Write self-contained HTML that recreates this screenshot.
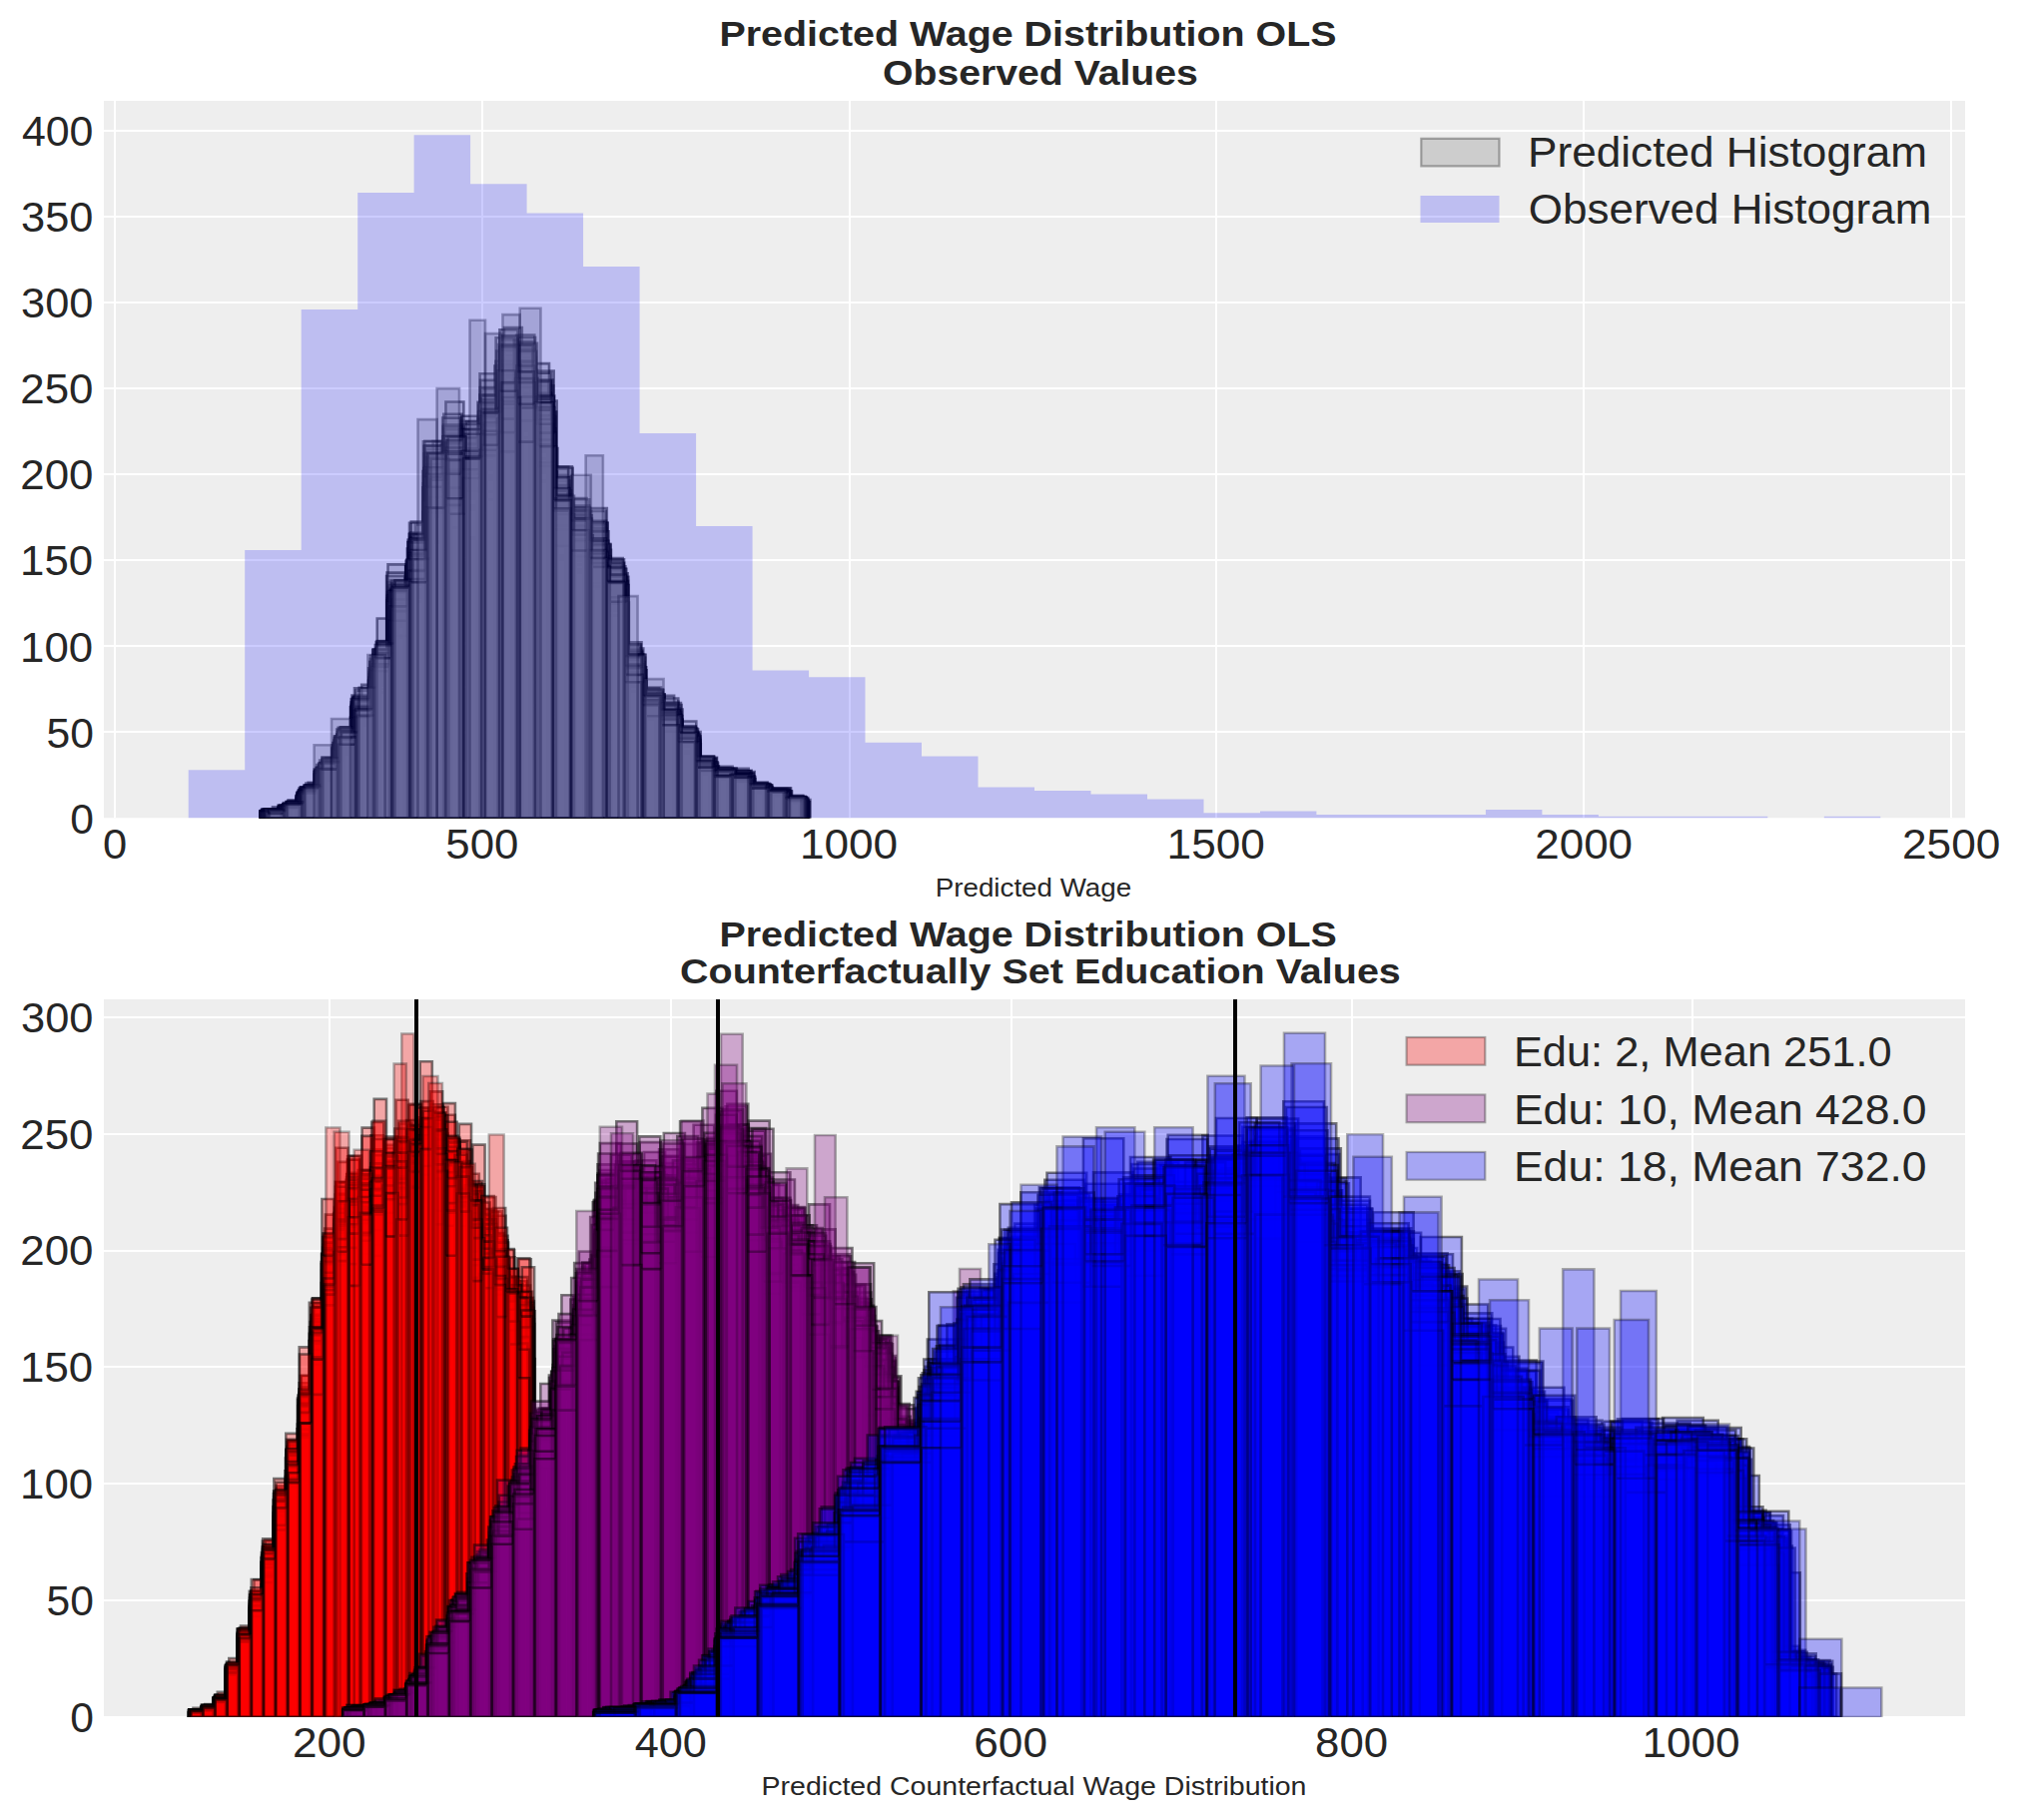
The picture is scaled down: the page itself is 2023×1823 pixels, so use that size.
<!DOCTYPE html>
<html><head><meta charset="utf-8"><title>Predicted Wage Distribution OLS</title>
<style>html,body{margin:0;padding:0;background:#fff}svg{display:block}</style></head>
<body>
<svg width="2023" height="1823" viewBox="0 0 2023 1823" font-family="'Liberation Sans', sans-serif" fill="#262626">
<rect width="2023" height="1823" fill="#fff"/>
<defs><clipPath id="ct"><rect x="104.0" y="101.0" width="1864.0" height="718.5"/></clipPath><clipPath id="cb"><rect x="104.0" y="1001.0" width="1864.0" height="719.0"/></clipPath></defs>
<rect x="104.0" y="101.0" width="1864.0" height="718.5" fill="#eee"/>
<rect x="104.0" y="1001.0" width="1864.0" height="719.0" fill="#eee"/>
<path clip-path="url(#ct)" d="M115,101.0V819.5M483,101.0V819.5M851,101.0V819.5M1218,101.0V819.5M1586,101.0V819.5M1954,101.0V819.5M104.0,820H1968.0M104.0,733H1968.0M104.0,647H1968.0M104.0,561H1968.0M104.0,475H1968.0M104.0,389H1968.0M104.0,303H1968.0M104.0,217H1968.0M104.0,131H1968.0" stroke="#fff" stroke-width="2" fill="none"/>
<path clip-path="url(#cb)" d="M330,1001.0V1720.0M672,1001.0V1720.0M1013,1001.0V1720.0M1354,1001.0V1720.0M1695,1001.0V1720.0M104.0,1720H1968.0M104.0,1603H1968.0M104.0,1486H1968.0M104.0,1369H1968.0M104.0,1253H1968.0M104.0,1136H1968.0M104.0,1019H1968.0" stroke="#fff" stroke-width="2" fill="none"/>
<g clip-path="url(#ct)" fill="#808080" fill-opacity=".3" stroke="#000" stroke-opacity=".5" stroke-width="2.6">
<path d="M265.9,819.5v-8.3h18.1v8.3v-12.6h18.1v12.6v-28h18.1v28v-57.9h18.1v57.9v-75.3h18.1v75.3v-127.9h18.2v127.9v-154.9h18.1v154.9v-231.8h18.1v231.8v-261.5h18.1v261.5v-350.9h18.1v350.9v-349.5h18.1v349.5v-351.2h18.1v351.2v-380.5h18.1v380.5v-455.8h18.1v455.8v-422.6h18.1v422.6v-379.8h18.1v379.8v-350.7h18.1v350.7v-300.7h18.1v300.7v-272.2h18.1v272.2v-209.4h18.1v209.4v-160.7h18.1v160.7v-128.4h18.1v128.4v-97.7h18.1v97.7v-74.9h18.1v74.9v-43.6h18.1v43.6v-45.5h18.1v45.5v-35.7h18.1v35.7v-29.3h18.1v29.3v-27.8h18.1v27.8v-14.7h18.1v14.7z"/>
<path d="M262.3,819.5v-7h18.3v7v-11.3h18.3v11.3v-25.1h18.3v25.1v-53.4h18.3v53.4v-68.9h18.3v68.9v-116.9h18.3v116.9v-129.8h18.3v129.8v-226.5h18.3v226.5v-237.6h18.3v237.6v-333.6h18.3v333.6v-385.3h18.3v385.3v-335.6h18.3v335.6v-387.8h18.3v387.8v-423.4h18.3v423.4v-461.8h18.3v461.8v-371h18.3v371v-282.1h18.3v282.1v-299.7h18.4v299.7v-243.2h18.3v243.2v-224.5h18.3v224.5v-147.7h18.3v147.7v-122.1h18.3v122.1v-99.1h18.3v99.1v-86.5h18.3v86.5v-52.2h18.3v52.2v-47.6h18.3v47.6v-39.3h18.3v39.3v-29.4h18.3v29.4v-27h18.3v27v-18.5h18.3v18.5z"/>
<path d="M261.1,819.5v-6.7h18.2v6.7v-12.2h18.3v12.2v-22.8h18.2v22.8v-42.8h18.3v42.8v-72.4h18.2v72.4v-115h18.3v115v-134.5h18.2v134.5v-203.1h18.3v203.1v-245.2h18.3v245.2v-353.6h18.2v353.6v-339.1h18.3v339.1v-360.4h18.2v360.4v-364.7h18.3v364.7v-445.3h18.2v445.3v-419.5h18.3v419.5v-377.8h18.2v377.8v-326.6h18.3v326.6v-274.2h18.2v274.2v-275.7h18.3v275.7v-222h18.2v222v-150.3h18.3v150.3v-120.3h18.2v120.3v-96.6h18.3v96.6v-79.4h18.2v79.4v-52h18.3v52v-45.9h18.2v45.9v-40h18.3v40v-33.3h18.3v33.3v-25.7h18.2v25.7v-16.3h18.3v16.3z"/>
<path d="M265.5,819.5v-6.3h18.1v6.3v-14.3h18v14.3v-26.4h18.1v26.4v-47h18v47v-84h18.1v84v-109.6h18v109.6v-149.9h18.1v149.9v-210h18v210v-284.3h18.1v284.3v-327.4h18v327.4v-376.9h18.1v376.9v-366.6h18v366.6v-408h18.1v408v-442h18v442v-433.2h18.1v433.2v-433.1h18v433.1v-290.2h18.1v290.2v-275.2h18v275.2v-296.3h18.1v296.3v-220.8h18v220.8v-145.8h18.1v145.8v-120.9h18v120.9v-104.3h18.1v104.3v-75.8h18v75.8v-53.7h18.1v53.7v-41h18v41v-42h18.1v42v-28.2h18v28.2v-28.2h18.1v28.2v-19h18v19z"/>
<path d="M265.5,819.5v-8.8h18.1v8.8v-9.9h18v9.9v-28h18.1v28v-52.5h18.1v52.5v-83.4h18.1v83.4v-94.9h18v94.9v-162.2h18.1v162.2v-203.9h18.1v203.9v-285.2h18.1v285.2v-323.5h18.1v323.5v-312.1h18v312.1v-347.5h18.1v347.5v-429.8h18.1v429.8v-419h18.1v419v-380.7h18v380.7v-448h18.1v448v-301.5h18.1v301.5v-298h18.1v298v-246.7h18.1v246.7v-217.7h18v217.7v-145.9h18.1v145.9v-126.6h18.1v126.6v-96h18.1v96v-74.4h18v74.4v-54.2h18.1v54.2v-47.5h18.1v47.5v-39.8h18.1v39.8v-31.5h18.1v31.5v-28.7h18v28.7v-17.2h18.1v17.2z"/>
<path d="M266,819.5v-8.4h18.1v8.4v-13h18.2v13v-27.4h18.1v27.4v-55.2h18.1v55.2v-77.6h18.2v77.6v-108.3h18.1v108.3v-161.8h18.1v161.8v-209h18.2v209v-286.3h18.1v286.3v-360.3h18.2v360.3v-340.4h18.1v340.4v-379.6h18.1v379.6v-366.2h18.2v366.2v-464h18.1v464v-410.5h18.1v410.5v-385.5h18.2v385.5v-315.8h18.1v315.8v-307.4h18.1v307.4v-248.8h18.2v248.8v-245.3h18.1v245.3v-140.9h18.2v140.9v-111.2h18.1v111.2v-98.1h18.1v98.1v-76.3h18.2v76.3v-47.4h18.1v47.4v-50.3h18.1v50.3v-46.5h18.2v46.5v-31.5h18.1v31.5v-25.8h18.1v25.8v-16.8h18.2v16.8z"/>
<path d="M261.8,819.5v-4.8h18.2v4.8v-9.9h18.1v9.9v-24.3h18.2v24.3v-47h18.2v47v-73.5h18.1v73.5v-100h18.2v100v-156.1h18.1v156.1v-228.1h18.2v228.1v-248.2h18.1v248.2v-315.1h18.2v315.1v-373.6h18.2v373.6v-377h18.1v377v-393.6h18.2v393.6v-403.6h18.1v403.6v-421.1h18.2v421.1v-381.9h18.1v381.9v-306.2h18.2v306.2v-275.1h18.2v275.1v-290.5h18.1v290.5v-209.9h18.2v209.9v-166.7h18.1v166.7v-110.1h18.2v110.1v-116.6h18.1v116.6v-77.3h18.2v77.3v-49.1h18.2v49.1v-49.1h18.1v49.1v-42.9h18.2v42.9v-33.1h18.1v33.1v-25.6h18.2v25.6v-15.9h18.1v15.9z"/>
<path d="M267.7,819.5v-8.4h18.1v8.4v-14.1h18.1v14.1v-30.9h18v30.9v-50.8h18.1v50.8v-78.9h18.1v78.9v-115.4h18.1v115.4v-165.1h18.1v165.1v-195.3h18.1v195.3v-257.7h18v257.7v-363.3h18.1v363.3v-352.3h18.1v352.3v-361.3h18.1v361.3v-410h18.1v410v-400.3h18.1v400.3v-432.7h18v432.7v-407.3h18.1v407.3v-258.9h18.1v258.9v-273h18.1v273v-273.2h18.1v273.2v-241.7h18.1v241.7v-137.2h18v137.2v-123.6h18.1v123.6v-92.6h18.1v92.6v-78.5h18.1v78.5v-49.8h18.1v49.8v-49.1h18.1v49.1v-42.1h18v42.1v-25.6h18.1v25.6v-30h18.1v30v-16.4h18.1v16.4z"/>
<path d="M261.4,819.5v-6.3h18.2v6.3v-10h18.3v10v-24.5h18.2v24.5v-47.8h18.3v47.8v-65.6h18.3v65.6v-116.7h18.2v116.7v-141h18.3v141v-216.7h18.3v216.7v-246.3h18.2v246.3v-339.4h18.3v339.4v-368.5h18.3v368.5v-335.3h18.2v335.3v-445.3h18.3v445.3v-387.6h18.3v387.6v-484h18.2v484v-439h18.3v439v-281.7h18.2v281.7v-313.2h18.3v313.2v-240.3h18.3v240.3v-233.8h18.2v233.8v-148.7h18.3v148.7v-125.4h18.3v125.4v-104.3h18.2v104.3v-72.6h18.3v72.6v-60.8h18.3v60.8v-41.7h18.2v41.7v-42.3h18.3v42.3v-30.9h18.2v30.9v-26.2h18.3v26.2v-16.1h18.3v16.1z"/>
<path d="M268.9,819.5v-7.2h17.9v7.2v-16.8h17.9v16.8v-29.7h17.9v29.7v-61.3h17.9v61.3v-81.8h17.9v81.8v-116.7h17.9v116.7v-169.7h17.9v169.7v-218.8h17.9v218.8v-249.3h17.9v249.3v-356.1h17.9v356.1v-335.1h17.9v335.1v-368.3h17.8v368.3v-374.8h17.9v374.8v-422.4h17.9v422.4v-395.8h17.9v395.8v-373.6h17.9v373.6v-311.5h17.9v311.5v-301.8h17.9v301.8v-249.3h17.9v249.3v-209.3h17.9v209.3v-145.4h17.9v145.4v-102.2h17.9v102.2v-88.5h17.9v88.5v-76.6h17.9v76.6v-47.8h17.9v47.8v-42.5h17.9v42.5v-40h17.9v40v-31.1h17.9v31.1v-27h17.9v27v-17.7h17.9v17.7z"/>
<path d="M262.9,819.5v-6.7h18.1v6.7v-10.2h18.2v10.2v-26.4h18.1v26.4v-49h18.1v49v-78.5h18.1v78.5v-120.8h18.1v120.8v-143.1h18.1v143.1v-203.9h18.1v203.9v-224.4h18.1v224.4v-327.3h18.1v327.3v-326.7h18.1v326.7v-327.9h18.1v327.9v-376.5h18.1v376.5v-454.5h18.1v454.5v-470.2h18.1v470.2v-418.2h18.1v418.2v-319.6h18.1v319.6v-246.6h18.1v246.6v-277.6h18.1v277.6v-232.6h18.1v232.6v-160.3h18.1v160.3v-115.3h18.1v115.3v-107h18.1v107v-82.3h18.2v82.3v-56.5h18.1v56.5v-47h18.1v47v-41.7h18.1v41.7v-30.9h18.1v30.9v-25.9h18.1v25.9v-17.6h18.1v17.6z"/>
<path d="M261.2,819.5v-6.9h18.1v6.9v-10.4h18.2v10.4v-25.9h18.2v25.9v-44.2h18.2v44.2v-75.5h18.2v75.5v-93h18.1v93v-148.8h18.2v148.8v-231.5h18.2v231.5v-224.9h18.2v224.9v-365.3h18.2v365.3v-291.2h18.1v291.2v-397.8h18.2v397.8v-318.9h18.2v318.9v-427.2h18.2v427.2v-450.4h18.1v450.4v-426.1h18.2v426.1v-317.4h18.2v317.4v-287.2h18.2v287.2v-307.5h18.2v307.5v-237.8h18.1v237.8v-162.7h18.2v162.7v-116.7h18.2v116.7v-100.2h18.2v100.2v-73.7h18.2v73.7v-56.2h18.1v56.2v-44.8h18.2v44.8v-39.7h18.2v39.7v-30.4h18.2v30.4v-26.2h18.2v26.2v-16.6h18.1v16.6z"/>
<path d="M262.7,819.5v-8.6h18.1v8.6v-9.5h18.1v9.5v-24.6h18.1v24.6v-43.3h18v43.3v-79.9h18.1v79.9v-108.4h18.1v108.4v-139.2h18.1v139.2v-200.6h18.1v200.6v-224.1h18.1v224.1v-324.1h18.1v324.1v-377.7h18.1v377.7v-389.7h18v389.7v-365.7h18.1v365.7v-383.2h18.1v383.2v-419.8h18.1v419.8v-422.1h18.1v422.1v-298.8h18.1v298.8v-273.6h18.1v273.6v-285.2h18v285.2v-218.8h18.1v218.8v-176.1h18.1v176.1v-112.8h18.1v112.8v-103.3h18.1v103.3v-80.3h18.1v80.3v-54.1h18.1v54.1v-46.5h18.1v46.5v-40.4h18v40.4v-33.1h18.1v33.1v-25.2h18.1v25.2v-19.1h18.1v19.1z"/>
<path d="M261.4,819.5v-6.7h18v6.7v-11.9h18v11.9v-23.2h18v23.2v-39.4h18v39.4v-75.4h18v75.4v-110.5h17.9v110.5v-137.7h18v137.7v-218.5h18v218.5v-234.4h18v234.4v-331.1h18v331.1v-373.5h18v373.5v-376.9h18v376.9v-370.8h18v370.8v-452.9h17.9v452.9v-402.3h18v402.3v-438.7h18v438.7v-314.3h18v314.3v-304.2h18v304.2v-249h18v249v-257.3h18v257.3v-166.9h18v166.9v-103.9h18v103.9v-122.6h17.9v122.6v-74.2h18v74.2v-54.1h18v54.1v-50.1h18v50.1v-39.5h18v39.5v-31.9h18v31.9v-26.9h18v26.9v-18.9h18v18.9z"/>
<path d="M266,819.5v-9h18v9v-10.7h18v10.7v-29.7h18.1v29.7v-47.8h18v47.8v-82.2h18.1v82.2v-120.2h18v120.2v-168.9h18.1v168.9v-225.9h18v225.9v-274.2h18.1v274.2v-323.7h18v323.7v-417h18v417v-337.5h18.1v337.5v-380.8h18v380.8v-451.9h18.1v451.9v-417.9h18v417.9v-382.9h18.1v382.9v-321.7h18v321.7v-301h18.1v301v-265.8h18v265.8v-243h18v243v-147.1h18.1v147.1v-111.2h18v111.2v-96.8h18.1v96.8v-80.6h18v80.6v-47.8h18.1v47.8v-47h18v47v-40.7h18.1v40.7v-31.4h18v31.4v-26h18v26v-17.8h18.1v17.8z"/>
<path d="M265.4,819.5v-7.1h18.2v7.1v-13.6h18.2v13.6v-30.7h18.2v30.7v-53.6h18.2v53.6v-78.5h18.1v78.5v-117.9h18.2v117.9v-163h18.2v163v-202.6h18.2v202.6v-243.8h18.2v243.8v-348.5h18.2v348.5v-384.5h18.1v384.5v-359.7h18.2v359.7v-373.5h18.2v373.5v-418.6h18.2v418.6v-448.7h18.2v448.7v-401.6h18.1v401.6v-308.3h18.2v308.3v-280.9h18.2v280.9v-274.5h18.2v274.5v-237.8h18.2v237.8v-151.3h18.2v151.3v-121.1h18.1v121.1v-108.9h18.2v108.9v-74.3h18.2v74.3v-47.3h18.2v47.3v-45.3h18.2v45.3v-41h18.2v41v-28.1h18.1v28.1v-27.1h18.2v27.1v-16.1h18.2v16.1z"/>
<path d="M262.2,819.5v-6.5h18.2v6.5v-12.8h18.2v12.8v-24.7h18.2v24.7v-48.5h18.3v48.5v-75.9h18.2v75.9v-110.6h18.2v110.6v-154.9h18.2v154.9v-205.4h18.3v205.4v-243.8h18.2v243.8v-328.3h18.2v328.3v-342.2h18.2v342.2v-340.1h18.2v340.1v-373.6h18.3v373.6v-417.1h18.2v417.1v-404.6h18.2v404.6v-405h18.2v405v-293h18.3v293v-319.3h18.2v319.3v-275.7h18.2v275.7v-231.8h18.2v231.8v-156.1h18.2v156.1v-123.7h18.3v123.7v-104.2h18.2v104.2v-85.8h18.2v85.8v-50.5h18.2v50.5v-46.6h18.3v46.6v-41.7h18.2v41.7v-29.3h18.2v29.3v-25.4h18.2v25.4v-17.6h18.2v17.6z"/>
<path d="M261.2,819.5v-5.1h18.2v5.1v-11.3h18.2v11.3v-22.8h18.2v22.8v-45.4h18.1v45.4v-73.4h18.2v73.4v-118.8h18.2v118.8v-126h18.2v126v-236.3h18.1v236.3v-254h18.2v254v-321.2h18.2v321.2v-371.1h18.1v371.1v-348h18.2v348v-381.3h18.2v381.3v-388.9h18.2v388.9v-470.6h18.1v470.6v-420.1h18.2v420.1v-314.1h18.2v314.1v-259.2h18.2v259.2v-290h18.1v290v-234.4h18.2v234.4v-160.1h18.2v160.1v-111.9h18.2v111.9v-99.9h18.1v99.9v-82.1h18.2v82.1v-55.3h18.2v55.3v-45.7h18.2v45.7v-39h18.1v39v-31.9h18.2v31.9v-28.7h18.2v28.7v-19.3h18.1v19.3z"/>
<path d="M260.9,819.5v-7.1h18.2v7.1v-10.2h18.1v10.2v-25.1h18.2v25.1v-38.5h18.1v38.5v-68.7h18.2v68.7v-119.4h18.1v119.4v-132.9h18.2v132.9v-223.6h18.1v223.6v-252.1h18.2v252.1v-342h18.1v342v-320.1h18.2v320.1v-325.4h18.1v325.4v-401.5h18.2v401.5v-377.5h18.1v377.5v-445.7h18.2v445.7v-398.8h18.1v398.8v-330.3h18.2v330.3v-303.2h18.1v303.2v-246.3h18.2v246.3v-241.5h18.1v241.5v-151.3h18.2v151.3v-114.7h18.1v114.7v-104.4h18.2v104.4v-91.8h18.1v91.8v-55.2h18.2v55.2v-47.4h18.1v47.4v-46.1h18.2v46.1v-30.4h18.1v30.4v-24.4h18.2v24.4v-19.8h18.1v19.8z"/>
<path d="M266.8,819.5v-8.2h17.8v8.2v-14.7h17.9v14.7v-27.9h17.8v27.9v-49.9h17.9v49.9v-78.9h17.8v78.9v-112h17.9v112v-164.1h17.8v164.1v-203.8h17.8v203.8v-266.4h17.9v266.4v-355.4h17.8v355.4v-338.9h17.9v338.9v-374.8h17.8v374.8v-412.6h17.9v412.6v-429.2h17.8v429.2v-437.6h17.9v437.6v-397.6h17.8v397.6v-295.1h17.9v295.1v-269.4h17.8v269.4v-276.1h17.9v276.1v-233.6h17.8v233.6v-158.2h17.9v158.2v-114.2h17.8v114.2v-97.6h17.9v97.6v-87.3h17.8v87.3v-51.9h17.8v51.9v-45.1h17.9v45.1v-43.8h17.8v43.8v-32.9h17.9v32.9v-25.5h17.8v25.5v-18.7h17.9v18.7z"/>
<path d="M262.1,819.5v-8.8h18.1v8.8v-10.1h18v10.1v-25.7h18.1v25.7v-46.3h18v46.3v-78h18.1v78v-113.8h18.1v113.8v-136.1h18v136.1v-254.1h18.1v254.1v-239h18v239v-350.5h18.1v350.5v-341.9h18.1v341.9v-320.5h18v320.5v-399.7h18.1v399.7v-382.3h18v382.3v-422.4h18.1v422.4v-354h18v354v-330.9h18.1v330.9v-310.7h18.1v310.7v-253.9h18v253.9v-242.4h18.1v242.4v-157.1h18v157.1v-120.2h18.1v120.2v-108.8h18.1v108.8v-79.7h18v79.7v-49.7h18.1v49.7v-43.6h18v43.6v-49.6h18.1v49.6v-33.4h18.1v33.4v-26.7h18v26.7v-18.5h18.1v18.5z"/>
<path d="M273,819.5v-11.2h17.9v11.2v-16.7h17.8v16.7v-35.7h17.9v35.7v-60.2h17.8v60.2v-85.4h17.8v85.4v-133.6h17.9v133.6v-176.8h17.8v176.8v-200.8h17.9v200.8v-294.1h17.8v294.1v-377.4h17.9v377.4v-348.1h17.8v348.1v-341h17.8v341v-349.5h17.9v349.5v-491.4h17.8v491.4v-413.9h17.9v413.9v-370.5h17.8v370.5v-309.9h17.8v309.9v-291.1h17.9v291.1v-268.7h17.8v268.7v-216h17.9v216v-148.1h17.8v148.1v-109.6h17.9v109.6v-102.5h17.8v102.5v-77.1h17.8v77.1v-55h17.9v55v-44.1h17.8v44.1v-39.6h17.9v39.6v-29.1h17.8v29.1v-28.9h17.8v28.9v-19.2h17.9v19.2z"/>
<path d="M265.7,819.5v-6.7h18v6.7v-14.1h18.1v14.1v-27.9h18v27.9v-52.6h18v52.6v-79.2h18.1v79.2v-112.9h18v112.9v-151.2h18v151.2v-222.3h18.1v222.3v-295.7h18v295.7v-339.8h18v339.8v-368.7h18v368.7v-322.6h18.1v322.6v-369.1h18v369.1v-420.1h18v420.1v-407.9h18.1v407.9v-410.8h18v410.8v-298.5h18v298.5v-292.7h18.1v292.7v-268.5h18v268.5v-237.1h18v237.1v-155.5h18.1v155.5v-117.8h18v117.8v-110.3h18v110.3v-87.8h18.1v87.8v-53.3h18v53.3v-42.2h18v42.2v-43.3h18v43.3v-34.6h18.1v34.6v-23.6h18v23.6v-19.2h18v19.2z"/>
<path d="M263.3,819.5v-6.4h18v6.4v-10.6h18.1v10.6v-25h18.1v25v-46.3h18.1v46.3v-74.1h18v74.1v-121.7h18.1v121.7v-136.5h18.1v136.5v-201.3h18v201.3v-270h18.1v270v-315.3h18.1v315.3v-391.9h18.1v391.9v-311.4h18v311.4v-363.5h18.1v363.5v-383.9h18.1v383.9v-456.7h18.1v456.7v-406.7h18v406.7v-311.2h18.1v311.2v-282.7h18.1v282.7v-277.7h18v277.7v-231.3h18.1v231.3v-158.8h18.1v158.8v-128h18.1v128v-99.8h18v99.8v-83h18.1v83v-53.9h18.1v53.9v-45.4h18.1v45.4v-41.5h18v41.5v-32.8h18.1v32.8v-22.4h18.1v22.4v-20.5h18v20.5z"/>
<path d="M263.6,819.5v-5.1h18.1v5.1v-12h18v12v-30.3h18.1v30.3v-47.7h18.1v47.7v-74.2h18v74.2v-114.4h18.1v114.4v-154.9h18.1v154.9v-211.6h18v211.6v-250.9h18.1v250.9v-353.7h18.1v353.7v-356.4h18v356.4v-402.7h18.1v402.7v-423.9h18.1v423.9v-390.9h18v390.9v-455.3h18.1v455.3v-387.1h18.1v387.1v-337.9h18v337.9v-274.8h18.1v274.8v-276.1h18.1v276.1v-218.2h18v218.2v-157.2h18.1v157.2v-121.4h18.1v121.4v-91.8h18v91.8v-82.3h18.1v82.3v-50.8h18.1v50.8v-42h18v42v-40.4h18.1v40.4v-29h18.1v29v-27.3h18v27.3v-17.1h18.1v17.1z"/>
<path d="M260.4,819.5v-7.1h18.1v7.1v-10.8h18.1v10.8v-21.4h18.1v21.4v-46.1h18.1v46.1v-69.6h18.1v69.6v-111.2h18.1v111.2v-137.6h18.1v137.6v-242.5h18.1v242.5v-235.2h18.1v235.2v-306.8h18.1v306.8v-368.2h18.1v368.2v-380.4h18.1v380.4v-372.8h18.1v372.8v-403.1h18.1v403.1v-425.6h18.1v425.6v-346.5h18.1v346.5v-343.6h18.1v343.6v-295.5h18.1v295.5v-245.6h18.2v245.6v-233.8h18.1v233.8v-160.3h18.1v160.3v-124.3h18.1v124.3v-113.9h18.1v113.9v-80.9h18.1v80.9v-54.8h18.1v54.8v-48.5h18.1v48.5v-43.2h18.1v43.2v-31.3h18.1v31.3v-25.7h18.1v25.7v-18.8h18.1v18.8z"/>
<path d="M264.4,819.5v-6h18v6v-11.8h18v11.8v-27.6h18v27.6v-47.7h18.1v47.7v-81.7h18v81.7v-103.5h18v103.5v-155.6h18v155.6v-225h18.1v225v-247.6h18v247.6v-322.6h18v322.6v-314.2h18v314.2v-366.8h18v366.8v-369.3h18.1v369.3v-366.5h18v366.5v-420.8h18v420.8v-360.2h18v360.2v-330.5h18v330.5v-288.1h18.1v288.1v-263.1h18v263.1v-226.8h18v226.8v-152.1h18v152.1v-107.1h18.1v107.1v-103.1h18v103.1v-81.6h18v81.6v-47.7h18v47.7v-48.2h18v48.2v-41.4h18.1v41.4v-31.7h18v31.7v-24.5h18v24.5v-19.6h18v19.6z"/>
<path d="M262.9,819.5v-8.7h18.1v8.7v-9.5h18.2v9.5v-25.2h18.1v25.2v-50.1h18.1v50.1v-73.3h18.2v73.3v-120.4h18.1v120.4v-148.7h18.1v148.7v-200.1h18.2v200.1v-244h18.1v244v-329.9h18.1v329.9v-394.2h18.1v394.2v-346.7h18.2v346.7v-410.9h18.1v410.9v-424.9h18.1v424.9v-477.4h18.2v477.4v-405.8h18.1v405.8v-308.8h18.1v308.8v-294h18.2v294v-282.9h18.1v282.9v-232.1h18.1v232.1v-158.1h18.2v158.1v-121.8h18.1v121.8v-102.1h18.1v102.1v-90.3h18.2v90.3v-55.1h18.1v55.1v-45.7h18.1v45.7v-41.3h18.2v41.3v-29.7h18.1v29.7v-26.3h18.1v26.3v-16.4h18.2v16.4z"/>
<path d="M266.1,819.5v-8.1h17.9v8.1v-13.9h17.9v13.9v-27h17.9v27v-50h17.9v50v-80.8h18v80.8v-112.6h17.9v112.6v-149.6h17.9v149.6v-233.8h17.9v233.8v-224.4h17.9v224.4v-315.2h17.9v315.2v-389.2h17.9v389.2v-328.6h18v328.6v-438.6h17.9v438.6v-414.2h17.9v414.2v-387.7h17.9v387.7v-407.5h17.9v407.5v-324.1h17.9v324.1v-286.3h17.9v286.3v-259.3h18v259.3v-242.7h17.9v242.7v-167.5h17.9v167.5v-111.2h17.9v111.2v-92.3h17.9v92.3v-78.9h17.9v78.9v-57.1h17.9v57.1v-47.4h18v47.4v-46.8h17.9v46.8v-31.1h17.9v31.1v-25h17.9v25v-19.9h17.9v19.9z"/>
<path d="M266.1,819.5v-8.9h18v8.9v-11.9h18v11.9v-28.6h18v28.6v-50.4h18v50.4v-84.2h18.1v84.2v-114.6h18v114.6v-159.1h18v159.1v-209.8h18v209.8v-256.9h18v256.9v-330.9h18.1v330.9v-365.1h18v365.1v-366.3h18v366.3v-397.2h18v397.2v-442.8h18v442.8v-420.1h18.1v420.1v-412.7h18v412.7v-262.6h18v262.6v-283.3h18v283.3v-244.3h18v244.3v-231.6h18v231.6v-149h18.1v149v-119.1h18v119.1v-90.4h18v90.4v-75.8h18v75.8v-53.7h18v53.7v-45.8h18.1v45.8v-43.7h18v43.7v-29.6h18v29.6v-25.4h18v25.4v-20.6h18v20.6z"/>
<path d="M265.5,819.5v-6.9h17.9v6.9v-13.4h18v13.4v-29.3h18v29.3v-49.9h18v49.9v-75.7h18v75.7v-114.3h18v114.3v-157.2h18v157.2v-210h17.9v210v-265.8h18v265.8v-352h18v352v-319.9h18v319.9v-350.7h18v350.7v-360.9h18v360.9v-408.9h18v408.9v-453.1h18v453.1v-386.6h17.9v386.6v-321.2h18v321.2v-280.1h18v280.1v-250.3h18v250.3v-232.8h18v232.8v-167.9h18v167.9v-117.1h18v117.1v-95.5h17.9v95.5v-87.7h18v87.7v-52.3h18v52.3v-43h18v43v-38.2h18v38.2v-32.6h18v32.6v-25.2h18v25.2v-18.3h17.9v18.3z"/>
<path d="M270.7,819.5v-8.7h17.8v8.7v-13.2h17.9v13.2v-31.8h17.8v31.8v-56.3h17.8v56.3v-86h17.9v86v-114h17.8v114v-200h17.9v200v-232.1h17.8v232.1v-265.4h17.9v265.4v-343.8h17.8v343.8v-346.1h17.8v346.1v-365.3h17.9v365.3v-389.2h17.8v389.2v-409.6h17.9v409.6v-441.8h17.8v441.8v-403.7h17.8v403.7v-313.8h17.9v313.8v-262.5h17.8v262.5v-237.1h17.9v237.1v-216.1h17.8v216.1v-147.6h17.9v147.6v-113.8h17.8v113.8v-97.8h17.8v97.8v-81.1h17.9v81.1v-47.5h17.8v47.5v-43.2h17.9v43.2v-39.4h17.8v39.4v-30.1h17.9v30.1v-26.8h17.8v26.8v-17h17.8v17z"/>
<path d="M261.3,819.5v-4.9h18.3v4.9v-11.9h18.2v11.9v-20.9h18.3v20.9v-47.9h18.2v47.9v-73.9h18.3v73.9v-109h18.3v109v-139.4h18.2v139.4v-220.6h18.3v220.6v-226h18.2v226v-309.1h18.3v309.1v-392.6h18.2v392.6v-340.2h18.3v340.2v-405.2h18.3v405.2v-371.5h18.2v371.5v-433.1h18.3v433.1v-396.6h18.2v396.6v-342.5h18.3v342.5v-269.7h18.2v269.7v-268.8h18.3v268.8v-249.7h18.3v249.7v-153.3h18.2v153.3v-108.5h18.3v108.5v-103.7h18.2v103.7v-82.1h18.3v82.1v-60h18.2v60v-44.3h18.3v44.3v-40.8h18.2v40.8v-33h18.3v33v-28h18.3v28v-16.7h18.2v16.7z"/>
<path d="M261.8,819.5v-6.6h18v6.6v-11.9h18v11.9v-22.4h18v22.4v-45.9h18v45.9v-72.6h18v72.6v-98.3h18v98.3v-146h18.1v146v-222.4h18v222.4v-235.1h18v235.1v-335.1h18v335.1v-354.1h18v354.1v-389.6h18v389.6v-371.3h18v371.3v-395.6h18.1v395.6v-389.8h18v389.8v-455.4h18v455.4v-300.3h18v300.3v-310.6h18v310.6v-260.6h18v260.6v-219.6h18v219.6v-156.3h18v156.3v-114.1h18.1v114.1v-104.3h18v104.3v-88.4h18v88.4v-59.2h18v59.2v-47.2h18v47.2v-43.1h18v43.1v-32h18v32v-28.6h18.1v28.6v-17.7h18v17.7z"/>
<path d="M266.7,819.5v-6.5h17.9v6.5v-14.3h17.9v14.3v-29.7h18v29.7v-45.8h17.9v45.8v-88.5h17.9v88.5v-118.8h17.9v118.8v-166.7h18v166.7v-206h17.9v206v-255.7h17.9v255.7v-346.5h17.9v346.5v-342.3h18v342.3v-340h17.9v340v-395.4h17.9v395.4v-416.4h18v416.4v-437.4h17.9v437.4v-385.5h17.9v385.5v-276.4h17.9v276.4v-298.4h18v298.4v-262.2h17.9v262.2v-225.2h17.9v225.2v-148.3h17.9v148.3v-120.7h18v120.7v-87.3h17.9v87.3v-79.4h17.9v79.4v-54h18v54v-44.1h17.9v44.1v-43.6h17.9v43.6v-34.7h17.9v34.7v-23.1h18v23.1v-17.6h17.9v17.6z"/>
<path d="M260.3,819.5v-5.2h18.1v5.2v-12.6h18.2v12.6v-19.9h18.1v19.9v-48.9h18.1v48.9v-70.4h18.2v70.4v-101.3h18.1v101.3v-150.3h18.2v150.3v-198h18.1v198v-221.4h18.1v221.4v-347.4h18.2v347.4v-355.7h18.1v355.7v-333.4h18.1v333.4v-390.5h18.2v390.5v-406.3h18.1v406.3v-393.3h18.1v393.3v-411h18.2v411v-303.8h18.1v303.8v-304h18.2v304v-230.1h18.1v230.1v-243.1h18.1v243.1v-164.8h18.2v164.8v-118.6h18.1v118.6v-100.7h18.1v100.7v-84.4h18.2v84.4v-55.2h18.1v55.2v-40.7h18.1v40.7v-45h18.2v45v-31.7h18.1v31.7v-24.2h18.2v24.2v-21.7h18.1v21.7z"/>
<path d="M264.3,819.5v-6.9h18.1v6.9v-11h18.1v11v-27.9h18.1v27.9v-46.6h18v46.6v-78h18.1v78v-112.2h18.1v112.2v-150.2h18.1v150.2v-194.5h18v194.5v-277.8h18.1v277.8v-303.6h18.1v303.6v-373.3h18.1v373.3v-309h18v309v-424.2h18.1v424.2v-418.5h18.1v418.5v-472.5h18.1v472.5v-397.5h18v397.5v-315.6h18.1v315.6v-285.1h18.1v285.1v-310.4h18.1v310.4v-237.5h18v237.5v-156.6h18.1v156.6v-130.9h18.1v130.9v-99.2h18.1v99.2v-86.8h18v86.8v-59.5h18.1v59.5v-45h18.1v45v-40.9h18.1v40.9v-25.9h18v25.9v-24.1h18.1v24.1v-21.7h18.1v21.7z"/>
<path d="M265.1,819.5v-6.6h18v6.6v-12.7h17.9v12.7v-31.2h17.9v31.2v-51.2h18v51.2v-78.7h17.9v78.7v-107.9h18v107.9v-157.6h17.9v157.6v-238h18v238v-238.2h17.9v238.2v-353h18v353v-326.3h17.9v326.3v-380.6h17.9v380.6v-398.7h18v398.7v-393.2h17.9v393.2v-425.4h18v425.4v-424.6h17.9v424.6v-283h18v283v-301.2h17.9v301.2v-252.3h18v252.3v-258.1h17.9v258.1v-149.3h17.9v149.3v-112.7h18v112.7v-100.3h17.9v100.3v-72.6h18v72.6v-52.7h17.9v52.7v-45.3h18v45.3v-43.6h17.9v43.6v-29.4h18v29.4v-25.5h17.9v25.5v-19.9h17.9v19.9z"/>
<path d="M261.3,819.5v-6.4h18.1v6.4v-11.8h18.1v11.8v-22.7h18v22.7v-48.4h18.1v48.4v-71.9h18.1v71.9v-116.1h18.1v116.1v-140.7h18.1v140.7v-220.2h18.1v220.2v-235.7h18.1v235.7v-327h18v327v-347h18.1v347v-360.6h18.1v360.6v-376.9h18.1v376.9v-390h18.1v390v-455.2h18.1v455.2v-404.7h18.1v404.7v-294.5h18v294.5v-308.3h18.1v308.3v-259h18.1v259v-234.5h18.1v234.5v-154.1h18.1v154.1v-124.2h18.1v124.2v-113.7h18.1v113.7v-82.1h18v82.1v-54h18.1v54v-47h18.1v47v-39.6h18.1v39.6v-33.5h18.1v33.5v-27.8h18.1v27.8v-18h18.1v18z"/>
<path d="M263.9,819.5v-9h18v9v-10.1h18.1v10.1v-29h18v29v-45.7h18.1v45.7v-81.9h18v81.9v-112.7h18.1v112.7v-143.8h18v143.8v-222.2h18.1v222.2v-276.1h18.1v276.1v-276.5h18v276.5v-377.7h18.1v377.7v-327h18v327v-369h18.1v369v-452.9h18v452.9v-441h18.1v441v-400.6h18v400.6v-277.5h18.1v277.5v-289.5h18v289.5v-293.4h18.1v293.4v-214.6h18.1v214.6v-144.5h18v144.5v-122.3h18.1v122.3v-109.5h18v109.5v-75.9h18.1v75.9v-53.4h18v53.4v-42.2h18.1v42.2v-42.2h18v42.2v-30.3h18.1v30.3v-26.1h18v26.1v-18.2h18.1v18.2z"/>
<path d="M265.2,819.5v-8.2h18.1v8.2v-11.8h18v11.8v-23.4h18.1v23.4v-47.2h18v47.2v-76.9h18.1v76.9v-118.2h18.1v118.2v-152.8h18v152.8v-217.5h18.1v217.5v-240.7h18.1v240.7v-365h18v365v-372.8h18.1v372.8v-325.4h18v325.4v-394.3h18.1v394.3v-430.7h18.1v430.7v-481.5h18v481.5v-367.5h18.1v367.5v-298.8h18v298.8v-306.5h18.1v306.5v-248.2h18.1v248.2v-235.4h18v235.4v-156.5h18.1v156.5v-115.7h18.1v115.7v-105.4h18v105.4v-76.8h18.1v76.8v-48.9h18v48.9v-46.2h18.1v46.2v-41.7h18.1v41.7v-30.4h18v30.4v-25.2h18.1v25.2v-18.6h18v18.6z"/>
<path d="M266.9,819.5v-9.3h18v9.3v-14.1h18.1v14.1v-28.5h18v28.5v-55.5h18.1v55.5v-79.6h18v79.6v-109.6h18v109.6v-161.6h18.1v161.6v-218.1h18v218.1v-278.7h18v278.7v-348.8h18.1v348.8v-366.1h18v366.1v-347.5h18.1v347.5v-406.4h18v406.4v-403.6h18v403.6v-423.9h18.1v423.9v-405.8h18v405.8v-285.4h18v285.4v-281.6h18.1v281.6v-271.2h18v271.2v-217.5h18.1v217.5v-156.5h18v156.5v-118h18v118v-102.1h18.1v102.1v-76.4h18v76.4v-54.5h18v54.5v-42.4h18.1v42.4v-39.8h18v39.8v-29.3h18.1v29.3v-28h18v28v-18.2h18v18.2z"/>
<path d="M262.5,819.5v-5.5h18.2v5.5v-12.4h18.2v12.4v-25.8h18.2v25.8v-43.8h18.1v43.8v-80.5h18.2v80.5v-111.2h18.2v111.2v-149.6h18.2v149.6v-233.1h18.2v233.1v-238.6h18.1v238.6v-360.6h18.2v360.6v-404.7h18.2v404.7v-343.1h18.2v343.1v-431.4h18.2v431.4v-417.6h18.1v417.6v-468.2h18.2v468.2v-402.4h18.2v402.4v-324h18.2v324v-296.9h18.2v296.9v-260.4h18.2v260.4v-221.3h18.1v221.3v-164.3h18.2v164.3v-114h18.2v114v-97.2h18.2v97.2v-84.9h18.2v84.9v-52.8h18.1v52.8v-44.8h18.2v44.8v-40.1h18.2v40.1v-33.2h18.2v33.2v-25.1h18.2v25.1v-20.4h18.1v20.4z"/>
<path d="M264.4,819.5v-7.3h18.1v7.3v-11.2h18.2v11.2v-29h18.2v29v-46.9h18.1v46.9v-76.7h18.2v76.7v-107.7h18.1v107.7v-154.6h18.2v154.6v-218.6h18.2v218.6v-271.4h18.1v271.4v-360.8h18.2v360.8v-337.5h18.1v337.5v-374.1h18.2v374.1v-361.8h18.2v361.8v-479.1h18.1v479.1v-454.4h18.2v454.4v-398.6h18.1v398.6v-313.1h18.2v313.1v-279h18.2v279v-250.7h18.1v250.7v-237.1h18.2v237.1v-151.6h18.2v151.6v-120.9h18.1v120.9v-95.5h18.2v95.5v-83.2h18.1v83.2v-50.2h18.2v50.2v-43.7h18.2v43.7v-45.5h18.1v45.5v-28.6h18.2v28.6v-26h18.1v26v-17.3h18.2v17.3z"/>
<path d="M261.8,819.5v-7h18.2v7v-9.5h18.3v9.5v-25.1h18.2v25.1v-43.9h18.2v43.9v-74.1h18.2v74.1v-103.6h18.2v103.6v-162.6h18.2v162.6v-225.5h18.2v225.5v-252.3h18.3v252.3v-359.6h18.2v359.6v-344.5h18.2v344.5v-371.4h18.2v371.4v-415.5h18.2v415.5v-369.7h18.2v369.7v-413.4h18.2v413.4v-421h18.3v421v-328.3h18.2v328.3v-301.8h18.2v301.8v-248.5h18.2v248.5v-223.3h18.2v223.3v-169.9h18.2v169.9v-125.1h18.2v125.1v-101.2h18.3v101.2v-84.9h18.2v84.9v-56.3h18.2v56.3v-45.7h18.2v45.7v-40.9h18.2v40.9v-33.9h18.2v33.9v-24.1h18.2v24.1v-16.9h18.3v16.9z"/>
<path d="M262.9,819.5v-8.8h18v8.8v-10.3h18.1v10.3v-26.2h18v26.2v-47.3h18.1v47.3v-71.8h18v71.8v-110.4h18.1v110.4v-145.3h18.1v145.3v-204.6h18v204.6v-247.7h18.1v247.7v-377.8h18v377.8v-339.9h18.1v339.9v-326.2h18v326.2v-356.8h18.1v356.8v-432.9h18v432.9v-448h18.1v448v-386.4h18.1v386.4v-312.4h18v312.4v-283.7h18.1v283.7v-246.5h18v246.5v-247.1h18.1v247.1v-159.2h18v159.2v-117.1h18.1v117.1v-107.4h18.1v107.4v-77h18v77v-52.2h18.1v52.2v-46.2h18v46.2v-43.4h18.1v43.4v-27.3h18v27.3v-28.7h18.1v28.7v-17.7h18.1v17.7z"/>
<path d="M265.5,819.5v-8.9h17.9v8.9v-11.1h17.9v11.1v-28.7h17.9v28.7v-46.1h17.9v46.1v-82.3h17.9v82.3v-110.9h17.9v110.9v-145.2h17.9v145.2v-220.8h17.9v220.8v-245h17.9v245v-369.6h17.9v369.6v-346.2h17.8v346.2v-361.8h17.9v361.8v-352.6h17.9v352.6v-380h17.9v380v-432.1h17.9v432.1v-417.3h17.9v417.3v-324.2h17.9v324.2v-320.4h17.9v320.4v-254.2h17.9v254.2v-229.4h17.9v229.4v-149.4h17.9v149.4v-114.1h17.9v114.1v-111.3h17.9v111.3v-76h17.9v76v-57.3h17.9v57.3v-43.4h17.8v43.4v-41.7h17.9v41.7v-28.6h17.9v28.6v-27.8h17.9v27.8v-20.1h17.9v20.1z"/>
<path d="M270.1,819.5v-8.9h17.7v8.9v-16.1h17.8v16.1v-31.2h17.8v31.2v-59.3h17.7v59.3v-82.4h17.8v82.4v-115.1h17.7v115.1v-176.4h17.8v176.4v-217.7h17.7v217.7v-243h17.8v243v-353.9h17.7v353.9v-357.4h17.8v357.4v-333.1h17.8v333.1v-398.9h17.7v398.9v-399h17.8v399v-449.5h17.7v449.5v-350.6h17.8v350.6v-320.6h17.7v320.6v-258.6h17.8v258.6v-290.1h17.8v290.1v-255.8h17.7v255.8v-140.1h17.8v140.1v-122.1h17.7v122.1v-102.9h17.8v102.9v-77.5h17.7v77.5v-52.8h17.8v52.8v-46.6h17.7v46.6v-44.9h17.8v44.9v-28.7h17.8v28.7v-27.5h17.7v27.5v-21h17.8v21z"/>
<path d="M260.4,819.5v-7.1h18.3v7.1v-9.6h18.2v9.6v-22h18.2v22v-43.7h18.3v43.7v-63.9h18.2v63.9v-112.7h18.2v112.7v-143.9h18.2v143.9v-226.5h18.3v226.5v-245.4h18.2v245.4v-327.6h18.2v327.6v-329h18.3v329v-357h18.2v357v-379.7h18.2v379.7v-416.2h18.2v416.2v-441.8h18.3v441.8v-409.1h18.2v409.1v-329h18.2v329v-271.7h18.3v271.7v-260.5h18.2v260.5v-230.6h18.2v230.6v-164.1h18.2v164.1v-110.9h18.3v110.9v-104.3h18.2v104.3v-85.7h18.2v85.7v-50.9h18.3v50.9v-44.1h18.2v44.1v-44.1h18.2v44.1v-32.6h18.2v32.6v-28.6h18.3v28.6v-18.6h18.2v18.6z"/>
<path d="M266.9,819.5v-6.8h17.9v6.8v-13.7h18v13.7v-28.2h18v28.2v-54.4h17.9v54.4v-81.2h18v81.2v-118.5h18v118.5v-159.7h17.9v159.7v-237.8h18v237.8v-247.8h18v247.8v-323.6h17.9v323.6v-317.8h18v317.8v-357h18v357v-396.1h17.9v396.1v-398.5h18v398.5v-466.1h18v466.1v-382.7h17.9v382.7v-328h18v328v-302.7h18v302.7v-277.7h18v277.7v-239.1h17.9v239.1v-131.9h18v131.9v-112h18v112v-95h17.9v95v-86.5h18v86.5v-52h18v52v-41.3h17.9v41.3v-47.2h18v47.2v-25.8h18v25.8v-28.5h17.9v28.5v-17.2h18v17.2z"/>
<path d="M264.5,819.5v-6.8h18.1v6.8v-11.5h18v11.5v-27.3h18.1v27.3v-48.1h18v48.1v-71.7h18.1v71.7v-112.4h18v112.4v-155h18.1v155v-216h18v216v-217.3h18.1v217.3v-324.3h18v324.3v-345.2h18.1v345.2v-360.4h18v360.4v-354.9h18.1v354.9v-428.5h18v428.5v-424h18.1v424v-370.7h18v370.7v-317h18.1v317v-272.2h18.1v272.2v-240.5h18v240.5v-241h18.1v241v-140.5h18v140.5v-113.7h18.1v113.7v-98.1h18v98.1v-88.8h18.1v88.8v-54h18v54v-45.7h18.1v45.7v-45.3h18v45.3v-29.3h18.1v29.3v-27.3h18v27.3v-16.1h18.1v16.1z"/>
<path d="M266.8,819.5v-8.8h17.9v8.8v-12.7h18v12.7v-29.7h17.9v29.7v-51.7h18v51.7v-80.6h17.9v80.6v-114.1h17.9v114.1v-165.6h18v165.6v-194.9h17.9v194.9v-267.7h18v267.7v-349.2h17.9v349.2v-346.5h18v346.5v-374.9h17.9v374.9v-419.3h17.9v419.3v-431.7h18v431.7v-414.9h17.9v414.9v-392.2h18v392.2v-284.1h17.9v284.1v-305.4h18v305.4v-268.9h17.9v268.9v-210.6h17.9v210.6v-151.3h18v151.3v-122.5h17.9v122.5v-99.5h18v99.5v-75.5h17.9v75.5v-49h18v49v-47.9h17.9v47.9v-44.9h17.9v44.9v-27.7h18v27.7v-26.2h17.9v26.2v-16.9h18v16.9z"/>
<path d="M263.9,819.5v-6.7h18.1v6.7v-12.3h18.1v12.3v-25.2h18.1v25.2v-47.5h18.1v47.5v-78.2h18.1v78.2v-101.1h18.1v101.1v-158.1h18.1v158.1v-230.3h18.1v230.3v-243.1h18.1v243.1v-346.8h18.1v346.8v-376.7h18.1v376.7v-364.2h18.1v364.2v-409.8h18.1v409.8v-399.6h18.1v399.6v-469.8h18.1v469.8v-337.4h18.1v337.4v-326.7h18.1v326.7v-302.6h18.1v302.6v-251.7h18.2v251.7v-232.5h18.1v232.5v-139.1h18.1v139.1v-98.8h18.1v98.8v-107.6h18.1v107.6v-82.8h18.1v82.8v-55.2h18.1v55.2v-42.3h18.1v42.3v-47.7h18.1v47.7v-26.5h18.1v26.5v-27.1h18.1v27.1v-16.3h18.1v16.3z"/>
<path d="M261.6,819.5v-6.3h18.1v6.3v-13.3h18.2v13.3v-22.5h18.2v22.5v-48.3h18.1v48.3v-73.7h18.2v73.7v-107h18.1v107v-147.5h18.2v147.5v-213.6h18.1v213.6v-241.2h18.2v241.2v-357.1h18.2v357.1v-400.9h18.1v400.9v-343h18.2v343v-413.3h18.1v413.3v-379.3h18.2v379.3v-452.4h18.2v452.4v-405.8h18.1v405.8v-314.3h18.2v314.3v-294.3h18.1v294.3v-287.9h18.2v287.9v-237.5h18.1v237.5v-148.5h18.2v148.5v-118.3h18.2v118.3v-113.4h18.1v113.4v-82.4h18.2v82.4v-55.2h18.1v55.2v-43.8h18.2v43.8v-44.1h18.2v44.1v-33h18.1v33v-29.4h18.2v29.4v-20.2h18.1v20.2z"/>
<path d="M269.5,819.5v-6.1h18v6.1v-15.1h17.9v15.1v-31.6h18v31.6v-59.8h18v59.8v-91.1h17.9v91.1v-112.5h18v112.5v-162.8h18v162.8v-220.8h17.9v220.8v-277h18v277v-361.1h17.9v361.1v-337.1h18v337.1v-351.4h18v351.4v-404h17.9v404v-393.2h18v393.2v-414.5h17.9v414.5v-406.5h18v406.5v-293.4h18v293.4v-303.2h17.9v303.2v-255.6h18v255.6v-217.2h17.9v217.2v-142.7h18v142.7v-115.7h18v115.7v-113.5h17.9v113.5v-80.6h18v80.6v-48.3h18v48.3v-45.7h17.9v45.7v-39.4h18v39.4v-31.3h17.9v31.3v-25.3h18v25.3v-18.9h18v18.9z"/>
<path d="M261.6,819.5v-6.2h18.2v6.2v-11.6h18.2v11.6v-21.3h18.2v21.3v-46.3h18.3v46.3v-72.7h18.2v72.7v-109.6h18.2v109.6v-153.7h18.2v153.7v-181.5h18.2v181.5v-241.8h18.2v241.8v-342h18.2v342v-353.1h18.2v353.1v-347.7h18.2v347.7v-363.7h18.2v363.7v-402.3h18.3v402.3v-406.9h18.2v406.9v-416.3h18.2v416.3v-321.6h18.2v321.6v-297.9h18.2v297.9v-268.7h18.2v268.7v-247.8h18.2v247.8v-155.3h18.2v155.3v-125.6h18.2v125.6v-107.6h18.2v107.6v-83.6h18.2v83.6v-58.9h18.3v58.9v-42.2h18.2v42.2v-44.1h18.2v44.1v-31.5h18.2v31.5v-26.2h18.2v26.2v-19.3h18.2v19.3z"/>
<path d="M264.8,819.5v-8.2h18.1v8.2v-11.2h18.1v11.2v-31.1h18.1v31.1v-46.4h18.1v46.4v-79.5h18.1v79.5v-117.4h18.1v117.4v-141.7h18.1v141.7v-221.9h18.1v221.9v-224.2h18.1v224.2v-355.1h18.1v355.1v-347h18.1v347v-364.7h18.1v364.7v-401.7h18.1v401.7v-385.1h18.1v385.1v-449.2h18.1v449.2v-420.9h18.1v420.9v-312.4h18.1v312.4v-280.1h18v280.1v-295.2h18.1v295.2v-214h18.1v214v-138.8h18.1v138.8v-120.2h18.1v120.2v-109.7h18.1v109.7v-73.3h18.1v73.3v-55.2h18.1v55.2v-44.3h18.1v44.3v-43.5h18.1v43.5v-31.1h18.1v31.1v-25.3h18.1v25.3v-17.4h18.1v17.4z"/>
<path d="M268.7,819.5v-8h17.9v8v-16.1h18v16.1v-30.5h18v30.5v-46h17.9v46v-80.9h18v80.9v-108.4h18v108.4v-168.1h17.9v168.1v-210.1h18v210.1v-270h18v270v-351.3h17.9v351.3v-323.5h18v323.5v-341.6h18v341.6v-396.8h17.9v396.8v-373.5h18v373.5v-415.2h18v415.2v-402.1h17.9v402.1v-278.7h18v278.7v-299.4h18v299.4v-267.2h17.9v267.2v-241.3h18v241.3v-137.8h18v137.8v-121.1h17.9v121.1v-115.4h18v115.4v-76.4h18v76.4v-51.8h17.9v51.8v-42.2h18v42.2v-40.3h18v40.3v-32.6h17.9v32.6v-22.6h18v22.6v-21.2h18v21.2z"/>
<path d="M262.8,819.5v-5.1h18v5.1v-11.6h18.1v11.6v-28.2h18v28.2v-41.2h18v41.2v-81.7h18v81.7v-99.3h18.1v99.3v-142.4h18v142.4v-219.6h18v219.6v-236.9h18v236.9v-343.8h18.1v343.8v-340h18v340v-346.9h18v346.9v-406.7h18v406.7v-404.3h18.1v404.3v-411h18v411v-373.9h18v373.9v-350h18v350v-301.1h18.1v301.1v-261.7h18v261.7v-213h18v213v-148.1h18v148.1v-117.8h18.1v117.8v-104.1h18v104.1v-77h18v77v-54.7h18v54.7v-50.5h18.1v50.5v-43.1h18v43.1v-34h18v34v-27.1h18v27.1v-18.3h18.1v18.3z"/>
<path d="M261.7,819.5v-7h18.2v7v-10.4h18.1v10.4v-24.1h18.2v24.1v-47.3h18.1v47.3v-69.5h18.2v69.5v-122.9h18.1v122.9v-139.6h18.1v139.6v-198.7h18.2v198.7v-236.3h18.1v236.3v-350.9h18.2v350.9v-325h18.1v325v-362.5h18.2v362.5v-391.6h18.1v391.6v-382.2h18.2v382.2v-439.7h18.1v439.7v-389.8h18.2v389.8v-333.5h18.1v333.5v-275.3h18.2v275.3v-296.3h18.1v296.3v-248.2h18.2v248.2v-166.5h18.1v166.5v-118.7h18.2v118.7v-90.9h18.1v90.9v-97h18.2v97v-46.2h18.1v46.2v-40.2h18.2v40.2v-43.5h18.1v43.5v-30.7h18.2v30.7v-23.8h18.1v23.8v-19h18.2v19z"/>
<path d="M261.3,819.5v-6.7h18.2v6.7v-9.5h18.2v9.5v-22.5h18.1v22.5v-44.5h18.2v44.5v-66h18.2v66v-108.8h18.1v108.8v-156.6h18.2v156.6v-197.7h18.2v197.7v-257.5h18.1v257.5v-347.7h18.2v347.7v-345.2h18.2v345.2v-367.8h18.1v367.8v-403.9h18.2v403.9v-393.8h18.2v393.8v-444.4h18.1v444.4v-417.4h18.2v417.4v-292.4h18.2v292.4v-292.6h18.1v292.6v-274.6h18.2v274.6v-255h18.2v255v-147.9h18.1v147.9v-110.1h18.2v110.1v-115.2h18.1v115.2v-75.9h18.2v75.9v-61.8h18.2v61.8v-51.7h18.1v51.7v-40.1h18.2v40.1v-32.8h18.2v32.8v-28.5h18.1v28.5v-18.6h18.2v18.6z"/>
<path d="M260.4,819.5v-5.8h18.1v5.8v-10.5h18.2v10.5v-21.9h18.2v21.9v-47.3h18.1v47.3v-73.2h18.2v73.2v-99.6h18.2v99.6v-138.1h18.1v138.1v-245.9h18.2v245.9v-217.2h18.2v217.2v-377.3h18.1v377.3v-372.1h18.2v372.1v-355.1h18.2v355.1v-342.6h18.1v342.6v-412.6h18.2v412.6v-468.4h18.2v468.4v-408.1h18.1v408.1v-351.8h18.2v351.8v-270.3h18.2v270.3v-267.7h18.1v267.7v-260.4h18.2v260.4v-143h18.2v143v-130.1h18.1v130.1v-101.2h18.2v101.2v-80.5h18.1v80.5v-59.2h18.2v59.2v-45.3h18.2v45.3v-44.7h18.1v44.7v-33.8h18.2v33.8v-26.9h18.2v26.9v-18.6h18.1v18.6z"/>
<path d="M261.3,819.5v-7.1h18.1v7.1v-12.1h18.2v12.1v-22.7h18.1v22.7v-47.3h18.2v47.3v-66.5h18.1v66.5v-112.1h18.2v112.1v-148.3h18.1v148.3v-207.4h18.2v207.4v-251.9h18.1v251.9v-350.4h18.2v350.4v-347.4h18.1v347.4v-348h18.2v348v-415.7h18.1v415.7v-467.9h18.2v467.9v-446.6h18.1v446.6v-423.5h18.2v423.5v-297.2h18.1v297.2v-286.6h18.2v286.6v-279.6h18.1v279.6v-215h18.2v215v-161.5h18.1v161.5v-114.1h18.2v114.1v-106.3h18.1v106.3v-73.9h18.2v73.9v-50.9h18.1v50.9v-45.8h18.2v45.8v-45.3h18.1v45.3v-30.8h18.2v30.8v-28h18.1v28v-21.2h18.2v21.2z"/>
<path d="M261.1,819.5v-7.6h18.2v7.6v-12.2h18.1v12.2v-21.7h18.2v21.7v-46.5h18.1v46.5v-67.3h18.2v67.3v-114.8h18.1v114.8v-139.4h18.2v139.4v-199.4h18.1v199.4v-252.1h18.2v252.1v-372.7h18.1v372.7v-317.6h18.2v317.6v-366.7h18.1v366.7v-389.7h18.1v389.7v-415.6h18.2v415.6v-381h18.1v381v-391.4h18.2v391.4v-313.2h18.1v313.2v-301.8h18.2v301.8v-267.9h18.1v267.9v-235.3h18.2v235.3v-149.7h18.1v149.7v-118.4h18.2v118.4v-107.1h18.1v107.1v-90.6h18.2v90.6v-53.4h18.1v53.4v-47.4h18.2v47.4v-47.3h18.1v47.3v-29.9h18.2v29.9v-23.5h18.1v23.5v-21.2h18.2v21.2z"/>
<path d="M262.7,819.5v-8.3h18v8.3v-10.1h18v10.1v-27.4h17.9v27.4v-50.6h18v50.6v-73.2h18v73.2v-107.5h18v107.5v-138h18v138v-223.3h18v223.3v-229.2h17.9v229.2v-341.9h18v341.9v-363.7h18v363.7v-336.5h18v336.5v-416.6h18v416.6v-457.8h18v457.8v-458.3h17.9v458.3v-398.9h18v398.9v-327.8h18v327.8v-271.6h18v271.6v-272.6h18v272.6v-254.3h18v254.3v-149.4h17.9v149.4v-127.9h18v127.9v-114.3h18v114.3v-82.8h18v82.8v-53.6h18v53.6v-45.8h18v45.8v-42.2h17.9v42.2v-31.1h18v31.1v-28.7h18v28.7v-17.9h18v17.9z"/>
<path d="M265.1,819.5v-6.6h18v6.6v-11.9h18.1v11.9v-26.9h18.1v26.9v-53.6h18v53.6v-83.8h18.1v83.8v-118.2h18.1v118.2v-169.2h18v169.2v-204.4h18.1v204.4v-260.6h18.1v260.6v-326.9h18v326.9v-373.5h18.1v373.5v-368.3h18v368.3v-365.1h18.1v365.1v-382.2h18.1v382.2v-473.8h18v473.8v-419.9h18.1v419.9v-272.8h18.1v272.8v-276.1h18v276.1v-275h18.1v275v-252.3h18.1v252.3v-147.8h18v147.8v-114.7h18.1v114.7v-107.2h18.1v107.2v-75.8h18v75.8v-52.5h18.1v52.5v-39.4h18v39.4v-43.1h18.1v43.1v-29.7h18.1v29.7v-26.5h18v26.5v-16.3h18.1v16.3z"/>
<path d="M264.7,819.5v-8.4h18.1v8.4v-9.6h18v9.6v-29.7h18.1v29.7v-46.4h18.1v46.4v-79.5h18.1v79.5v-113h18.1v113v-168.2h18.1v168.2v-200h18.1v200v-266.3h18.1v266.3v-354.2h18.1v354.2v-355.5h18.1v355.5v-345h18.1v345v-356.5h18.1v356.5v-405.2h18.1v405.2v-398.4h18.1v398.4v-421.9h18.1v421.9v-297.9h18v297.9v-308.1h18.1v308.1v-261.9h18.1v261.9v-225.5h18.1v225.5v-147.1h18.1v147.1v-112.9h18.1v112.9v-108.3h18.1v108.3v-65h18.1v65v-48h18.1v48v-40.1h18.1v40.1v-41.1h18.1v41.1v-31.2h18.1v31.2v-28.2h18.1v28.2v-18.3h18.1v18.3z"/>
<path d="M263.5,819.5v-7.5h18v7.5v-9.5h18.1v9.5v-27h18.1v27v-50.8h18v50.8v-71.1h18.1v71.1v-119.6h18.1v119.6v-148.1h18v148.1v-221.2h18.1v221.2v-254.3h18.1v254.3v-342.3h18v342.3v-339.8h18.1v339.8v-334.1h18.1v334.1v-375.7h18v375.7v-411.4h18.1v411.4v-456.3h18.1v456.3v-411.3h18v411.3v-318.8h18.1v318.8v-294.3h18.1v294.3v-264h18v264v-231.9h18.1v231.9v-155.6h18.1v155.6v-100.4h18v100.4v-113.5h18.1v113.5v-80.1h18.1v80.1v-58.7h18v58.7v-43.5h18.1v43.5v-40.3h18.1v40.3v-34.5h18v34.5v-27.8h18.1v27.8v-19.2h18.1v19.2z"/>
<path d="M263.3,819.5v-6.8h18v6.8v-10.4h18v10.4v-27.6h18v27.6v-50.4h18v50.4v-74.3h18v74.3v-108.9h18.1v108.9v-152.1h18v152.1v-215.7h18v215.7v-242.8h18v242.8v-373.1h18v373.1v-340h18v340v-337.2h18v337.2v-407.5h18v407.5v-368.6h18v368.6v-450.9h18v450.9v-436.8h18v436.8v-288.8h18v288.8v-303.7h18v303.7v-252.2h18v252.2v-229.8h18v229.8v-173h18v173v-113.8h18v113.8v-101.7h18v101.7v-84.6h18v84.6v-53h18v53v-45.8h18v45.8v-41.9h18v41.9v-31.5h18.1v31.5v-27.9h18v27.9v-16.2h18v16.2z"/>
<path d="M270.8,819.5v-9.3h17.9v9.3v-18.2h17.8v18.2v-33.2h17.8v33.2v-50.4h17.9v50.4v-90.7h17.8v90.7v-112.1h17.8v112.1v-176.9h17.8v176.9v-228.8h17.9v228.8v-272.1h17.8v272.1v-343.9h17.8v343.9v-352.5h17.9v352.5v-397.2h17.8v397.2v-401h17.8v401v-406.1h17.8v406.1v-400.4h17.9v400.4v-356.2h17.8v356.2v-306.5h17.8v306.5v-270h17.9v270v-287.1h17.8v287.1v-249.6h17.8v249.6v-126.9h17.8v126.9v-125h17.9v125v-103h17.8v103v-72.6h17.8v72.6v-49.4h17.9v49.4v-45.3h17.8v45.3v-40.7h17.8v40.7v-30.6h17.8v30.6v-28.7h17.9v28.7v-16.1h17.8v16.1z"/>
<path d="M264.7,819.5v-8.6h18.1v8.6v-10.4h18.1v10.4v-26.8h18.1v26.8v-48.6h18.1v48.6v-81.7h18.1v81.7v-113.7h18.1v113.7v-142.7h18.1v142.7v-197.3h18.1v197.3v-256.1h18.1v256.1v-334.6h18.1v334.6v-365.8h18.1v365.8v-352.5h18.1v352.5v-423h18.1v423v-413.2h18.1v413.2v-457.4h18.1v457.4v-377.1h18.1v377.1v-305.4h18.1v305.4v-270.8h18.1v270.8v-267.5h18.1v267.5v-238h18.1v238v-148.3h18.1v148.3v-125.4h18.1v125.4v-106.4h18.1v106.4v-84.6h18.1v84.6v-53.8h18.1v53.8v-47.4h18.1v47.4v-41.8h18.1v41.8v-33.8h18.2v33.8v-24.5h18.1v24.5v-20.4h18.1v20.4z"/>
<path d="M262.8,819.5v-7.8h18.1v7.8v-11h18v11v-23.5h18.1v23.5v-49.8h18v49.8v-82.3h18.1v82.3v-106.3h18v106.3v-147.7h18.1v147.7v-191.8h18v191.8v-246.9h18.1v246.9v-351.5h18v351.5v-382.3h18.1v382.3v-280.6h18v280.6v-398.9h18.1v398.9v-435.9h18v435.9v-433.1h18.1v433.1v-373h18v373v-312.7h18.1v312.7v-300.1h18v300.1v-252h18v252v-241.7h18.1v241.7v-151.3h18v151.3v-116.3h18.1v116.3v-112.5h18v112.5v-78.3h18.1v78.3v-55h18v55v-43.9h18.1v43.9v-42.4h18v42.4v-32.5h18.1v32.5v-28.5h18v28.5v-19.4h18.1v19.4z"/>
<path d="M268.4,819.5v-8.7h17.9v8.7v-13h17.9v13v-31.7h17.9v31.7v-51.9h17.9v51.9v-74.8h18v74.8v-121.2h17.9v121.2v-165.8h17.9v165.8v-229.4h17.9v229.4v-296.9h17.9v296.9v-325.4h17.9v325.4v-366.7h17.9v366.7v-312.5h18v312.5v-391.4h17.9v391.4v-413.9h17.9v413.9v-467.7h17.9v467.7v-367.2h17.9v367.2v-352.3h17.9v352.3v-249.2h17.9v249.2v-235.5h17.9v235.5v-211h18v211v-153h17.9v153v-113h17.9v113v-95.2h17.9v95.2v-79.5h17.9v79.5v-53.3h17.9v53.3v-41h17.9v41v-44h18v44v-33h17.9v33v-28h17.9v28v-19h17.9v19z"/>
<path d="M270.4,819.5v-8.6h18v8.6v-17.1h17.9v17.1v-31.7h18v31.7v-57.3h17.9v57.3v-87.6h18v87.6v-112.9h18v112.9v-168.8h17.9v168.8v-199.1h18v199.1v-271.1h17.9v271.1v-338.1h18v338.1v-331.7h18v331.7v-367.1h17.9v367.1v-326.9h18v326.9v-454.4h17.9v454.4v-395.7h18v395.7v-417.9h17.9v417.9v-304.1h18v304.1v-283.3h18v283.3v-262.4h17.9v262.4v-220h18v220v-136.9h17.9v136.9v-123.9h18v123.9v-96.3h18v96.3v-80.7h17.9v80.7v-51.5h18v51.5v-42.3h17.9v42.3v-37h18v37v-33.1h18v33.1v-26.7h17.9v26.7v-18.5h18v18.5z"/>
<path d="M270.5,819.5v-6.9h18v6.9v-15.6h17.9v15.6v-35h18v35v-55.3h17.9v55.3v-87.3h18v87.3v-117.3h18v117.3v-146.4h17.9v146.4v-228.5h18v228.5v-284.8h17.9v284.8v-340.7h18v340.7v-305.2h18v305.2v-330.1h17.9v330.1v-367.1h18v367.1v-448.9h17.9v448.9v-405.7h18v405.7v-346.9h17.9v346.9v-284.6h18v284.6v-283.2h18v283.2v-274.5h17.9v274.5v-233.4h18v233.4v-136.7h17.9v136.7v-123.9h18v123.9v-98.6h18v98.6v-82.3h17.9v82.3v-46.3h18v46.3v-46.1h17.9v46.1v-39.3h18v39.3v-29.3h18v29.3v-30.3h17.9v30.3v-20.5h18v20.5z"/>
<path d="M262.1,819.5v-7.4h18.1v7.4v-11.6h18.1v11.6v-23.2h18.1v23.2v-48.1h18.1v48.1v-71.9h18.1v71.9v-113h18.2v113v-137.8h18.1v137.8v-214h18.1v214v-258.2h18.1v258.2v-301.9h18.1v301.9v-356.5h18.1v356.5v-381.2h18.1v381.2v-394.3h18.1v394.3v-374.8h18.1v374.8v-473.8h18.1v473.8v-437.9h18.1v437.9v-311h18.1v311v-293.1h18.1v293.1v-238.2h18.1v238.2v-226.8h18.1v226.8v-160.7h18.1v160.7v-116.5h18.1v116.5v-94.6h18.1v94.6v-84.3h18.1v84.3v-49.2h18.1v49.2v-44.5h18.1v44.5v-39.8h18.1v39.8v-33.8h18.1v33.8v-27.2h18.1v27.2v-18.5h18.1v18.5z"/>
<path d="M263.4,819.5v-7.1h18.1v7.1v-9.8h18.1v9.8v-26.7h18v26.7v-49.1h18.1v49.1v-80h18.1v80v-110.4h18.1v110.4v-144.9h18.1v144.9v-225.5h18.1v225.5v-256.1h18.1v256.1v-335.7h18.1v335.7v-376.1h18.1v376.1v-358.5h18.1v358.5v-400.5h18.1v400.5v-443.7h18.1v443.7v-420.5h18.1v420.5v-389.3h18.1v389.3v-311.7h18.1v311.7v-269.1h18.1v269.1v-270.2h18.1v270.2v-220.9h18.1v220.9v-162.6h18.1v162.6v-116.7h18v116.7v-97.2h18.1v97.2v-84.8h18.1v84.8v-54.6h18.1v54.6v-47.5h18.1v47.5v-41.5h18.1v41.5v-32.6h18.1v32.6v-23.5h18.1v23.5v-17.8h18.1v17.8z"/>
<path d="M264.2,819.5v-7.1h18.2v7.1v-11.3h18.2v11.3v-28.4h18.1v28.4v-47.4h18.2v47.4v-75.4h18.2v75.4v-105.7h18.1v105.7v-158.4h18.2v158.4v-228.8h18.2v228.8v-270.2h18.1v270.2v-361.5h18.2v361.5v-374.7h18.2v374.7v-370.2h18.2v370.2v-384.1h18.1v384.1v-489.2h18.2v489.2v-425.9h18.2v425.9v-389.4h18.1v389.4v-307.9h18.2v307.9v-284.1h18.2v284.1v-262.1h18.1v262.1v-217.7h18.2v217.7v-143.1h18.2v143.1v-128.9h18.1v128.9v-106.3h18.2v106.3v-77.8h18.2v77.8v-46.2h18.1v46.2v-47.7h18.2v47.7v-41.6h18.2v41.6v-31.3h18.1v31.3v-27.1h18.2v27.1v-16h18.2v16z"/>
<path d="M266.2,819.5v-7.2h18v7.2v-13.7h18.1v13.7v-27.1h18v27.1v-49.8h18v49.8v-86.8h18v86.8v-112.2h18.1v112.2v-151.2h18v151.2v-214.3h18v214.3v-280.5h18.1v280.5v-311.5h18v311.5v-375.8h18v375.8v-365.5h18v365.5v-402.6h18.1v402.6v-469.2h18v469.2v-422h18v422v-421.9h18v421.9v-274.8h18.1v274.8v-275.4h18v275.4v-267.4h18v267.4v-228.4h18.1v228.4v-142.4h18v142.4v-124.4h18v124.4v-101.7h18v101.7v-83.3h18.1v83.3v-50.2h18v50.2v-47.8h18v47.8v-40.8h18v40.8v-30.7h18.1v30.7v-25.4h18v25.4v-18.2h18v18.2z"/>
<path d="M264.4,819.5v-6.7h18v6.7v-12.4h18.1v12.4v-27.8h18v27.8v-49.7h18v49.7v-80.7h18.1v80.7v-107.1h18v107.1v-154.3h18.1v154.3v-228.7h18v228.7v-279h18v279v-348.2h18.1v348.2v-382.8h18v382.8v-363.2h18.1v363.2v-388.3h18v388.3v-474.4h18v474.4v-446.5h18.1v446.5v-366.8h18v366.8v-299h18v299v-253.7h18.1v253.7v-297.8h18v297.8v-216.2h18.1v216.2v-154.1h18v154.1v-122.3h18v122.3v-104.8h18.1v104.8v-75.7h18v75.7v-51.3h18.1v51.3v-47.9h18v47.9v-39.5h18v39.5v-30.6h18.1v30.6v-26.8h18v26.8v-17.1h18.1v17.1z"/>
<path d="M260.3,819.5v-6.2h18.2v6.2v-9.6h18.1v9.6v-22.8h18.2v22.8v-43.9h18.2v43.9v-68.7h18.2v68.7v-100.2h18.1v100.2v-140.8h18.2v140.8v-216.4h18.2v216.4v-229.2h18.2v229.2v-317.2h18.1v317.2v-358h18.2v358v-358.6h18.2v358.6v-357.2h18.2v357.2v-481.3h18.2v481.3v-409.9h18.1v409.9v-412.9h18.2v412.9v-317.2h18.2v317.2v-284.3h18.2v284.3v-240.8h18.1v240.8v-255.7h18.2v255.7v-174.3h18.2v174.3v-118.9h18.2v118.9v-106.5h18.1v106.5v-88.6h18.2v88.6v-62h18.2v62v-47.3h18.2v47.3v-42.4h18.2v42.4v-31.9h18.1v31.9v-25.8h18.2v25.8v-21.2h18.2v21.2z"/>
<path d="M264.8,819.5v-7.1h17.9v7.1v-11.1h18v11.1v-28.1h17.9v28.1v-50.5h18v50.5v-74.8h17.9v74.8v-121.4h18v121.4v-154.2h17.9v154.2v-227.2h18v227.2v-244h17.9v244v-365.6h18v365.6v-334.9h17.9v334.9v-337.1h18v337.1v-402.4h17.9v402.4v-398.4h18v398.4v-421.9h17.9v421.9v-445.7h18v445.7v-341.2h17.9v341.2v-277.6h18v277.6v-254.5h17.9v254.5v-244.2h18v244.2v-158.9h17.9v158.9v-121.5h18v121.5v-108.9h17.9v108.9v-90.2h18v90.2v-50.1h17.9v50.1v-43.8h18v43.8v-41.8h17.9v41.8v-30.1h18v30.1v-26.6h17.9v26.6v-21.4h18v21.4z"/>
<path d="M267.5,819.5v-7.1h18.1v7.1v-12.2h18v12.2v-30.3h18.1v30.3v-53.9h18v53.9v-90.1h18.1v90.1v-98.3h18v98.3v-162.6h18.1v162.6v-215.5h18v215.5v-284h18.1v284v-341.8h18v341.8v-378.2h18.1v378.2v-350.7h18v350.7v-382.5h18.1v382.5v-393.6h18v393.6v-440.2h18.1v440.2v-390.3h18v390.3v-318.2h18.1v318.2v-273h18v273v-256.3h18.1v256.3v-236.7h18v236.7v-151h18.1v151v-118.3h18.1v118.3v-94.3h18v94.3v-83.9h18.1v83.9v-56.3h18v56.3v-44.7h18.1v44.7v-44.5h18v44.5v-28.9h18.1v28.9v-26.6h18v26.6v-17.2h18.1v17.2z"/>
<path d="M268.8,819.5v-9h17.8v9v-13.6h17.9v13.6v-30.4h17.8v30.4v-54.3h17.9v54.3v-81.9h17.8v81.9v-119.6h17.9v119.6v-154.4h17.8v154.4v-212.2h17.9v212.2v-264.3h17.8v264.3v-326.6h17.9v326.6v-359.2h17.8v359.2v-320.6h17.9v320.6v-381.5h17.8v381.5v-391.6h17.8v391.6v-447.3h17.9v447.3v-368.1h17.8v368.1v-296.1h17.9v296.1v-270.1h17.8v270.1v-274.5h17.9v274.5v-220.8h17.8v220.8v-151.1h17.9v151.1v-101.2h17.8v101.2v-120h17.9v120v-83.1h17.8v83.1v-49.5h17.8v49.5v-45.9h17.9v45.9v-45.2h17.8v45.2v-31.4h17.9v31.4v-21.7h17.8v21.7v-22.6h17.9v22.6z"/>
<path d="M265.9,819.5v-6.6h18.1v6.6v-15.4h18v15.4v-27.2h18.1v27.2v-50.4h18.1v50.4v-82.4h18.1v82.4v-104h18.1v104v-155h18.1v155v-234.9h18.1v234.9v-244.8h18.1v244.8v-329.1h18v329.1v-378.5h18.1v378.5v-394.6h18.1v394.6v-380.4h18.1v380.4v-473.6h18.1v473.6v-390.6h18.1v390.6v-422.9h18.1v422.9v-277.2h18.1v277.2v-299.1h18v299.1v-277.8h18.1v277.8v-208.2h18.1v208.2v-163.6h18.1v163.6v-117.5h18.1v117.5v-91.9h18.1v91.9v-80.7h18.1v80.7v-54.6h18.1v54.6v-46.5h18v46.5v-37.8h18.1v37.8v-28.1h18.1v28.1v-28.2h18.1v28.2v-17h18.1v17z"/>
<path d="M268.8,819.5v-6.7h17.8v6.7v-15.8h17.9v15.8v-29.5h17.8v29.5v-58.8h17.8v58.8v-77.4h17.8v77.4v-117.4h17.8v117.4v-155h17.8v155v-225.6h17.8v225.6v-253.1h17.9v253.1v-316.7h17.8v316.7v-371h17.8v371v-364.2h17.8v364.2v-383.5h17.8v383.5v-434.6h17.8v434.6v-401.4h17.8v401.4v-354.6h17.8v354.6v-301.5h17.9v301.5v-286.4h17.8v286.4v-273.4h17.8v273.4v-216.7h17.8v216.7v-160.7h17.8v160.7v-118.5h17.8v118.5v-95.7h17.8v95.7v-66.5h17.9v66.5v-57.7h17.8v57.7v-45.5h17.8v45.5v-43.7h17.8v43.7v-35.2h17.8v35.2v-27.4h17.8v27.4v-16h17.8v16z"/>
<path d="M264.1,819.5v-6.9h18.2v6.9v-12.8h18.2v12.8v-25.1h18.2v25.1v-46.9h18.1v46.9v-69.1h18.2v69.1v-130.3h18.2v130.3v-142.4h18.1v142.4v-208.1h18.2v208.1v-276.1h18.2v276.1v-329.4h18.2v329.4v-349.1h18.1v349.1v-389.3h18.2v389.3v-393.4h18.2v393.4v-472h18.1v472v-423.9h18.2v423.9v-403.3h18.2v403.3v-323.9h18.2v323.9v-292h18.1v292v-260.2h18.2v260.2v-221.1h18.2v221.1v-150.4h18.1v150.4v-117.7h18.2v117.7v-103.5h18.2v103.5v-78.9h18.2v78.9v-50.1h18.1v50.1v-38.9h18.2v38.9v-41.4h18.2v41.4v-32.4h18.1v32.4v-27.4h18.2v27.4v-18.9h18.2v18.9z"/>
<path d="M261.8,819.5v-5.9h18.2v5.9v-11.4h18.1v11.4v-24.8h18.2v24.8v-47.2h18.2v47.2v-74.5h18.2v74.5v-100h18.1v100v-159.6h18.2v159.6v-227.4h18.2v227.4v-228.7h18.1v228.7v-341.2h18.2v341.2v-367.2h18.2v367.2v-330.9h18.2v330.9v-356h18.1v356v-448.2h18.2v448.2v-431.5h18.2v431.5v-419.9h18.1v419.9v-299.4h18.2v299.4v-307.7h18.2v307.7v-280.1h18.2v280.1v-218.9h18.1v218.9v-154.2h18.2v154.2v-116h18.2v116v-106h18.1v106v-82.5h18.2v82.5v-55.2h18.2v55.2v-49.6h18.2v49.6v-36.7h18.1v36.7v-25.8h18.2v25.8v-28.4h18.2v28.4v-16.2h18.1v16.2z"/>
<path d="M266.6,819.5v-6.4h18v6.4v-13.7h18v13.7v-26.6h18v26.6v-55.4h18v55.4v-90.7h18v90.7v-112h18v112v-160.3h18.1v160.3v-219h18v219v-280.6h18v280.6v-364.5h18v364.5v-367.4h18v367.4v-359.5h18v359.5v-405.4h18v405.4v-382.4h18v382.4v-421.6h18v421.6v-399.5h18.1v399.5v-293.1h18v293.1v-311.5h18v311.5v-254.7h18v254.7v-202.8h18v202.8v-153.9h18v153.9v-111.1h18v111.1v-100.5h18v100.5v-75h18v75v-49.6h18.1v49.6v-42.8h18v42.8v-41h18v41v-29h18v29v-27.6h18v27.6v-14.8h18v14.8z"/>
<path d="M269,819.5v-8h17.9v8v-14.3h17.9v14.3v-33h17.9v33v-55.4h17.9v55.4v-91.2h17.9v91.2v-111.3h17.9v111.3v-168.6h17.9v168.6v-231h17.9v231v-248.2h17.9v248.2v-321.5h17.9v321.5v-347h17.9v347v-384.7h17.9v384.7v-339.6h17.9v339.6v-436.1h17.9v436.1v-438h17.9v438v-411.5h17.9v411.5v-309h17.9v309v-260.5h17.9v260.5v-258.1h17.9v258.1v-242.4h17.9v242.4v-134.9h17.9v134.9v-114.7h17.9v114.7v-108.3h17.9v108.3v-82.4h17.9v82.4v-52.2h17.9v52.2v-42.4h17.9v42.4v-43.9h17.9v43.9v-31.8h17.9v31.8v-27.1h17.9v27.1v-19.8h17.9v19.8z"/>
<path d="M266.1,819.5v-7.4h17.9v7.4v-13.1h18v13.1v-28.3h17.9v28.3v-50.8h18v50.8v-79.8h17.9v79.8v-110.9h17.9v110.9v-160.8h18v160.8v-182.6h17.9v182.6v-265.2h18v265.2v-351.3h17.9v351.3v-311.3h18v311.3v-344.8h17.9v344.8v-366.7h18v366.7v-410.7h17.9v410.7v-453h18v453v-379h17.9v379v-288.9h18v288.9v-300.4h17.9v300.4v-235.2h18v235.2v-259.3h17.9v259.3v-164h18v164v-112.1h17.9v112.1v-105.7h18v105.7v-80.5h17.9v80.5v-56.5h18v56.5v-47.6h17.9v47.6v-41.3h18v41.3v-36h17.9v36v-24.1h18v24.1v-21.8h17.9v21.8z"/>
<path d="M271,819.5v-7.5h17.8v7.5v-15.3h17.8v15.3v-32.8h17.8v32.8v-56.5h17.8v56.5v-87.1h17.8v87.1v-103h17.8v103v-177.5h17.8v177.5v-206.5h17.8v206.5v-249h17.8v249v-341.9h17.8v341.9v-330.9h17.8v330.9v-327.5h17.8v327.5v-396.2h17.8v396.2v-436.4h17.8v436.4v-475.6h17.8v475.6v-356.3h17.8v356.3v-318.2h17.8v318.2v-277.2h17.8v277.2v-232.1h17.8v232.1v-243.7h17.8v243.7v-146.7h17.9v146.7v-114.6h17.8v114.6v-93h17.8v93v-75.3h17.8v75.3v-53.5h17.8v53.5v-43.9h17.8v43.9v-43.8h17.8v43.8v-30h17.8v30v-26.5h17.8v26.5v-18.7h17.8v18.7z"/>
<path d="M265.6,819.5v-6.2h18.1v6.2v-14.4h18v14.4v-27.5h18.1v27.5v-54.4h18v54.4v-86.2h18.1v86.2v-110.4h18.1v110.4v-162.7h18v162.7v-207.5h18.1v207.5v-262.9h18v262.9v-306h18.1v306v-358.6h18.1v358.6v-360.8h18v360.8v-409.7h18.1v409.7v-417.7h18.1v417.7v-422h18v422v-352.6h18.1v352.6v-272.6h18v272.6v-262.4h18.1v262.4v-266h18.1v266v-214.7h18v214.7v-152h18.1v152v-122.1h18.1v122.1v-86.9h18v86.9v-89.2h18.1v89.2v-52h18v52v-46.2h18.1v46.2v-39.7h18.1v39.7v-29.3h18v29.3v-26.3h18.1v26.3v-18.8h18v18.8z"/>
<path d="M269.2,819.5v-6.9h18v6.9v-16.3h18v16.3v-32.8h17.9v32.8v-57h18v57v-78.9h17.9v78.9v-108.5h18v108.5v-165.1h18v165.1v-229.8h17.9v229.8v-278.7h18v278.7v-338.9h17.9v338.9v-382h18v382v-360.5h17.9v360.5v-387.7h18v387.7v-414.9h18v414.9v-398.1h17.9v398.1v-385.9h18v385.9v-304.2h17.9v304.2v-278.9h18v278.9v-252.6h18v252.6v-221.2h17.9v221.2v-136.1h18v136.1v-115.5h17.9v115.5v-100.9h18v100.9v-81.7h18v81.7v-51h17.9v51v-47.7h18v47.7v-36.9h17.9v36.9v-31.7h18v31.7v-26.4h18v26.4v-16.7h17.9v16.7z"/>
<path d="M262.9,819.5v-6.7h18.1v6.7v-10.4h18.1v10.4v-26.6h18v26.6v-50.3h18.1v50.3v-80.6h18.1v80.6v-119.4h18.1v119.4v-147.3h18.1v147.3v-197.8h18.1v197.8v-259.2h18.1v259.2v-331.7h18v331.7v-358.6h18.1v358.6v-349.3h18.1v349.3v-363.1h18.1v363.1v-399.9h18.1v399.9v-440.4h18.1v440.4v-374h18.1v374v-330.5h18v330.5v-288.3h18.1v288.3v-264.2h18.1v264.2v-251h18.1v251v-162.2h18.1v162.2v-122.6h18.1v122.6v-99.8h18.1v99.8v-91.9h18v91.9v-54.2h18.1v54.2v-46.9h18.1v46.9v-39.4h18.1v39.4v-32.1h18.1v32.1v-28.1h18.1v28.1v-18.9h18.1v18.9z"/>
<path d="M265,819.5v-9.3h18v9.3v-10.8h18.1v10.8v-25h18v25v-54.9h18.1v54.9v-88.9h18v88.9v-101.3h18.1v101.3v-154.1h18v154.1v-227.6h18v227.6v-247.6h18.1v247.6v-344.8h18v344.8v-313.6h18.1v313.6v-340.5h18v340.5v-384.2h18v384.2v-367.1h18.1v367.1v-436.2h18v436.2v-394.7h18.1v394.7v-320.2h18v320.2v-283.9h18.1v283.9v-255.5h18v255.5v-235.4h18v235.4v-150.4h18.1v150.4v-114.6h18v114.6v-102.5h18.1v102.5v-85.4h18v85.4v-51.2h18.1v51.2v-42.6h18v42.6v-39.5h18v39.5v-33.7h18.1v33.7v-27h18v27v-17.6h18.1v17.6z"/>
<path d="M264.6,819.5v-6.8h18v6.8v-12.9h18v12.9v-27.6h18v27.6v-49.1h18v49.1v-80.2h18v80.2v-107.8h18v107.8v-151.5h18v151.5v-212.1h18v212.1v-239.4h18v239.4v-310.9h18v310.9v-344.7h18v344.7v-367.7h18v367.7v-368.7h18v368.7v-386.4h18v386.4v-447.1h18v447.1v-408.9h17.9v408.9v-307.8h18v307.8v-298.1h18v298.1v-277.5h18v277.5v-236.2h18v236.2v-152.8h18v152.8v-118.1h18v118.1v-98.5h18v98.5v-79.7h18v79.7v-61.5h18v61.5v-40.7h18v40.7v-43.5h18v43.5v-33.1h18v33.1v-28.6h18v28.6v-18.6h18v18.6z"/>
<path d="M270,819.5v-7.5h18v7.5v-16.1h17.9v16.1v-31.2h17.9v31.2v-56.1h18v56.1v-86h17.9v86v-130.7h17.9v130.7v-175h18v175v-238.2h17.9v238.2v-259.6h18v259.6v-359.7h17.9v359.7v-304.8h17.9v304.8v-362.3h18v362.3v-406.6h17.9v406.6v-421.5h18v421.5v-411h17.9v411v-372.2h17.9v372.2v-322.7h18v322.7v-299.9h17.9v299.9v-251.5h17.9v251.5v-216.8h18v216.8v-163.6h17.9v163.6v-102.2h18v102.2v-103.5h17.9v103.5v-76.3h17.9v76.3v-47.6h18v47.6v-48.7h17.9v48.7v-40.7h17.9v40.7v-30.7h18v30.7v-25.7h17.9v25.7v-19.9h18v19.9z"/>
<path d="M269.1,819.5v-8.4h17.8v8.4v-14.2h17.8v14.2v-32.9h17.8v32.9v-60.2h17.7v60.2v-81.1h17.8v81.1v-102.6h17.8v102.6v-173.4h17.8v173.4v-232.6h17.8v232.6v-268.5h17.7v268.5v-310.6h17.8v310.6v-364.9h17.8v364.9v-360.4h17.8v360.4v-373.7h17.8v373.7v-483.2h17.7v483.2v-376.9h17.8v376.9v-416.5h17.8v416.5v-310.3h17.8v310.3v-268h17.8v268v-268.4h17.8v268.4v-237.5h17.7v237.5v-136.2h17.8v136.2v-113.2h17.8v113.2v-108.7h17.8v108.7v-76.5h17.8v76.5v-57.2h17.7v57.2v-41.9h17.8v41.9v-43.6h17.8v43.6v-34.2h17.8v34.2v-27h17.8v27v-20.4h17.7v20.4z"/>
<path d="M266.6,819.5v-4.6h18v4.6v-14.1h17.9v14.1v-30.2h18v30.2v-48.9h17.9v48.9v-73.8h18v73.8v-109.2h18v109.2v-160.3h17.9v160.3v-231h18v231v-236.3h18v236.3v-365.8h17.9v365.8v-320.3h18v320.3v-360h18v360v-405.9h17.9v405.9v-427.7h18v427.7v-414.6h18v414.6v-416.2h17.9v416.2v-318.4h18v318.4v-288.5h17.9v288.5v-260.6h18v260.6v-236.3h18v236.3v-143.6h17.9v143.6v-122.5h18v122.5v-93.2h18v93.2v-85.8h17.9v85.8v-50.7h18v50.7v-42.4h18v42.4v-40.9h17.9v40.9v-29.9h18v29.9v-27.7h18v27.7v-20.8h17.9v20.8z"/>
</g>
<g clip-path="url(#ct)" fill="#808080" fill-opacity=".3" stroke="#000" stroke-opacity=".3" stroke-width="2.6">
<path d="M470.5,819.5v-498.7h15.5v498.7z"/>
<path d="M486,819.5v-485.4h17.4v485.4z"/>
<path d="M503.4,819.5v-504.4h17.3v504.4z"/>
<path d="M520.7,819.5v-510.7h20.8v510.7z"/>
<path d="M437.6,819.5v-430.4h22.4v430.4z"/>
<path d="M418.5,819.5v-399.4h19.1v399.4z"/>
<path d="M586.6,819.5v-363.2h17.3v363.2z"/>
<path d="M572.7,819.5v-343.8h19.1v343.8z"/>
<path d="M619.5,819.5v-222.4h19.1v222.4z"/>
<path d="M645.5,819.5v-139.4h19.1v139.4z"/>
<path d="M314.6,819.5v-73.3h17.4v73.3z"/>
<path d="M332,819.5v-99.5h19v99.5z"/>
<path d="M368.3,819.5v-163.5h17.3v163.5z"/>
<path d="M791,819.5v-21.5h15.6v21.5z"/>
</g>
<path clip-path="url(#ct)" d="M188.7,819.5v-48.2h56.5v48.2v-268.5h56.5v268.5v-509.5h56.5v509.5v-626.6h56.4v626.6v-684.3h56.5v684.3v-635.2h56.5v635.2v-605.9h56.5v605.9v-552.6h56.5v552.6v-385.6h56.5v385.6v-292.6h56.5v292.6v-148h56.5v148v-141.2h56.4v141.2v-75.7h56.5v75.7v-62h56.5v62v-31h56.5v31v-27.5h56.5v27.5v-24.1h56.5v24.1v-18.9h56.5v18.9v-5.2h56.5v5.2v-6.9h56.4v6.9v-3.4h56.5v3.4v-3.4h56.5v3.4v-3.4h56.5v3.4v-8.6h56.5v8.6v-3.4h56.5v3.4v-1.7h56.5v1.7v-1.7h56.4v1.7v-1.7h56.5v1.7h56.5v-1.7h56.5v1.7z" fill="#00f" fill-opacity=".2"/>
<g clip-path="url(#cb)" fill="#f00" fill-opacity=".3" stroke="#000" stroke-opacity=".5" stroke-width="2.6">
<path d="M190.8,1720v-4.3h12.2v4.3v-11.4h12.1v11.4v-19.7h12.2v19.7v-48.8h12.1v48.8v-85.5h12.1v85.5v-116.9h12.2v116.9v-151.1h12.1v151.1v-213.3h12.2v213.3v-257.6h12.1v257.6v-317.1h12.2v317.1v-400.5h12.1v400.5v-479.8h12.1v479.8v-490.8h12.2v490.8v-469.5h12.1v469.5v-514.8h12.2v514.8v-487.6h12.1v487.6v-508.2h12.1v508.2v-485.1h12.2v485.1v-590.8h12.1v590.8v-576.1h12.2v576.1v-570.6h12.1v570.6v-512.2h12.1v512.2v-520.3h12.2v520.3v-444.7h12.1v444.7v-456.7h12.2v456.7v-502.2h12.1v502.2v-395h12.2v395v-406.1h12.1v406.1v-188.7h12.1v188.7v-44.2h12.2v44.2z"/>
<path d="M190.1,1720v-4.8h12.3v4.8v-9.3h12.2v9.3v-17h12.3v17v-49.1h12.2v49.1v-79.5h12.3v79.5v-120.7h12.2v120.7v-160.4h12.2v160.4v-218.5h12.3v218.5v-249.1h12.2v249.1v-302.8h12.3v302.8v-382.6h12.2v382.6v-385.2h12.3v385.2v-506.5h12.2v506.5v-460h12.2v460v-499.4h12.3v499.4v-568.7h12.2v568.7v-570.1h12.3v570.1v-545.7h12.2v545.7v-530.2h12.2v530.2v-540h12.3v540v-551.9h12.2v551.9v-534.2h12.3v534.2v-476.4h12.2v476.4v-443.9h12.3v443.9v-501.9h12.2v501.9v-434.4h12.2v434.4v-402.2h12.3v402.2v-419.8h12.2v419.8v-204h12.3v204v-49.1h12.2v49.1z"/>
<path d="M189.4,1720v-4.1h12.3v4.1v-6.5h12.2v6.5v-16.9h12.3v16.9v-43.8h12.2v43.8v-77.3h12.3v77.3v-117.8h12.2v117.8v-142.3h12.3v142.3v-202.7h12.2v202.7v-266.7h12.2v266.7v-295.3h12.3v295.3v-390.1h12.2v390.1v-457.3h12.3v457.3v-507.2h12.2v507.2v-498.6h12.3v498.6v-542.8h12.2v542.8v-513.3h12.3v513.3v-512.3h12.2v512.3v-535.7h12.3v535.7v-592.5h12.2v592.5v-522.3h12.3v522.3v-605.6h12.2v605.6v-506.5h12.3v506.5v-504.3h12.2v504.3v-507.3h12.3v507.3v-453.4h12.2v453.4v-453.9h12.2v453.9v-408.4h12.3v408.4v-361.8h12.2v361.8v-167h12.3v167v-40.4h12.2v40.4z"/>
<path d="M190.4,1720v-4.8h12.2v4.8v-10.8h12.2v10.8v-18.3h12.2v18.3v-49.4h12.2v49.4v-79.5h12.2v79.5v-104.3h12.2v104.3v-153.8h12.2v153.8v-208.8h12.2v208.8v-263.1h12.2v263.1v-317.2h12.2v317.2v-365.9h12.2v365.9v-449.9h12.2v449.9v-494.4h12.1v494.4v-467h12.2v467v-482.2h12.2v482.2v-524.7h12.2v524.7v-413.1h12.2v413.1v-572.3h12.2v572.3v-514.6h12.2v514.6v-532.5h12.2v532.5v-586.5h12.2v586.5v-491.5h12.2v491.5v-577.8h12.2v577.8v-454.4h12.2v454.4v-479.9h12.2v479.9v-432.7h12.2v432.7v-391.4h12.2v391.4v-400.6h12.2v400.6v-212.4h12.2v212.4v-55.2h12.2v55.2z"/>
<path d="M189.2,1720v-7.2h12.3v7.2v-6.5h12.2v6.5v-18.1h12.2v18.1v-46.8h12.3v46.8v-81.8h12.2v81.8v-104.3h12.3v104.3v-136.1h12.2v136.1v-211.6h12.3v211.6v-247.6h12.2v247.6v-315.7h12.3v315.7v-393.4h12.2v393.4v-427.4h12.2v427.4v-496.7h12.3v496.7v-450.2h12.2v450.2v-529.5h12.3v529.5v-528.3h12.2v528.3v-528.3h12.3v528.3v-538.2h12.2v538.2v-560.6h12.2v560.6v-472h12.3v472v-566.1h12.2v566.1v-521.4h12.3v521.4v-507.6h12.2v507.6v-499.8h12.3v499.8v-418.7h12.2v418.7v-451.2h12.2v451.2v-437.9h12.3v437.9v-366h12.2v366v-185.5h12.3v185.5v-39.1h12.2v39.1z"/>
<path d="M191,1720v-4.5h12.2v4.5v-7.7h12.1v7.7v-22.1h12.2v22.1v-51.3h12.2v51.3v-82.2h12.1v82.2v-117.9h12.2v117.9v-145.8h12.1v145.8v-227.2h12.2v227.2v-250h12.2v250v-321.7h12.1v321.7v-403.8h12.2v403.8v-465.4h12.2v465.4v-473.8h12.1v473.8v-518.3h12.2v518.3v-484.9h12.2v484.9v-496.5h12.1v496.5v-509.8h12.2v509.8v-550.2h12.2v550.2v-545.7h12.1v545.7v-553.7h12.2v553.7v-571.9h12.2v571.9v-469.4h12.1v469.4v-543.7h12.2v543.7v-444.1h12.2v444.1v-477.2h12.1v477.2v-412.5h12.2v412.5v-403.8h12.2v403.8v-398.9h12.1v398.9v-193h12.2v193v-46.4h12.2v46.4z"/>
<path d="M189.3,1720v-6.4h12.1v6.4v-7.2h12.2v7.2v-18.8h12.1v18.8v-44h12.2v44v-75.2h12.1v75.2v-113.1h12.2v113.1v-155.9h12.1v155.9v-201.1h12.2v201.1v-267.7h12.1v267.7v-286h12.2v286v-346.1h12.1v346.1v-413.4h12.2v413.4v-503.4h12.1v503.4v-544h12.2v544v-487.9h12.1v487.9v-582.8h12.2v582.8v-479.2h12.2v479.2v-536.2h12.1v536.2v-546.5h12.2v546.5v-567.3h12.1v567.3v-535.4h12.2v535.4v-581.6h12.1v581.6v-500.2h12.2v500.2v-456.2h12.1v456.2v-496.8h12.2v496.8v-455.5h12.1v455.5v-400.9h12.2v400.9v-403.7h12.1v403.7v-213.9h12.2v213.9v-50.9h12.1v50.9z"/>
<path d="M189.8,1720v-7.1h12.2v7.1v-9.9h12.2v9.9v-16.7h12.2v16.7v-47.3h12.1v47.3v-79.7h12.2v79.7v-111.9h12.2v111.9v-162h12.2v162v-195.5h12.2v195.5v-271h12.2v271v-328.6h12.2v328.6v-341.9h12.1v341.9v-483.4h12.2v483.4v-509h12.2v509v-558.3h12.2v558.3v-468.9h12.2v468.9v-521.4h12.2v521.4v-495.9h12.2v495.9v-581.7h12.1v581.7v-530.1h12.2v530.1v-553.4h12.2v553.4v-520.9h12.2v520.9v-490.8h12.2v490.8v-487.9h12.2v487.9v-480h12.2v480v-477.4h12.1v477.4v-440.6h12.2v440.6v-411.2h12.2v411.2v-338.9h12.2v338.9v-201.2h12.2v201.2v-43.8h12.2v43.8z"/>
<path d="M189.3,1720v-4.8h12.3v4.8v-12.3h12.3v12.3v-13.2h12.3v13.2v-49.3h12.2v49.3v-80.4h12.3v80.4v-111.8h12.3v111.8v-150.8h12.3v150.8v-201.5h12.3v201.5v-242.1h12.3v242.1v-272.5h12.3v272.5v-362.8h12.3v362.8v-455.4h12.3v455.4v-437.9h12.2v437.9v-490.2h12.3v490.2v-508.2h12.3v508.2v-536.3h12.3v536.3v-529.6h12.3v529.6v-545.3h12.3v545.3v-614.3h12.3v614.3v-550.6h12.3v550.6v-558.4h12.2v558.4v-578.9h12.3v578.9v-529.3h12.3v529.3v-493.4h12.3v493.4v-520.9h12.3v520.9v-441.4h12.3v441.4v-432.1h12.3v432.1v-356.8h12.3v356.8v-211.7h12.3v211.7v-45.5h12.2v45.5z"/>
<path d="M190.7,1720v-6.4h12.3v6.4v-7.2h12.2v7.2v-22.2h12.3v22.2v-48.6h12.3v48.6v-82.2h12.2v82.2v-115.2h12.3v115.2v-148.4h12.3v148.4v-211.3h12.2v211.3v-276.9h12.3v276.9v-313.8h12.3v313.8v-399h12.2v399v-416.1h12.3v416.1v-478.1h12.3v478.1v-512h12.2v512v-459.8h12.3v459.8v-528.7h12.3v528.7v-473.6h12.2v473.6v-508.6h12.3v508.6v-531.6h12.3v531.6v-519.6h12.2v519.6v-573.3h12.3v573.3v-557.3h12.3v557.3v-525.2h12.3v525.2v-490.8h12.2v490.8v-466.5h12.3v466.5v-403.1h12.3v403.1v-403.9h12.2v403.9v-391h12.3v391v-193.7h12.3v193.7v-44.7h12.2v44.7z"/>
<path d="M189.1,1720v-4.7h12.1v4.7v-10.1h12.1v10.1v-14.8h12v14.8v-44.8h12.1v44.8v-88.2h12.1v88.2v-98.1h12v98.1v-159.9h12.1v159.9v-217.5h12.1v217.5v-238h12.1v238v-269.2h12v269.2v-384.2h12.1v384.2v-454h12.1v454v-504.1h12v504.1v-504.4h12.1v504.4v-525.2h12.1v525.2v-523.3h12v523.3v-511.6h12.1v511.6v-513.7h12.1v513.7v-517.6h12v517.6v-562.7h12.1v562.7v-589.9h12.1v589.9v-481.9h12v481.9v-528.2h12.1v528.2v-501.2h12.1v501.2v-477.5h12v477.5v-506.6h12.1v506.6v-419.9h12.1v419.9v-427.6h12v427.6v-202.2h12.1v202.2v-55.4h12.1v55.4z"/>
<path d="M191.9,1720v-4.7h12v4.7v-8.6h12v8.6v-20.9h12v20.9v-48.3h12v48.3v-82.8h12v82.8v-118.8h12v118.8v-145.6h12v145.6v-223.8h12v223.8v-259.9h12v259.9v-263h12v263v-384.9h12v384.9v-436.7h12v436.7v-488h12v488v-545.2h12v545.2v-489.5h12v489.5v-488.5h11.9v488.5v-487.7h12v487.7v-511.1h12v511.1v-564.4h12v564.4v-554.3h12v554.3v-504.9h12v504.9v-603.3h12v603.3v-455.5h12v455.5v-528.1h12v528.1v-425.3h12v425.3v-398.3h12v398.3v-411.1h12v411.1v-413.4h12v413.4v-238.1h12v238.1v-60.1h12v60.1z"/>
<path d="M189.8,1720v-4.7h12.1v4.7v-8.6h12.2v8.6v-17.6h12.1v17.6v-44.4h12.2v44.4v-76.4h12.1v76.4v-114.6h12.2v114.6v-141.9h12.1v141.9v-206.2h12.2v206.2v-268.5h12.1v268.5v-290.6h12.2v290.6v-384.9h12.1v384.9v-415.9h12.2v415.9v-474.8h12.1v474.8v-468.8h12.2v468.8v-522.3h12.1v522.3v-498h12.2v498v-521.9h12.1v521.9v-520.6h12.2v520.6v-497.9h12.1v497.9v-594.1h12.2v594.1v-532.5h12.1v532.5v-513.1h12.2v513.1v-525.6h12.2v525.6v-492.8h12.1v492.8v-485.3h12.2v485.3v-418.6h12.1v418.6v-424.3h12.2v424.3v-383.1h12.1v383.1v-211.5h12.2v211.5v-54.2h12.1v54.2z"/>
<path d="M191.3,1720v-5.1h12.2v5.1v-9.4h12.2v9.4v-21.9h12.3v21.9v-50h12.2v50v-81.7h12.3v81.7v-111.2h12.2v111.2v-153.1h12.3v153.1v-207.1h12.2v207.1v-260.1h12.2v260.1v-313h12.3v313v-340.8h12.2v340.8v-503.4h12.3v503.4v-480.6h12.2v480.6v-464.5h12.3v464.5v-495.6h12.2v495.6v-486.6h12.3v486.6v-484h12.2v484v-578.2h12.2v578.2v-559.9h12.3v559.9v-598.1h12.2v598.1v-579.8h12.3v579.8v-513.2h12.2v513.2v-508.5h12.3v508.5v-470.5h12.2v470.5v-465h12.2v465v-441.2h12.3v441.2v-409.4h12.2v409.4v-409.8h12.3v409.8v-203.8h12.2v203.8v-50h12.3v50z"/>
<path d="M189.5,1720v-7.1h12.1v7.1v-6.9h12.1v6.9v-18.8h12v18.8v-47.1h12.1v47.1v-72.3h12.1v72.3v-111h12v111v-164.9h12.1v164.9v-193.7h12v193.7v-236.4h12.1v236.4v-317.9h12.1v317.9v-361.6h12v361.6v-447.4h12.1v447.4v-429.4h12.1v429.4v-499.3h12v499.3v-478.2h12.1v478.2v-520.6h12v520.6v-546.6h12.1v546.6v-472.8h12.1v472.8v-500.2h12v500.2v-519.3h12.1v519.3v-557.3h12.1v557.3v-563.1h12v563.1v-461.8h12.1v461.8v-464.2h12.1v464.2v-467.9h12v467.9v-406.4h12.1v406.4v-468h12v468v-406.7h12.1v406.7v-239.7h12.1v239.7v-46.6h12v46.6z"/>
<path d="M189,1720v-4.4h12.3v4.4v-9.7h12.2v9.7v-17.3h12.3v17.3v-49.2h12.2v49.2v-79.3h12.3v79.3v-111.4h12.2v111.4v-145.7h12.2v145.7v-216.4h12.3v216.4v-232.4h12.2v232.4v-279.6h12.3v279.6v-402.7h12.2v402.7v-468.6h12.2v468.6v-536.2h12.3v536.2v-502.1h12.2v502.1v-501.9h12.3v501.9v-479h12.2v479v-506.1h12.2v506.1v-520.2h12.3v520.2v-556.1h12.2v556.1v-523.2h12.3v523.2v-541.2h12.2v541.2v-520.4h12.3v520.4v-521.5h12.2v521.5v-482.2h12.2v482.2v-459.7h12.3v459.7v-423.3h12.2v423.3v-421.5h12.3v421.5v-458.7h12.2v458.7v-211.6h12.2v211.6v-40.9h12.3v40.9z"/>
<path d="M189.9,1720v-2.4h12.4v2.4v-12.4h12.3v12.4v-17.1h12.4v17.1v-51.5h12.3v51.5v-77.6h12.4v77.6v-114.2h12.3v114.2v-140.7h12.4v140.7v-212.5h12.3v212.5v-271.8h12.4v271.8v-300.8h12.3v300.8v-381.6h12.4v381.6v-483.8h12.4v483.8v-500.3h12.3v500.3v-530.8h12.4v530.8v-522.2h12.3v522.2v-499h12.4v499v-525.5h12.3v525.5v-594.5h12.4v594.5v-561h12.3v561v-591.4h12.4v591.4v-567.4h12.4v567.4v-535h12.3v535v-469.9h12.4v469.9v-505.1h12.3v505.1v-505.9h12.4v505.9v-398.7h12.3v398.7v-390.2h12.4v390.2v-406.8h12.3v406.8v-186.5h12.4v186.5v-34.6h12.3v34.6z"/>
<path d="M190.4,1720v-2.4h12.3v2.4v-8.9h12.2v8.9v-18.6h12.2v18.6v-51.7h12.3v51.7v-83.1h12.2v83.1v-112.6h12.3v112.6v-157.1h12.2v157.1v-194.8h12.3v194.8v-277.1h12.2v277.1v-298.9h12.2v298.9v-419.7h12.3v419.7v-420.5h12.2v420.5v-509.9h12.3v509.9v-417.1h12.2v417.1v-544.1h12.3v544.1v-503.1h12.2v503.1v-494.9h12.2v494.9v-510h12.3v510v-550.6h12.2v550.6v-580.2h12.3v580.2v-552.6h12.2v552.6v-540.5h12.3v540.5v-594.1h12.2v594.1v-474.6h12.2v474.6v-441.8h12.3v441.8v-477.8h12.2v477.8v-436.6h12.3v436.6v-372.1h12.2v372.1v-212.4h12.2v212.4v-51.8h12.3v51.8z"/>
<path d="M190.9,1720v-6.9h12.1v6.9v-9.3h12.1v9.3v-16.4h12.1v16.4v-47.9h12.1v47.9v-81.9h12.1v81.9v-113.8h12.1v113.8v-160.7h12.1v160.7v-212.5h12v212.5v-220.9h12.1v220.9v-334.7h12.1v334.7v-339h12.1v339v-401.9h12.1v401.9v-517.1h12.1v517.1v-443.3h12.1v443.3v-527.5h12.1v527.5v-501.1h12.1v501.1v-518.6h12.1v518.6v-550.6h12.1v550.6v-556.1h12.1v556.1v-572.5h12v572.5v-497.9h12.1v497.9v-553.6h12.1v553.6v-513.9h12.1v513.9v-465h12.1v465v-438.8h12.1v438.8v-442.6h12.1v442.6v-416.4h12.1v416.4v-385.4h12.1v385.4v-187.1h12.1v187.1v-48.6h12.1v48.6z"/>
<path d="M191.8,1720v-4.6h12.1v4.6v-9.1h12.1v9.1v-18.6h12.2v18.6v-53.9h12.1v53.9v-88.3h12.1v88.3v-122.2h12.1v122.2v-155.9h12.1v155.9v-193.7h12.1v193.7v-232.7h12.1v232.7v-342h12.2v342v-356.6h12.1v356.6v-489.4h12.1v489.4v-469.9h12.1v469.9v-498.5h12.1v498.5v-444h12.1v444v-481h12.1v481v-573.2h12.1v573.2v-450.5h12.2v450.5v-555.8h12.1v555.8v-510.5h12.1v510.5v-551.9h12.1v551.9v-492.5h12.1v492.5v-503.9h12.1v503.9v-531.9h12.1v531.9v-401.2h12.2v401.2v-408.3h12.1v408.3v-441h12.1v441v-356.2h12.1v356.2v-175.1h12.1v175.1v-38h12.1v38z"/>
<path d="M189.6,1720v-6.9h12.3v6.9v-7.2h12.2v7.2v-19.3h12.2v19.3v-50h12.2v50v-77.2h12.2v77.2v-116.8h12.2v116.8v-176.5h12.3v176.5v-203.4h12.2v203.4v-255.2h12.2v255.2v-285.3h12.2v285.3v-383.2h12.2v383.2v-439.5h12.3v439.5v-514.4h12.2v514.4v-437.3h12.2v437.3v-523.7h12.2v523.7v-511.7h12.2v511.7v-579.3h12.3v579.3v-539.5h12.2v539.5v-570.6h12.2v570.6v-516.7h12.2v516.7v-581.2h12.2v581.2v-503.6h12.2v503.6v-500.8h12.3v500.8v-489.2h12.2v489.2v-469h12.2v469v-435.6h12.2v435.6v-400.8h12.2v400.8v-398.3h12.3v398.3v-209.4h12.2v209.4v-46.9h12.2v46.9z"/>
<path d="M189.9,1720v-6.5h12.2v6.5v-6.8h12.2v6.8v-17.3h12.2v17.3v-45.1h12.1v45.1v-81.2h12.2v81.2v-116.2h12.2v116.2v-163.5h12.2v163.5v-209.5h12.1v209.5v-247.9h12.2v247.9v-306.8h12.2v306.8v-388.8h12.2v388.8v-469.5h12.2v469.5v-473h12.1v473v-515h12.2v515v-548.2h12.2v548.2v-468.1h12.2v468.1v-534.4h12.1v534.4v-493.1h12.2v493.1v-550.8h12.2v550.8v-567.9h12.2v567.9v-518.1h12.1v518.1v-548.1h12.2v548.1v-528.5h12.2v528.5v-457.7h12.2v457.7v-455.4h12.2v455.4v-460.4h12.1v460.4v-371.1h12.2v371.1v-412.7h12.2v412.7v-169.2h12.2v169.2v-44h12.1v44z"/>
<path d="M189.2,1720v-7h12.3v7v-9.4h12.3v9.4v-14.7h12.3v14.7v-48.9h12.3v48.9v-71.6h12.3v71.6v-119.4h12.4v119.4v-156.2h12.3v156.2v-215.3h12.3v215.3v-254.1h12.3v254.1v-303.7h12.3v303.7v-369.4h12.3v369.4v-443h12.3v443v-524.5h12.4v524.5v-493.7h12.3v493.7v-511.8h12.3v511.8v-502.4h12.3v502.4v-539.1h12.3v539.1v-555.6h12.3v555.6v-543.4h12.4v543.4v-551.1h12.3v551.1v-529h12.3v529v-545.3h12.3v545.3v-466.5h12.3v466.5v-517.8h12.3v517.8v-475.6h12.3v475.6v-450.8h12.4v450.8v-426.2h12.3v426.2v-420.3h12.3v420.3v-186.1h12.3v186.1v-37h12.3v37z"/>
<path d="M189.3,1720v-7.3h12.3v7.3v-6.4h12.3v6.4v-14.8h12.3v14.8v-46.3h12.3v46.3v-74.7h12.4v74.7v-115.1h12.3v115.1v-145.6h12.3v145.6v-222.3h12.3v222.3v-209.7h12.3v209.7v-286.5h12.3v286.5v-374.2h12.4v374.2v-437.9h12.3v437.9v-501.1h12.3v501.1v-518.6h12.3v518.6v-520.2h12.3v520.2v-454.9h12.3v454.9v-534.2h12.4v534.2v-530.3h12.3v530.3v-533.7h12.3v533.7v-589.8h12.3v589.8v-580.6h12.3v580.6v-494.2h12.3v494.2v-503.8h12.3v503.8v-495.7h12.4v495.7v-508.5h12.3v508.5v-378.6h12.3v378.6v-398.3h12.3v398.3v-404.2h12.3v404.2v-194.4h12.3v194.4v-45.7h12.4v45.7z"/>
<path d="M190.9,1720v-4.9h12v4.9v-10.1h12v10.1v-18h12v18v-55.1h12v55.1v-85.1h12.1v85.1v-102.4h12v102.4v-156.8h12v156.8v-204h12v204v-259.2h12v259.2v-282.1h12v282.1v-386.9h12v386.9v-448.5h12v448.5v-510.9h12.1v510.9v-467.9h12v467.9v-470.8h12v470.8v-543.3h12v543.3v-459.4h12v459.4v-550.7h12v550.7v-598h12v598v-517.6h12v517.6v-547.5h12.1v547.5v-564.6h12v564.6v-484.1h12v484.1v-453h12v453v-493.6h12v493.6v-438.6h12v438.6v-441.3h12v441.3v-394.9h12v394.9v-198.1h12.1v198.1v-49.8h12v49.8z"/>
<path d="M192,1720v-7h12v7v-8.9h12v8.9v-18.4h12v18.4v-51.7h12v51.7v-85.5h12v85.5v-120.1h11.9v120.1v-151.1h12v151.1v-212.7h12v212.7v-250.6h12v250.6v-318.5h12v318.5v-325.7h12v325.7v-430.5h12v430.5v-441.5h12v441.5v-558.5h12v558.5v-522.5h12v522.5v-492h11.9v492v-529.5h12v529.5v-472.2h12v472.2v-563.5h12v563.5v-514.5h12v514.5v-543h12v543v-531.5h12v531.5v-496.1h12v496.1v-544.3h12v544.3v-448.8h12v448.8v-466.2h11.9v466.2v-406.3h12v406.3v-396.4h12v396.4v-246.4h12v246.4v-72.2h12v72.2z"/>
<path d="M189.6,1720v-7.1h12.3v7.1v-6.6h12.4v6.6v-17.6h12.4v17.6v-46.6h12.3v46.6v-83h12.4v83v-110.7h12.4v110.7v-153.4h12.3v153.4v-225.1h12.4v225.1v-237h12.4v237v-313h12.3v313v-410.8h12.4v410.8v-461.1h12.4v461.1v-484.2h12.3v484.2v-480.3h12.4v480.3v-504.9h12.4v504.9v-501.4h12.3v501.4v-421.2h12.4v421.2v-534.6h12.4v534.6v-507.5h12.3v507.5v-550.9h12.4v550.9v-547h12.4v547v-549.7h12.3v549.7v-536.1h12.4v536.1v-493.6h12.4v493.6v-415.2h12.3v415.2v-446.4h12.4v446.4v-433.8h12.4v433.8v-359h12.3v359v-157.6h12.4v157.6v-40.4h12.4v40.4z"/>
<path d="M191,1720v-7.2h12.2v7.2v-7.2h12.3v7.2v-20.4h12.2v20.4v-44.2h12.3v44.2v-86.2h12.3v86.2v-107.1h12.2v107.1v-164.7h12.3v164.7v-209.2h12.3v209.2v-260h12.2v260v-302.6h12.3v302.6v-387.6h12.2v387.6v-439.8h12.3v439.8v-477.4h12.3v477.4v-532.7h12.2v532.7v-590.4h12.3v590.4v-490.6h12.3v490.6v-474.3h12.2v474.3v-549.8h12.3v549.8v-491.8h12.2v491.8v-573.9h12.3v573.9v-611.3h12.3v611.3v-515.8h12.2v515.8v-527.1h12.3v527.1v-516.6h12.3v516.6v-440h12.2v440v-418.6h12.3v418.6v-429h12.3v429v-389.3h12.2v389.3v-207.8h12.3v207.8v-39.1h12.2v39.1z"/>
<path d="M189.9,1720v-4.8h12v4.8v-9.3h12v9.3v-15.3h12v15.3v-51.4h11.9v51.4v-75.5h12v75.5v-108.7h12v108.7v-154.9h12v154.9v-204.4h12v204.4v-240.9h12v240.9v-293.4h12v293.4v-415.2h12v415.2v-435h12v435v-455h11.9v455v-518.3h12v518.3v-456.2h12v456.2v-520.1h12v520.1v-519h12v519v-561.8h12v561.8v-568.4h12v568.4v-534.3h12v534.3v-594h11.9v594v-468.8h12v468.8v-539.2h12v539.2v-433.8h12v433.8v-438.8h12v438.8v-421.9h12v421.9v-408.7h12v408.7v-394.3h12v394.3v-221.5h12v221.5v-63.5h11.9v63.5z"/>
<path d="M189.8,1720v-4.6h12.2v4.6v-11.1h12.1v11.1v-13.8h12.2v13.8v-52.1h12.1v52.1v-74.7h12.2v74.7v-110.5h12.1v110.5v-154.9h12.2v154.9v-205.6h12.1v205.6v-267.9h12.2v267.9v-320.6h12.2v320.6v-364.7h12.1v364.7v-405.8h12.2v405.8v-482.9h12.1v482.9v-522.1h12.2v522.1v-520.1h12.1v520.1v-500.7h12.2v500.7v-533.5h12.1v533.5v-531.8h12.2v531.8v-575.3h12.1v575.3v-483.7h12.2v483.7v-581.4h12.2v581.4v-535.2h12.1v535.2v-540.5h12.2v540.5v-463h12.1v463v-430.2h12.2v430.2v-403.6h12.1v403.6v-410.8h12.2v410.8v-386.9h12.1v386.9v-202.7h12.2v202.7v-46.8h12.1v46.8z"/>
<path d="M189,1720v-6.9h12.2v6.9v-7.3h12.1v7.3v-16.4h12.2v16.4v-45.9h12.1v45.9v-77.1h12.2v77.1v-105.4h12.1v105.4v-155.3h12.2v155.3v-196.6h12.2v196.6v-245h12.1v245v-311.8h12.2v311.8v-361.2h12.1v361.2v-425.5h12.2v425.5v-464.6h12.1v464.6v-471.6h12.2v471.6v-491.3h12.2v491.3v-439h12.1v439v-524.8h12.2v524.8v-516.2h12.1v516.2v-573.5h12.2v573.5v-536.7h12.1v536.7v-565.5h12.2v565.5v-511.3h12.2v511.3v-524h12.1v524v-479.1h12.2v479.1v-443h12.1v443v-442.9h12.2v442.9v-415.9h12.1v415.9v-418.3h12.2v418.3v-172h12.1v172v-43.8h12.2v43.8z"/>
<path d="M191.1,1720v-6.5h12.2v6.5v-9.1h12.3v9.1v-17.3h12.2v17.3v-50.5h12.3v50.5v-77.7h12.3v77.7v-111.5h12.2v111.5v-163.9h12.3v163.9v-229.4h12.3v229.4v-265.2h12.2v265.2v-295h12.3v295v-402h12.2v402v-453h12.3v453v-413.5h12.3v413.5v-514.1h12.2v514.1v-505.4h12.3v505.4v-518.7h12.3v518.7v-556h12.2v556v-482.8h12.3v482.8v-578.5h12.2v578.5v-564.4h12.3v564.4v-554.3h12.3v554.3v-527.2h12.2v527.2v-500.1h12.3v500.1v-471.2h12.3v471.2v-478.5h12.2v478.5v-411.3h12.3v411.3v-407.6h12.2v407.6v-366.8h12.3v366.8v-189.2h12.3v189.2v-46.5h12.2v46.5z"/>
<path d="M189.8,1720v-6.8h12.3v6.8v-7.2h12.3v7.2v-18.5h12.4v18.5v-48.2h12.3v48.2v-75.2h12.3v75.2v-112.2h12.3v112.2v-171.2h12.4v171.2v-204.3h12.3v204.3v-214.7h12.3v214.7v-318.2h12.3v318.2v-354.3h12.4v354.3v-448.8h12.3v448.8v-484.1h12.3v484.1v-506.6h12.4v506.6v-446.3h12.3v446.3v-619.1h12.3v619.1v-511.8h12.3v511.8v-512.4h12.4v512.4v-566.4h12.3v566.4v-500.2h12.3v500.2v-584.5h12.3v584.5v-544.5h12.4v544.5v-491h12.3v491v-573.4h12.3v573.4v-440.1h12.4v440.1v-432.4h12.3v432.4v-407.5h12.3v407.5v-398.8h12.3v398.8v-165.3h12.4v165.3v-37.8h12.3v37.8z"/>
<path d="M190.4,1720v-7.2h12v7.2v-6.7h12.1v6.7v-17.3h12.1v17.3v-49.3h12.1v49.3v-71.4h12v71.4v-118.7h12.1v118.7v-149.7h12.1v149.7v-201.6h12v201.6v-239.9h12.1v239.9v-275.5h12.1v275.5v-379.8h12.1v379.8v-391.9h12v391.9v-509.5h12.1v509.5v-485.9h12.1v485.9v-538.5h12v538.5v-514.9h12.1v514.9v-514.5h12.1v514.5v-574.5h12.1v574.5v-514.8h12v514.8v-506.7h12.1v506.7v-570.7h12.1v570.7v-614.9h12v614.9v-468.5h12.1v468.5v-454.2h12.1v454.2v-430.9h12.1v430.9v-460.2h12v460.2v-394.5h12.1v394.5v-392h12.1v392v-253.3h12.1v253.3v-64.5h12v64.5z"/>
<path d="M191.7,1720v-2.2h12.1v2.2v-12.1h12.2v12.1v-20.7h12.1v20.7v-49.6h12.2v49.6v-82.6h12.1v82.6v-115h12.2v115v-160.3h12.2v160.3v-231.7h12.1v231.7v-248.3h12.2v248.3v-330.9h12.1v330.9v-380.2h12.2v380.2v-463.8h12.1v463.8v-466.4h12.2v466.4v-492.4h12.2v492.4v-477.4h12.1v477.4v-461.3h12.2v461.3v-534.3h12.1v534.3v-525.2h12.2v525.2v-547.5h12.1v547.5v-528.8h12.2v528.8v-508.7h12.1v508.7v-526h12.2v526v-491h12.2v491v-497.2h12.1v497.2v-467.6h12.2v467.6v-393.3h12.1v393.3v-386.4h12.2v386.4v-397.8h12.1v397.8v-161.2h12.2v161.2v-34.8h12.2v34.8z"/>
<path d="M190.2,1720v-7.6h12v7.6v-7.1h12v7.1v-18.6h11.9v18.6v-49.2h12v49.2v-70.2h12v70.2v-116h12v116v-161.9h12v161.9v-208.6h11.9v208.6v-259.8h12v259.8v-319.5h12v319.5v-390.7h12v390.7v-463.9h12v463.9v-487.5h11.9v487.5v-475.1h12v475.1v-491.1h12v491.1v-519.7h12v519.7v-520.9h12v520.9v-462.9h11.9v462.9v-532.8h12v532.8v-580.1h12v580.1v-565.3h12v565.3v-565.1h11.9v565.1v-481.5h12v481.5v-502.4h12v502.4v-419.3h12v419.3v-460.5h12v460.5v-413.4h11.9v413.4v-397.9h12v397.9v-204.8h12v204.8v-48.4h12v48.4z"/>
<path d="M189.8,1720v-4.8h12v4.8v-9.4h12.1v9.4v-16.4h12.1v16.4v-50.4h12.1v50.4v-77.2h12.1v77.2v-110.2h12.1v110.2v-139h12v139v-238.9h12.1v238.9v-252.5h12.1v252.5v-261.5h12.1v261.5v-364.6h12.1v364.6v-440.7h12.1v440.7v-443.3h12v443.3v-487.7h12.1v487.7v-481.5h12.1v481.5v-456.8h12.1v456.8v-513.9h12.1v513.9v-503.9h12.1v503.9v-557.2h12v557.2v-494.3h12.1v494.3v-577.1h12.1v577.1v-497.6h12.1v497.6v-566.1h12.1v566.1v-489.9h12.1v489.9v-445.7h12v445.7v-449.8h12.1v449.8v-353.2h12.1v353.2v-383.5h12.1v383.5v-257.4h12.1v257.4v-63.2h12v63.2z"/>
<path d="M191.3,1720v-6.9h12v6.9v-10h12.1v10v-19h12.1v19v-48.6h12.1v48.6v-80.8h12v80.8v-121.4h12.1v121.4v-147.5h12.1v147.5v-219.5h12v219.5v-254.5h12.1v254.5v-323.9h12.1v323.9v-379.4h12.1v379.4v-400.6h12v400.6v-470.1h12.1v470.1v-490.8h12.1v490.8v-520h12v520v-562.8h12.1v562.8v-494.6h12.1v494.6v-506.2h12.1v506.2v-517h12v517v-532.5h12.1v532.5v-536.1h12.1v536.1v-508.4h12v508.4v-519.1h12.1v519.1v-528.9h12.1v528.9v-432.9h12.1v432.9v-456.4h12v456.4v-433.2h12.1v433.2v-398.7h12.1v398.7v-178.2h12v178.2v-53.1h12.1v53.1z"/>
<path d="M189,1720v-4.6h12.3v4.6v-8.9h12.2v8.9v-16.5h12.2v16.5v-39.5h12.2v39.5v-73.6h12.2v73.6v-122.4h12.2v122.4v-146.8h12.2v146.8v-211.5h12.2v211.5v-252h12.2v252v-273.9h12.3v273.9v-394.4h12.2v394.4v-440.3h12.2v440.3v-458.8h12.2v458.8v-493.8h12.2v493.8v-460.3h12.2v460.3v-579h12.2v579v-487.6h12.2v487.6v-558.4h12.2v558.4v-548.1h12.3v548.1v-582.1h12.2v582.1v-562.2h12.2v562.2v-554.7h12.2v554.7v-537.6h12.2v537.6v-466.9h12.2v466.9v-497.3h12.2v497.3v-423.6h12.2v423.6v-411.8h12.2v411.8v-385.5h12.3v385.5v-180.1h12.2v180.1v-42.6h12.2v42.6z"/>
<path d="M191,1720v-4.4h12v4.4v-9.4h12v9.4v-18.9h12.1v18.9v-47h12v47v-88.5h12v88.5v-116.2h12v116.2v-148.8h12v148.8v-216.2h12v216.2v-257.1h12.1v257.1v-294.8h12v294.8v-377.1h12v377.1v-470.7h12v470.7v-488.8h12v488.8v-498.5h12v498.5v-437.1h12.1v437.1v-554.6h12v554.6v-540.8h12v540.8v-459.8h12v459.8v-556.8h12v556.8v-558.2h12.1v558.2v-564.4h12v564.4v-553.8h12v553.8v-467.6h12v467.6v-501.1h12v501.1v-458.8h12v458.8v-434.2h12.1v434.2v-408h12v408v-436.7h12v436.7v-240.1h12v240.1v-63.6h12v63.6z"/>
<path d="M193.1,1720v-4.5h12.1v4.5v-12.9h12.1v12.9v-21h12v21v-54.5h12.1v54.5v-87.5h12.1v87.5v-117.7h12v117.7v-177.3h12.1v177.3v-226.1h12.1v226.1v-236.9h12.1v236.9v-342.3h12v342.3v-392h12.1v392v-469h12.1v469v-556.1h12v556.1v-495.1h12.1v495.1v-438h12.1v438v-469.7h12v469.7v-459.9h12.1v459.9v-547.6h12.1v547.6v-518.6h12v518.6v-583.1h12.1v583.1v-567.8h12.1v567.8v-515.2h12.1v515.2v-483.1h12v483.1v-506.7h12.1v506.7v-393.6h12.1v393.6v-450.5h12v450.5v-368.7h12.1v368.7v-373.4h12.1v373.4v-161.5h12v161.5v-36.7h12.1v36.7z"/>
<path d="M190.4,1720v-2.4h12.2v2.4v-10.3h12.1v10.3v-16.7h12.1v16.7v-47.4h12.2v47.4v-79.3h12.1v79.3v-109.8h12.2v109.8v-169h12.1v169v-188.9h12.2v188.9v-261h12.1v261v-370.6h12.2v370.6v-402.4h12.1v402.4v-467.1h12.1v467.1v-477.7h12.2v477.7v-456.4h12.1v456.4v-479.8h12.2v479.8v-526h12.1v526v-459.5h12.2v459.5v-567.8h12.1v567.8v-552h12.1v552v-514.8h12.2v514.8v-552.3h12.1v552.3v-563.6h12.2v563.6v-519.3h12.1v519.3v-483.2h12.2v483.2v-432.1h12.1v432.1v-452h12.1v452v-341.7h12.2v341.7v-459.6h12.1v459.6v-205.5h12.2v205.5v-56.3h12.1v56.3z"/>
<path d="M189.1,1720v-7h12.1v7v-7.4h12.2v7.4v-15.9h12.2v15.9v-47.6h12.2v47.6v-80.6h12.2v80.6v-107.3h12.2v107.3v-136.1h12.2v136.1v-194.3h12.1v194.3v-227.4h12.2v227.4v-321.9h12.2v321.9v-385.5h12.2v385.5v-395.8h12.2v395.8v-504.4h12.2v504.4v-543.6h12.2v543.6v-493.6h12.2v493.6v-456.6h12.1v456.6v-527.9h12.2v527.9v-482.6h12.2v482.6v-557.8h12.2v557.8v-537.7h12.2v537.7v-565.1h12.2v565.1v-472.8h12.2v472.8v-461.3h12.1v461.3v-500.1h12.2v500.1v-486h12.2v486v-399.4h12.2v399.4v-431.5h12.2v431.5v-409.2h12.2v409.2v-188.2h12.2v188.2v-39.1h12.2v39.1z"/>
<path d="M190.3,1720v-2.4h12.1v2.4v-9.2h12.1v9.2v-19.1h12.2v19.1v-47.3h12.1v47.3v-76.5h12.1v76.5v-104.4h12.1v104.4v-155.1h12.2v155.1v-209.3h12.1v209.3v-256.7h12.1v256.7v-315h12.1v315v-351.5h12.2v351.5v-473.1h12.1v473.1v-523.4h12.1v523.4v-498.9h12.1v498.9v-420.7h12.2v420.7v-596.1h12.1v596.1v-489.9h12.1v489.9v-487.9h12.1v487.9v-591.7h12.2v591.7v-575.5h12.1v575.5v-537.2h12.1v537.2v-532.1h12.1v532.1v-549.9h12.2v549.9v-443.5h12.1v443.5v-478.1h12.1v478.1v-446h12.1v446v-366.4h12.1v366.4v-390.7h12.2v390.7v-177.5h12.1v177.5v-36h12.1v36z"/>
<path d="M190.6,1720v-6.9h12.2v6.9v-9h12.2v9v-16.5h12.2v16.5v-46.6h12.2v46.6v-77h12.1v77v-107.4h12.2v107.4v-159.4h12.2v159.4v-220.4h12.2v220.4v-257.4h12.2v257.4v-271.3h12.2v271.3v-371.4h12.1v371.4v-429h12.2v429v-514.3h12.2v514.3v-514.4h12.2v514.4v-517.4h12.2v517.4v-521.7h12.1v521.7v-446.3h12.2v446.3v-521h12.2v521v-545.2h12.2v545.2v-568.9h12.2v568.9v-533.8h12.2v533.8v-547.9h12.1v547.9v-467.8h12.2v467.8v-518.8h12.2v518.8v-417.5h12.2v417.5v-452.8h12.2v452.8v-359.6h12.1v359.6v-406.1h12.2v406.1v-229.2h12.2v229.2v-69.1h12.2v69.1z"/>
<path d="M190.9,1720v-4.9h12.2v4.9v-9.8h12.3v9.8v-19.1h12.2v19.1v-50.5h12.3v50.5v-89.2h12.2v89.2v-112.8h12.3v112.8v-155.7h12.2v155.7v-220.4h12.3v220.4v-273.7h12.2v273.7v-317.3h12.3v317.3v-347.9h12.2v347.9v-425h12.3v425v-516.6h12.2v516.6v-477.9h12.3v477.9v-582.1h12.2v582.1v-468h12.3v468v-557.9h12.2v557.9v-541h12.3v541v-578.8h12.2v578.8v-586.2h12.3v586.2v-577.6h12.2v577.6v-540.6h12.2v540.6v-568.5h12.3v568.5v-462h12.2v462v-459.9h12.3v459.9v-449.5h12.2v449.5v-409.5h12.3v409.5v-377h12.2v377v-194.8h12.3v194.8v-49.2h12.2v49.2z"/>
<path d="M189.6,1720v-4.9h12.1v4.9v-9.2h12.1v9.2v-17.1h12v17.1v-52.1h12.1v52.1v-78.7h12.1v78.7v-105.5h12.1v105.5v-154.4h12v154.4v-200.5h12.1v200.5v-258.8h12.1v258.8v-278.5h12v278.5v-353.6h12.1v353.6v-519h12.1v519v-492.2h12.1v492.2v-461.1h12v461.1v-548h12.1v548v-525.5h12.1v525.5v-474.3h12.1v474.3v-537.3h12v537.3v-567.2h12.1v567.2v-560.9h12.1v560.9v-571.1h12.1v571.1v-518.5h12v518.5v-525.9h12.1v525.9v-480.3h12.1v480.3v-509.1h12.1v509.1v-484.3h12v484.3v-384.6h12.1v384.6v-369.7h12.1v369.7v-211.7h12.1v211.7v-54.8h12v54.8z"/>
<path d="M190.5,1720v-6h12.2v6v-10.7h12.3v10.7v-17.3h12.3v17.3v-51.1h12.3v51.1v-79.4h12.2v79.4v-126.4h12.3v126.4v-146.8h12.3v146.8v-209.7h12.3v209.7v-268.9h12.2v268.9v-314.4h12.3v314.4v-378.8h12.3v378.8v-427.5h12.2v427.5v-508.9h12.3v508.9v-535.5h12.3v535.5v-529.3h12.3v529.3v-482.9h12.2v482.9v-541.3h12.3v541.3v-480.8h12.3v480.8v-573.7h12.3v573.7v-538.1h12.2v538.1v-602.6h12.3v602.6v-546.3h12.3v546.3v-531.3h12.2v531.3v-504.1h12.3v504.1v-455.2h12.3v455.2v-429.5h12.3v429.5v-383.7h12.2v383.7v-373.4h12.3v373.4v-210.9h12.3v210.9v-47.5h12.2v47.5z"/>
<path d="M191.6,1720v-4.8h12v4.8v-9.9h12.1v9.9v-19.2h12v19.2v-52.4h12.1v52.4v-83.3h12v83.3v-120.7h12.1v120.7v-167.1h12v167.1v-210.1h12.1v210.1v-250.3h12.1v250.3v-302.8h12v302.8v-398.6h12.1v398.6v-413.1h12v413.1v-462.9h12.1v462.9v-505.2h12v505.2v-541.7h12.1v541.7v-500.2h12.1v500.2v-547.7h12v547.7v-456.1h12.1v456.1v-542.6h12v542.6v-502h12.1v502v-565h12v565v-540.5h12.1v540.5v-468.8h12.1v468.8v-474.9h12v474.9v-446.5h12.1v446.5v-485h12v485v-425.1h12.1v425.1v-390.7h12v390.7v-180.1h12.1v180.1v-39.7h12.1v39.7z"/>
<path d="M189.6,1720v-7.2h12.3v7.2v-9.3h12.3v9.3v-16.4h12.3v16.4v-50.8h12.3v50.8v-82.2h12.3v82.2v-112.4h12.3v112.4v-142.8h12.3v142.8v-204h12.3v204v-250.8h12.2v250.8v-293.1h12.3v293.1v-378.7h12.3v378.7v-435.4h12.3v435.4v-423.4h12.3v423.4v-471.7h12.3v471.7v-455.2h12.3v455.2v-542.3h12.3v542.3v-538.8h12.3v538.8v-527.3h12.3v527.3v-525.3h12.3v525.3v-594h12.3v594v-593.7h12.3v593.7v-536h12.3v536v-511.5h12.3v511.5v-455h12.2v455v-498.6h12.3v498.6v-425.1h12.3v425.1v-409.1h12.3v409.1v-329.9h12.3v329.9v-180.6h12.3v180.6v-44.5h12.3v44.5z"/>
<path d="M190.8,1720v-7h12.1v7v-8.8h12.1v8.8v-19.2h12.1v19.2v-50h12.1v50v-77.8h12.1v77.8v-106.8h12.1v106.8v-151.7h12.1v151.7v-189.4h12.1v189.4v-261.6h12.1v261.6v-309.1h12.1v309.1v-346.5h12.1v346.5v-440.6h12.1v440.6v-472h12.1v472v-561.7h12.1v561.7v-484.4h12.1v484.4v-528.6h12.1v528.6v-481.2h12.1v481.2v-553.1h12.1v553.1v-440.8h12.1v440.8v-656.7h12.1v656.7v-558.8h12.1v558.8v-541h12.1v541v-530.5h12.1v530.5v-447h12.1v447v-479.6h12.1v479.6v-420.1h12.1v420.1v-402.1h12.1v402.1v-366.9h12.1v366.9v-189.7h12.1v189.7v-54.2h12.1v54.2z"/>
<path d="M193.5,1720v-9.2h12.1v9.2v-7.2h12.2v7.2v-25.1h12.2v25.1v-50.9h12.2v50.9v-80.8h12.2v80.8v-137.7h12.2v137.7v-169.7h12.2v169.7v-220.2h12.2v220.2v-254.9h12.2v254.9v-326.2h12.1v326.2v-375.8h12.2v375.8v-431.2h12.2v431.2v-473.9h12.2v473.9v-460.8h12.2v460.8v-477.7h12.2v477.7v-510.8h12.2v510.8v-492.6h12.2v492.6v-482.3h12.2v482.3v-576.6h12.2v576.6v-566h12.1v566v-565.5h12.2v565.5v-460.2h12.2v460.2v-520.2h12.2v520.2v-430.8h12.2v430.8v-434.1h12.2v434.1v-445.9h12.2v445.9v-407.8h12.2v407.8v-417h12.2v417v-194.6h12.2v194.6v-44.6h12.1v44.6z"/>
<path d="M190,1720v-4.5h12.2v4.5v-9.8h12.2v9.8v-16.1h12.2v16.1v-51.8h12.2v51.8v-76.3h12.2v76.3v-105.9h12.2v105.9v-155.3h12.2v155.3v-183.2h12.2v183.2v-267.4h12.3v267.4v-311.1h12.2v311.1v-355.4h12.2v355.4v-397h12.2v397v-535.7h12.2v535.7v-528.4h12.2v528.4v-435h12.2v435v-504.1h12.2v504.1v-519h12.2v519v-548h12.2v548v-536.6h12.2v536.6v-532.9h12.2v532.9v-533.9h12.2v533.9v-533.5h12.2v533.5v-556.9h12.2v556.9v-537h12.2v537v-463.3h12.2v463.3v-407.5h12.2v407.5v-401.7h12.2v401.7v-396.3h12.2v396.3v-196.8h12.2v196.8v-53h12.2v53z"/>
<path d="M189.4,1720v-4.6h12.1v4.6v-10.6h12.1v10.6v-13.9h12.1v13.9v-46.1h12.2v46.1v-84.5h12.1v84.5v-111.3h12.1v111.3v-144.7h12.1v144.7v-217.1h12.1v217.1v-234.6h12.1v234.6v-281.5h12.1v281.5v-374.9h12.1v374.9v-455h12.1v455v-505.3h12.1v505.3v-501.9h12.1v501.9v-419.1h12.1v419.1v-480.6h12.1v480.6v-520.9h12.1v520.9v-567.9h12.1v567.9v-579.5h12.1v579.5v-600.6h12.1v600.6v-500.6h12.2v500.6v-471.1h12.1v471.1v-576.4h12.1v576.4v-470.8h12.1v470.8v-435.4h12.1v435.4v-452.3h12.1v452.3v-430.7h12.1v430.7v-384.3h12.1v384.3v-216.7h12.1v216.7v-54.8h12.1v54.8z"/>
<path d="M189.8,1720v-7.3h12v7.3v-6.7h12.1v6.7v-19.7h12.1v19.7v-47.9h12v47.9v-79.8h12.1v79.8v-108.9h12.1v108.9v-154.7h12v154.7v-220.2h12.1v220.2v-266.6h12v266.6v-292.4h12.1v292.4v-366.9h12.1v366.9v-464.5h12v464.5v-493.7h12.1v493.7v-502.5h12.1v502.5v-512.4h12v512.4v-485.6h12.1v485.6v-547.6h12.1v547.6v-578h12v578v-472.3h12.1v472.3v-557.4h12v557.4v-626.6h12.1v626.6v-494.2h12.1v494.2v-512.1h12v512.1v-464.9h12.1v464.9v-498.5h12.1v498.5v-464.1h12v464.1v-460.8h12.1v460.8v-345.5h12.1v345.5v-214.6h12v214.6v-54.2h12.1v54.2z"/>
<path d="M189.9,1720v-6.9h12.2v6.9v-6.8h12.2v6.8v-17.1h12.2v17.1v-50.6h12.1v50.6v-87.8h12.2v87.8v-125.2h12.2v125.2v-151.9h12.2v151.9v-223.7h12.1v223.7v-241.3h12.2v241.3v-289h12.2v289v-371.9h12.2v371.9v-439.6h12.1v439.6v-487.7h12.2v487.7v-535.1h12.2v535.1v-539.3h12.2v539.3v-531.3h12.1v531.3v-565.8h12.2v565.8v-538.7h12.2v538.7v-613.2h12.2v613.2v-514.4h12.1v514.4v-604.3h12.2v604.3v-546.2h12.2v546.2v-482.6h12.2v482.6v-534.4h12.1v534.4v-480.7h12.2v480.7v-413.6h12.2v413.6v-449h12.2v449v-393.3h12.1v393.3v-178.4h12.2v178.4v-42h12.2v42z"/>
<path d="M189.6,1720v-2.4h12.2v2.4v-9.8h12.2v9.8v-16.2h12.1v16.2v-50.1h12.2v50.1v-88.4h12.2v88.4v-109.5h12.1v109.5v-147.4h12.2v147.4v-214.2h12.2v214.2v-234h12.1v234v-307.9h12.2v307.9v-380.9h12.2v380.9v-469.6h12.1v469.6v-432.3h12.2v432.3v-465.1h12.2v465.1v-451.8h12.1v451.8v-487.8h12.2v487.8v-463.4h12.2v463.4v-618.3h12.2v618.3v-515.8h12.1v515.8v-511.4h12.2v511.4v-602.2h12.2v602.2v-490.6h12.1v490.6v-553.3h12.2v553.3v-524.4h12.2v524.4v-498.5h12.1v498.5v-464.3h12.2v464.3v-377.4h12.2v377.4v-375.9h12.1v375.9v-196.9h12.2v196.9v-47h12.2v47z"/>
<path d="M192.6,1720v-7h12.3v7v-6.7h12.2v6.7v-20.6h12.2v20.6v-58.9h12.3v58.9v-82.1h12.2v82.1v-125.7h12.2v125.7v-165.4h12.3v165.4v-205.3h12.2v205.3v-234.5h12.2v234.5v-304.5h12.3v304.5v-411.1h12.2v411.1v-450h12.2v450v-455.6h12.3v455.6v-437.9h12.2v437.9v-506.2h12.2v506.2v-476.3h12.3v476.3v-549.7h12.2v549.7v-558.1h12.3v558.1v-536.7h12.2v536.7v-551.8h12.2v551.8v-524.8h12.3v524.8v-532.3h12.2v532.3v-527.3h12.2v527.3v-445h12.3v445v-415.8h12.2v415.8v-459.4h12.2v459.4v-398.1h12.3v398.1v-393.9h12.2v393.9v-182.6h12.2v182.6v-42.8h12.3v42.8z"/>
<path d="M190.4,1720v-4.6h12.1v4.6v-11.5h12.2v11.5v-17.5h12.1v17.5v-48.7h12.2v48.7v-81.6h12.1v81.6v-109.6h12.1v109.6v-178.6h12.2v178.6v-199.5h12.1v199.5v-243.9h12.1v243.9v-281.4h12.2v281.4v-392.4h12.1v392.4v-414.4h12.1v414.4v-462.6h12.2v462.6v-449.9h12.1v449.9v-479h12.1v479v-510h12.2v510v-530.2h12.1v530.2v-482.9h12.1v482.9v-592.9h12.2v592.9v-561.9h12.1v561.9v-580.5h12.1v580.5v-541.5h12.2v541.5v-517.1h12.1v517.1v-437.6h12.1v437.6v-487.3h12.2v487.3v-441h12.1v441v-409.1h12.1v409.1v-401h12.2v401v-210.3h12.1v210.3v-52.7h12.2v52.7z"/>
<path d="M192.7,1720v-4.6h12.1v4.6v-11.2h12.1v11.2v-21.9h12.1v21.9v-52h12v52v-91.4h12.1v91.4v-113.5h12.1v113.5v-172.6h12.1v172.6v-194.6h12.1v194.6v-276.7h12v276.7v-307.1h12.1v307.1v-363.9h12.1v363.9v-467.4h12.1v467.4v-485.7h12.1v485.7v-485.4h12.1v485.4v-493.2h12v493.2v-427.9h12.1v427.9v-581.4h12.1v581.4v-519h12.1v519v-549.7h12.1v549.7v-535.6h12.1v535.6v-533.9h12v533.9v-517.6h12.1v517.6v-475.2h12.1v475.2v-508.5h12.1v508.5v-486.9h12.1v486.9v-394.4h12v394.4v-414.9h12.1v414.9v-392.8h12.1v392.8v-146h12.1v146v-31.4h12.1v31.4z"/>
<path d="M190,1720v-4.6h12.1v4.6v-9.7h12.2v9.7v-14.9h12.2v14.9v-50.8h12.2v50.8v-73.1h12.2v73.1v-115h12.2v115v-155.1h12.2v155.1v-199.9h12.2v199.9v-243.7h12.2v243.7v-290.2h12.2v290.2v-367.3h12.2v367.3v-419.2h12.2v419.2v-473.6h12.2v473.6v-514h12.1v514v-514.2h12.2v514.2v-510.9h12.2v510.9v-489.2h12.2v489.2v-562.7h12.2v562.7v-518.6h12.2v518.6v-545.8h12.2v545.8v-567.4h12.2v567.4v-554.2h12.2v554.2v-479.9h12.2v479.9v-473.3h12.2v473.3v-493.3h12.2v493.3v-444.3h12.2v444.3v-375.4h12.1v375.4v-391.8h12.2v391.8v-195.6h12.2v195.6v-51.8h12.2v51.8z"/>
<path d="M189.2,1720v-6.5h12.1v6.5v-6.8h12.2v6.8v-15.7h12.1v15.7v-46.4h12.1v46.4v-83.3h12.2v83.3v-106.7h12.1v106.7v-151.1h12.2v151.1v-201.6h12.1v201.6v-262.6h12.2v262.6v-299.7h12.1v299.7v-372.6h12.2v372.6v-462.9h12.1v462.9v-468h12.1v468v-478.1h12.2v478.1v-487.8h12.1v487.8v-566.8h12.2v566.8v-482.1h12.1v482.1v-548.4h12.2v548.4v-538.5h12.1v538.5v-521.8h12.2v521.8v-531.6h12.1v531.6v-545h12.1v545v-546.5h12.2v546.5v-530.9h12.1v530.9v-438.7h12.2v438.7v-454.5h12.1v454.5v-441.2h12.2v441.2v-393.6h12.1v393.6v-165.9h12.2v165.9v-41.3h12.1v41.3z"/>
<path d="M189.6,1720v-7.2h12.3v7.2v-9.9h12.3v9.9v-13.5h12.3v13.5v-43.3h12.3v43.3v-79.1h12.3v79.1v-117.2h12.3v117.2v-165.4h12.3v165.4v-218.6h12.3v218.6v-221.7h12.3v221.7v-281.4h12.3v281.4v-380.9h12.3v380.9v-435.3h12.3v435.3v-535.9h12.3v535.9v-473.9h12.3v473.9v-477.4h12.3v477.4v-536.1h12.3v536.1v-549.1h12.3v549.1v-499.5h12.3v499.5v-525.5h12.3v525.5v-543.1h12.4v543.1v-564.9h12.3v564.9v-522.2h12.3v522.2v-496.4h12.3v496.4v-531.6h12.3v531.6v-468.5h12.3v468.5v-446.6h12.3v446.6v-378h12.3v378v-410.4h12.3v410.4v-166.3h12.3v166.3v-32.9h12.3v32.9z"/>
<path d="M189.5,1720v-6.9h12.1v6.9v-6.7h12.2v6.7v-18.1h12.1v18.1v-45.3h12.1v45.3v-80.3h12.1v80.3v-118.9h12.2v118.9v-145.2h12.1v145.2v-198.8h12.1v198.8v-259.7h12.1v259.7v-277h12.1v277v-396h12.2v396v-431.7h12.1v431.7v-450.5h12.1v450.5v-540.8h12.1v540.8v-430.8h12.1v430.8v-508.2h12.2v508.2v-477.3h12.1v477.3v-506.3h12.1v506.3v-502.6h12.1v502.6v-547.8h12.1v547.8v-526.6h12.2v526.6v-529.2h12.1v529.2v-513.4h12.1v513.4v-481.4h12.1v481.4v-431.6h12.1v431.6v-410.9h12.2v410.9v-378.6h12.1v378.6v-368.2h12.1v368.2v-194.5h12.1v194.5v-46.7h12.1v46.7z"/>
<path d="M189.8,1720v-5h12.2v5v-10.2h12.1v10.2v-14.5h12.2v14.5v-45.4h12.2v45.4v-77.7h12.2v77.7v-119.8h12.2v119.8v-155h12.2v155v-203.7h12.2v203.7v-257.6h12.2v257.6v-324.9h12.2v324.9v-385.5h12.1v385.5v-452.2h12.2v452.2v-531.2h12.2v531.2v-452.4h12.2v452.4v-543.7h12.2v543.7v-498.1h12.2v498.1v-549.4h12.2v549.4v-525.5h12.2v525.5v-558.2h12.2v558.2v-598.6h12.1v598.6v-507.6h12.2v507.6v-526.7h12.2v526.7v-503h12.2v503v-526.6h12.2v526.6v-454.5h12.2v454.5v-429.4h12.2v429.4v-358.5h12.2v358.5v-432.5h12.2v432.5v-187.7h12.1v187.7v-38.6h12.2v38.6z"/>
<path d="M189.5,1720v-6.9h12.1v6.9v-6.2h12.1v6.2v-19.1h12v19.1v-45.7h12.1v45.7v-84.5h12.1v84.5v-105.9h12.1v105.9v-155.6h12.1v155.6v-205.5h12.1v205.5v-234.8h12v234.8v-297.3h12.1v297.3v-379.6h12.1v379.6v-426.9h12.1v426.9v-497.5h12.1v497.5v-439.6h12.1v439.6v-485.5h12v485.5v-529.9h12.1v529.9v-502.8h12.1v502.8v-560.7h12.1v560.7v-508.6h12.1v508.6v-485.8h12v485.8v-613.8h12.1v613.8v-546.2h12.1v546.2v-468.9h12.1v468.9v-477.2h12.1v477.2v-448.2h12.1v448.2v-449.7h12v449.7v-407.1h12.1v407.1v-377h12.1v377v-169.8h12.1v169.8v-35.3h12.1v35.3z"/>
<path d="M189.2,1720v-7.4h12.2v7.4v-6.7h12.3v6.7v-16h12.3v16v-44.8h12.3v44.8v-74.4h12.3v74.4v-114.9h12.3v114.9v-152.3h12.2v152.3v-212.4h12.3v212.4v-261.4h12.3v261.4v-309.8h12.3v309.8v-345.7h12.3v345.7v-458.3h12.3v458.3v-475.1h12.2v475.1v-460.6h12.3v460.6v-509.5h12.3v509.5v-469.3h12.3v469.3v-513.7h12.3v513.7v-557.2h12.3v557.2v-548.9h12.2v548.9v-555.2h12.3v555.2v-588.2h12.3v588.2v-496h12.3v496v-505.6h12.3v505.6v-450.9h12.3v450.9v-480.9h12.2v480.9v-482.3h12.3v482.3v-383.4h12.3v383.4v-426.3h12.3v426.3v-237.3h12.3v237.3v-62.8h12.3v62.8z"/>
<path d="M189.2,1720v-6.7h12.3v6.7v-7.1h12.2v7.1v-18.2h12.2v18.2v-42.4h12.3v42.4v-82.2h12.2v82.2v-122.1h12.2v122.1v-142.6h12.3v142.6v-208.5h12.2v208.5v-234.6h12.2v234.6v-302.3h12.3v302.3v-388.9h12.2v388.9v-467.8h12.2v467.8v-487.5h12.3v487.5v-475.6h12.2v475.6v-507.4h12.2v507.4v-529.7h12.2v529.7v-519.3h12.3v519.3v-569.4h12.2v569.4v-539.3h12.2v539.3v-546.3h12.3v546.3v-583.3h12.2v583.3v-489.8h12.2v489.8v-503.2h12.3v503.2v-516.4h12.2v516.4v-441.9h12.2v441.9v-451.2h12.3v451.2v-377.8h12.2v377.8v-391.6h12.2v391.6v-208.2h12.3v208.2v-45.8h12.2v45.8z"/>
<path d="M189.5,1720v-4.8h12.1v4.8v-10.1h12.1v10.1v-19.2h12.1v19.2v-40.3h12.1v40.3v-88.6h12.1v88.6v-113.1h12.1v113.1v-148.9h12.1v148.9v-209.8h12.1v209.8v-284.1h12.1v284.1v-292.2h12.1v292.2v-381.5h12.1v381.5v-441.8h12.1v441.8v-445.2h12.1v445.2v-470.6h12.1v470.6v-510.8h12.2v510.8v-520.7h12.1v520.7v-482.3h12.1v482.3v-565.5h12.1v565.5v-472.8h12.1v472.8v-543.7h12.1v543.7v-556.8h12.1v556.8v-556.2h12.1v556.2v-497.3h12.1v497.3v-502.3h12.1v502.3v-464h12.1v464v-461.2h12.1v461.2v-376.2h12.1v376.2v-440.9h12.1v440.9v-197.7h12.1v197.7v-46.6h12.1v46.6z"/>
<path d="M189.2,1720v-4.6h12.1v4.6v-9.5h12.2v9.5v-16.2h12.1v16.2v-50.2h12.1v50.2v-68.3h12.1v68.3v-126.2h12.2v126.2v-122.3h12.1v122.3v-226.6h12.1v226.6v-217.1h12.2v217.1v-299.4h12.1v299.4v-373.8h12.1v373.8v-427.8h12.2v427.8v-498.7h12.1v498.7v-484.2h12.1v484.2v-482.4h12.1v482.4v-506.1h12.2v506.1v-549.4h12.1v549.4v-589.5h12.1v589.5v-486.5h12.2v486.5v-588.7h12.1v588.7v-474.1h12.1v474.1v-566.1h12.2v566.1v-528.9h12.1v528.9v-475.3h12.1v475.3v-419.2h12.1v419.2v-442.2h12.2v442.2v-440h12.1v440v-405h12.1v405v-182.2h12.2v182.2v-39.7h12.1v39.7z"/>
<path d="M190.6,1720v-4.3h12v4.3v-11.8h12.1v11.8v-15.4h12v15.4v-49.3h12v49.3v-81.8h12v81.8v-108.5h12v108.5v-170.4h12v170.4v-201.7h12.1v201.7v-259h12v259v-322.8h12v322.8v-345.5h12v345.5v-445.2h12v445.2v-465.6h12.1v465.6v-532.8h12v532.8v-480.3h12v480.3v-550.5h12v550.5v-540.1h12v540.1v-485.5h12v485.5v-588.1h12.1v588.1v-515.2h12v515.2v-598.2h12v598.2v-564.6h12v564.6v-502.5h12v502.5v-523.8h12v523.8v-503.5h12.1v503.5v-452.5h12v452.5v-429.2h12v429.2v-370.9h12v370.9v-229.2h12v229.2v-62.8h12.1v62.8z"/>
<path d="M190.5,1720v-4.8h12.2v4.8v-8.3h12.3v8.3v-21.4h12.3v21.4v-50.4h12.2v50.4v-80.6h12.3v80.6v-137.9h12.3v137.9v-162.8h12.2v162.8v-198.7h12.3v198.7v-230.2h12.3v230.2v-320.6h12.2v320.6v-358.9h12.3v358.9v-460.6h12.3v460.6v-454.3h12.2v454.3v-515.2h12.3v515.2v-504.6h12.3v504.6v-465h12.2v465v-498.3h12.3v498.3v-597.1h12.3v597.1v-524.7h12.2v524.7v-551.5h12.3v551.5v-551.3h12.3v551.3v-531.2h12.2v531.2v-490.2h12.3v490.2v-480h12.3v480v-465.6h12.2v465.6v-452.3h12.3v452.3v-432.6h12.3v432.6v-398.9h12.2v398.9v-195.5h12.3v195.5v-44.7h12.3v44.7z"/>
<path d="M190.7,1720v-4.6h12.1v4.6v-6.5h12.1v6.5v-19.9h12.2v19.9v-53.6h12.1v53.6v-80.1h12.1v80.1v-111.1h12.2v111.1v-173.1h12.1v173.1v-218.1h12.2v218.1v-240.4h12.1v240.4v-285.4h12.1v285.4v-388.6h12.2v388.6v-431.5h12.1v431.5v-482.8h12.1v482.8v-447h12.2v447v-468.1h12.1v468.1v-519h12.1v519v-517.4h12.2v517.4v-580.4h12.1v580.4v-525.6h12.1v525.6v-528.4h12.2v528.4v-571.7h12.1v571.7v-596.3h12.1v596.3v-466.5h12.2v466.5v-457.7h12.1v457.7v-410.9h12.1v410.9v-456.7h12.2v456.7v-360.8h12.1v360.8v-410.6h12.1v410.6v-196.8h12.2v196.8v-50.1h12.1v50.1z"/>
<path d="M190.7,1720v-4.7h12.2v4.7v-9.9h12.3v9.9v-19.8h12.3v19.8v-52.5h12.2v52.5v-77.6h12.3v77.6v-119.4h12.3v119.4v-156.1h12.2v156.1v-208.1h12.3v208.1v-263.7h12.3v263.7v-295.5h12.2v295.5v-419.6h12.3v419.6v-464h12.3v464v-494h12.2v494v-472.1h12.3v472.1v-534.6h12.3v534.6v-540.2h12.2v540.2v-514.1h12.3v514.1v-496.4h12.3v496.4v-527.8h12.2v527.8v-540.5h12.3v540.5v-544.4h12.3v544.4v-525.1h12.2v525.1v-495.5h12.3v495.5v-488.5h12.3v488.5v-493.9h12.2v493.9v-424.1h12.3v424.1v-354.1h12.3v354.1v-404.9h12.2v404.9v-169.7h12.3v169.7v-31.5h12.3v31.5z"/>
<path d="M191.6,1720v-6.9h12.1v6.9v-9.8h12v9.8v-20.8h12v20.8v-48h12v48v-85.1h12.1v85.1v-111.2h12v111.2v-157.9h12v157.9v-224.1h12v224.1v-227h12.1v227v-321.2h12v321.2v-342.7h12v342.7v-417.6h12v417.6v-439.3h12.1v439.3v-518.8h12v518.8v-532.1h12v532.1v-510.2h12v510.2v-524.5h12.1v524.5v-489.5h12v489.5v-544h12v544v-548.4h12v548.4v-568.3h12.1v568.3v-477.3h12v477.3v-493.9h12v493.9v-474.8h12v474.8v-471.4h12.1v471.4v-443.3h12v443.3v-379h12v379v-379.6h12v379.6v-210.4h12.1v210.4v-51.2h12v51.2z"/>
<path d="M190.1,1720v-6.4h12.4v6.4v-7.9h12.3v7.9v-19.2h12.3v19.2v-49.3h12.3v49.3v-77.7h12.3v77.7v-117.3h12.4v117.3v-163.3h12.3v163.3v-235.2h12.3v235.2v-220.4h12.3v220.4v-264.5h12.3v264.5v-364.4h12.4v364.4v-458.6h12.3v458.6v-466.7h12.3v466.7v-453.4h12.3v453.4v-495h12.3v495v-499h12.3v499v-502.6h12.4v502.6v-541.8h12.3v541.8v-550.3h12.3v550.3v-579.5h12.3v579.5v-578.5h12.3v578.5v-519.8h12.4v519.8v-511.5h12.3v511.5v-484.7h12.3v484.7v-417.8h12.3v417.8v-442.7h12.3v442.7v-385.4h12.4v385.4v-450.8h12.3v450.8v-195.7h12.3v195.7v-56.8h12.3v56.8z"/>
<path d="M190.5,1720v-6.5h12.1v6.5v-6.8h12v6.8v-17.1h12v17.1v-47.4h12v47.4v-74.9h12v74.9v-122.8h12.1v122.8v-149.2h12v149.2v-211.3h12v211.3v-243.9h12v243.9v-302.9h12v302.9v-357.5h12v357.5v-435.1h12.1v435.1v-456.1h12v456.1v-472.8h12v472.8v-511.2h12v511.2v-477.3h12v477.3v-530.6h12v530.6v-531.4h12.1v531.4v-486h12v486v-565.8h12v565.8v-601h12v601v-479.3h12v479.3v-555.1h12.1v555.1v-462.9h12v462.9v-474.4h12v474.4v-416.7h12v416.7v-427.4h12v427.4v-408.5h12v408.5v-213.2h12.1v213.2v-53.3h12v53.3z"/>
<path d="M190.3,1720v-7h12.3v7v-7.5h12.3v7.5v-21.2h12.3v21.2v-44.5h12.3v44.5v-79.8h12.3v79.8v-114h12.2v114v-158.8h12.3v158.8v-203.9h12.3v203.9v-265.8h12.3v265.8v-279.8h12.3v279.8v-364.8h12.3v364.8v-475.4h12.3v475.4v-463.3h12.2v463.3v-511.4h12.3v511.4v-508.6h12.3v508.6v-485.9h12.3v485.9v-526.9h12.3v526.9v-575.8h12.3v575.8v-561.5h12.3v561.5v-543.9h12.2v543.9v-553.8h12.3v553.8v-578.9h12.3v578.9v-518.3h12.3v518.3v-533.6h12.3v533.6v-453.7h12.3v453.7v-431.2h12.3v431.2v-403h12.2v403v-415.2h12.3v415.2v-158.9h12.3v158.9v-37.2h12.3v37.2z"/>
<path d="M189.7,1720v-2.3h12.2v2.3v-9.4h12.1v9.4v-16.2h12.1v16.2v-47.8h12.1v47.8v-78.9h12.1v78.9v-110.4h12.1v110.4v-160h12.2v160v-203.1h12.1v203.1v-237.3h12.1v237.3v-311.9h12.1v311.9v-343.5h12.1v343.5v-430.4h12.1v430.4v-479.9h12.1v479.9v-469.6h12.2v469.6v-533h12.1v533v-477.6h12.1v477.6v-528h12.1v528v-491.4h12.1v491.4v-550.9h12.1v550.9v-518.9h12.1v518.9v-558.5h12.2v558.5v-443h12.1v443v-503.9h12.1v503.9v-505h12.1v505v-451.9h12.1v451.9v-441.8h12.1v441.8v-420.6h12.1v420.6v-407.9h12.2v407.9v-222.7h12.1v222.7v-48.2h12.1v48.2z"/>
<path d="M190.6,1720v-7.2h12.3v7.2v-8.9h12.3v8.9v-17.8h12.3v17.8v-49.8h12.3v49.8v-89.1h12.2v89.1v-110.3h12.3v110.3v-159.1h12.3v159.1v-205.4h12.3v205.4v-234.2h12.2v234.2v-311.1h12.3v311.1v-410.9h12.3v410.9v-416.5h12.3v416.5v-485.4h12.3v485.4v-505.5h12.2v505.5v-501.9h12.3v501.9v-549.7h12.3v549.7v-553.1h12.3v553.1v-500.6h12.3v500.6v-529.4h12.2v529.4v-579.4h12.3v579.4v-507.2h12.3v507.2v-575.6h12.3v575.6v-519h12.3v519v-457.5h12.2v457.5v-489.4h12.3v489.4v-440.4h12.3v440.4v-365.1h12.3v365.1v-387.7h12.3v387.7v-184.2h12.2v184.2v-45.5h12.3v45.5z"/>
<path d="M189.5,1720v-5h12v5v-8.7h12v8.7v-19.8h12v19.8v-43.1h12v43.1v-75.7h12v75.7v-116.4h12v116.4v-132.6h12v132.6v-210.9h12v210.9v-246.7h12v246.7v-288.6h12v288.6v-376.9h12.1v376.9v-456h12v456v-468.4h12v468.4v-513.3h12v513.3v-475.3h12v475.3v-509.8h12v509.8v-451.8h12v451.8v-565.2h12v565.2v-518.3h12v518.3v-610.5h12v610.5v-540.7h12v540.7v-525.8h12v525.8v-460.2h12.1v460.2v-532.6h12v532.6v-450.2h12v450.2v-460.2h12v460.2v-405h12v405v-399h12v399v-216.4h12v216.4v-62.1h12v62.1z"/>
<path d="M190.7,1720v-4.3h12.2v4.3v-9.6h12.3v9.6v-16.4h12.3v16.4v-45.1h12.2v45.1v-77.3h12.3v77.3v-111.6h12.3v111.6v-155.1h12.2v155.1v-205.9h12.3v205.9v-262.2h12.3v262.2v-277.9h12.2v277.9v-414.6h12.3v414.6v-407h12.3v407v-490.6h12.2v490.6v-517.4h12.3v517.4v-484.3h12.3v484.3v-536.1h12.2v536.1v-489.1h12.3v489.1v-527.3h12.3v527.3v-547.8h12.2v547.8v-493.4h12.3v493.4v-569.7h12.2v569.7v-571.1h12.3v571.1v-425.2h12.3v425.2v-489.9h12.2v489.9v-424.5h12.3v424.5v-426h12.3v426v-384.3h12.2v384.3v-390.5h12.3v390.5v-208.6h12.3v208.6v-57.5h12.2v57.5z"/>
<path d="M190.6,1720v-6.3h12.3v6.3v-7.5h12.2v7.5v-20.5h12.3v20.5v-46.2h12.2v46.2v-78.8h12.3v78.8v-117.2h12.2v117.2v-156.7h12.3v156.7v-197.6h12.2v197.6v-262.4h12.3v262.4v-275.4h12.2v275.4v-368.2h12.3v368.2v-430.3h12.2v430.3v-464.8h12.3v464.8v-441.5h12.2v441.5v-493h12.3v493v-513.8h12.2v513.8v-503.1h12.3v503.1v-493.8h12.2v493.8v-531.8h12.3v531.8v-554.3h12.2v554.3v-492.7h12.3v492.7v-580.4h12.3v580.4v-514.1h12.2v514.1v-449h12.3v449v-454.5h12.2v454.5v-475.4h12.3v475.4v-378.2h12.2v378.2v-371.6h12.3v371.6v-224.6h12.2v224.6v-57.4h12.3v57.4z"/>
<path d="M189.7,1720v-6.5h12.2v6.5v-7.2h12.3v7.2v-20h12.2v20v-46.3h12.2v46.3v-79.8h12.3v79.8v-108.1h12.2v108.1v-167.2h12.2v167.2v-193.9h12.3v193.9v-276h12.2v276v-324h12.2v324v-358.4h12.3v358.4v-426.3h12.2v426.3v-465.2h12.2v465.2v-475.1h12.3v475.1v-547.3h12.2v547.3v-527.3h12.3v527.3v-556.1h12.2v556.1v-523h12.2v523v-539.4h12.3v539.4v-516.2h12.2v516.2v-564.8h12.2v564.8v-582.1h12.3v582.1v-482.1h12.2v482.1v-515.8h12.2v515.8v-464.8h12.3v464.8v-442.3h12.2v442.3v-402.9h12.3v402.9v-362.4h12.2v362.4v-176.5h12.2v176.5v-43.8h12.3v43.8z"/>
<path d="M189.8,1720v-7.5h12v7.5v-6.8h12.1v6.8v-15.2h12.1v15.2v-46.8h12v46.8v-72.8h12.1v72.8v-107.3h12.1v107.3v-160h12.1v160v-225.7h12v225.7v-220.4h12.1v220.4v-311.8h12.1v311.8v-354.6h12.1v354.6v-434.4h12v434.4v-458.5h12.1v458.5v-538.3h12.1v538.3v-528.2h12v528.2v-487h12.1v487v-497.4h12.1v497.4v-536h12.1v536v-541.1h12v541.1v-543.6h12.1v543.6v-504.8h12.1v504.8v-555.5h12.1v555.5v-475.8h12v475.8v-512.6h12.1v512.6v-453.1h12.1v453.1v-453.7h12v453.7v-422.6h12.1v422.6v-419.6h12.1v419.6v-217.5h12.1v217.5v-57.2h12v57.2z"/>
<path d="M189.7,1720v-4.7h12.2v4.7v-9.6h12.1v9.6v-15.9h12.1v15.9v-51.9h12.2v51.9v-77.4h12.1v77.4v-108.1h12.2v108.1v-153.9h12.1v153.9v-214.7h12.2v214.7v-229.2h12.1v229.2v-314.1h12.2v314.1v-341.7h12.1v341.7v-453.7h12.1v453.7v-464.3h12.2v464.3v-529.8h12.1v529.8v-494.7h12.2v494.7v-497.7h12.1v497.7v-529.6h12.2v529.6v-531h12.1v531v-588.8h12.2v588.8v-468.6h12.1v468.6v-610.8h12.1v610.8v-489.8h12.2v489.8v-477.3h12.1v477.3v-499.3h12.2v499.3v-428.4h12.1v428.4v-468.4h12.2v468.4v-418.5h12.1v418.5v-372.9h12.1v372.9v-214.8h12.2v214.8v-51h12.1v51z"/>
<path d="M190,1720v-6.9h12v6.9v-7.5h12v7.5v-16.5h12.1v16.5v-51.7h12v51.7v-75.1h12v75.1v-119.6h12v119.6v-158.4h12.1v158.4v-201.8h12v201.8v-232.2h12v232.2v-269.9h12v269.9v-367.7h12.1v367.7v-414.9h12v414.9v-488.4h12v488.4v-441.7h12v441.7v-505.3h12.1v505.3v-536.3h12v536.3v-540.2h12v540.2v-521.4h12v521.4v-556.5h12.1v556.5v-570.6h12v570.6v-539.7h12v539.7v-552.9h12v552.9v-488.1h12.1v488.1v-497.3h12v497.3v-515.5h12v515.5v-431.1h12v431.1v-469h12.1v469v-420.8h12v420.8v-228.4h12v228.4v-48.1h12v48.1z"/>
<path d="M190.9,1720v-4.7h12v4.7v-6.8h12v6.8v-18.5h12.1v18.5v-53.4h12v53.4v-72.7h12v72.7v-106.3h12.1v106.3v-163.6h12v163.6v-201.4h12v201.4v-278.3h12.1v278.3v-281.8h12v281.8v-410.3h12v410.3v-480.9h12.1v480.9v-443.5h12v443.5v-491.1h12v491.1v-449.3h12.1v449.3v-528.9h12v528.9v-517h12v517v-511.8h12.1v511.8v-476.8h12v476.8v-582.8h12v582.8v-587.5h12.1v587.5v-505.1h12v505.1v-563.2h12v563.2v-423.1h12.1v423.1v-482.7h12v482.7v-442.1h12v442.1v-429.1h12v429.1v-378.4h12.1v378.4v-188.4h12v188.4v-45.2h12v45.2z"/>
<path d="M190.9,1720v-7.4h12.1v7.4v-9.3h12.1v9.3v-17.1h12.2v17.1v-50.2h12.1v50.2v-76h12.1v76v-126.3h12.1v126.3v-144.7h12.2v144.7v-218.9h12.1v218.9v-265.8h12.1v265.8v-280.1h12.2v280.1v-418.4h12.1v418.4v-456.1h12.1v456.1v-453h12.1v453v-479.5h12.2v479.5v-443.8h12.1v443.8v-511.2h12.1v511.2v-494.7h12.2v494.7v-576.9h12.1v576.9v-518.5h12.1v518.5v-562.6h12.1v562.6v-455.4h12.2v455.4v-545.8h12.1v545.8v-502.6h12.1v502.6v-466.5h12.2v466.5v-413.8h12.1v413.8v-510h12.1v510v-425h12.1v425v-379.2h12.2v379.2v-183.1h12.1v183.1v-45.1h12.1v45.1z"/>
<path d="M191.6,1720v-7.8h12.2v7.8v-9.8h12.1v9.8v-22.2h12.2v22.2v-44.8h12.2v44.8v-82.5h12.1v82.5v-118.2h12.2v118.2v-153h12.2v153v-206h12.2v206v-239.5h12.1v239.5v-288.1h12.2v288.1v-374h12.2v374v-407.6h12.1v407.6v-492.5h12.2v492.5v-513.4h12.2v513.4v-464h12.1v464v-473.2h12.2v473.2v-561.6h12.2v561.6v-539.4h12.1v539.4v-499.1h12.2v499.1v-537.3h12.2v537.3v-588.6h12.1v588.6v-566.9h12.2v566.9v-466.5h12.2v466.5v-517.8h12.2v517.8v-430.6h12.1v430.6v-490.2h12.2v490.2v-408.2h12.2v408.2v-412.8h12.1v412.8v-215.2h12.2v215.2v-56.4h12.2v56.4z"/>
<path d="M189.8,1720v-4.7h12.2v4.7v-9h12.2v9v-19.5h12.3v19.5v-46.6h12.2v46.6v-79.2h12.2v79.2v-111.6h12.2v111.6v-142.4h12.2v142.4v-215.9h12.2v215.9v-230.7h12.2v230.7v-328.3h12.2v328.3v-353h12.2v353v-445.2h12.2v445.2v-496.2h12.2v496.2v-516.4h12.2v516.4v-503.4h12.2v503.4v-537.4h12.2v537.4v-505.2h12.2v505.2v-529.6h12.2v529.6v-524.8h12.2v524.8v-523.2h12.2v523.2v-569.6h12.2v569.6v-508h12.2v508v-569.2h12.2v569.2v-493.5h12.2v493.5v-464.1h12.2v464.1v-466.7h12.2v466.7v-387.5h12.2v387.5v-426h12.2v426v-194.5h12.2v194.5v-50.1h12.3v50.1z"/>
<path d="M189.1,1720v-4.3h12.2v4.3v-9.7h12.2v9.7v-16.9h12.3v16.9v-44.1h12.2v44.1v-80.2h12.2v80.2v-100.8h12.2v100.8v-140.4h12.3v140.4v-217.1h12.2v217.1v-250.9h12.2v250.9v-283.6h12.2v283.6v-390.8h12.3v390.8v-484.6h12.2v484.6v-452.6h12.2v452.6v-519.2h12.2v519.2v-498.1h12.2v498.1v-487.9h12.3v487.9v-578.7h12.2v578.7v-565.4h12.2v565.4v-554.6h12.2v554.6v-610.2h12.3v610.2v-507.2h12.2v507.2v-557.7h12.2v557.7v-492h12.2v492v-452.8h12.2v452.8v-522h12.3v522v-423.1h12.2v423.1v-416.5h12.2v416.5v-380.9h12.2v380.9v-171.1h12.3v171.1v-40.6h12.2v40.6z"/>
<path d="M190.5,1720v-2.4h12v2.4v-9.9h12.1v9.9v-19h12v19v-43h12.1v43v-83.3h12.1v83.3v-115.7h12v115.7v-149.7h12.1v149.7v-208.9h12v208.9v-268.7h12.1v268.7v-280.1h12.1v280.1v-376.8h12v376.8v-422h12.1v422v-463.5h12.1v463.5v-470.1h12v470.1v-515.7h12.1v515.7v-522.2h12v522.2v-532.5h12.1v532.5v-534.7h12.1v534.7v-546.9h12v546.9v-543.3h12.1v543.3v-539.1h12.1v539.1v-558.2h12v558.2v-512.8h12.1v512.8v-512.9h12v512.9v-469.2h12.1v469.2v-438.8h12.1v438.8v-396.7h12v396.7v-373.7h12.1v373.7v-211.8h12.1v211.8v-53.4h12v53.4z"/>
<path d="M189.1,1720v-5.1h12.1v5.1v-9.3h12.2v9.3v-14.6h12.1v14.6v-42.2h12.1v42.2v-82.9h12.1v82.9v-107h12.2v107v-134.9h12.1v134.9v-223.8h12.1v223.8v-236.2h12.1v236.2v-282.2h12.1v282.2v-382.8h12.2v382.8v-462.1h12.1v462.1v-465.9h12.1v465.9v-453.9h12.1v453.9v-521h12.1v521v-462.1h12.2v462.1v-481.2h12.1v481.2v-556.6h12.1v556.6v-531.9h12.1v531.9v-569.6h12.2v569.6v-587h12.1v587v-492.3h12.1v492.3v-511.1h12.1v511.1v-440.1h12.1v440.1v-443.9h12.2v443.9v-428.5h12.1v428.5v-426.4h12.1v426.4v-374.6h12.1v374.6v-220.8h12.1v220.8v-64.5h12.2v64.5z"/>
<path d="M190.2,1720v-4.8h12.2v4.8v-6.8h12.1v6.8v-18.9h12.2v18.9v-49h12.2v49v-81.6h12.2v81.6v-118.6h12.1v118.6v-156.7h12.2v156.7v-216.4h12.2v216.4v-255.9h12.2v255.9v-305.1h12.1v305.1v-390h12.2v390v-439.5h12.2v439.5v-570.2h12.2v570.2v-431.9h12.1v431.9v-477.2h12.2v477.2v-539.7h12.2v539.7v-564.8h12.2v564.8v-498.6h12.1v498.6v-562.2h12.2v562.2v-616.9h12.2v616.9v-493.6h12.1v493.6v-531.8h12.2v531.8v-515.7h12.2v515.7v-498.4h12.2v498.4v-476.4h12.1v476.4v-451.1h12.2v451.1v-449.2h12.2v449.2v-420.1h12.2v420.1v-178.8h12.1v178.8v-43.5h12.2v43.5z"/>
<path d="M189.4,1720v-6.9h12.3v6.9v-7.7h12.3v7.7v-17h12.2v17v-48h12.3v48v-86.9h12.2v86.9v-117.6h12.3v117.6v-168.3h12.3v168.3v-187.5h12.2v187.5v-235.7h12.3v235.7v-323.1h12.2v323.1v-360.8h12.3v360.8v-431.6h12.2v431.6v-478.9h12.3v478.9v-493.8h12.3v493.8v-482.9h12.2v482.9v-512.4h12.3v512.4v-518.7h12.2v518.7v-513.9h12.3v513.9v-530.1h12.3v530.1v-552h12.2v552v-545.9h12.3v545.9v-505.3h12.2v505.3v-520.8h12.3v520.8v-458.4h12.3v458.4v-450.9h12.2v450.9v-439h12.3v439v-396.3h12.2v396.3v-390.5h12.3v390.5v-176.1h12.2v176.1v-43.9h12.3v43.9z"/>
<path d="M189.2,1720v-7h12.3v7v-6.9h12.3v6.9v-15.2h12.4v15.2v-44.5h12.3v44.5v-75.6h12.3v75.6v-106.7h12.4v106.7v-164.1h12.3v164.1v-192.3h12.3v192.3v-252.9h12.4v252.9v-294.2h12.3v294.2v-385.1h12.3v385.1v-412.6h12.3v412.6v-470.7h12.4v470.7v-562.4h12.3v562.4v-485.3h12.3v485.3v-503.5h12.4v503.5v-549.8h12.3v549.8v-520.5h12.3v520.5v-578.3h12.4v578.3v-607.3h12.3v607.3v-547.1h12.3v547.1v-514.9h12.3v514.9v-550.8h12.4v550.8v-479.9h12.3v479.9v-429.8h12.3v429.8v-461.3h12.4v461.3v-373.5h12.3v373.5v-407.5h12.3v407.5v-178.8h12.4v178.8v-39.9h12.3v39.9z"/>
<path d="M190.9,1720v-6.8h12.1v6.8v-9.4h12.1v9.4v-19.3h12.1v19.3v-53h12.2v53v-78.8h12.1v78.8v-129.8h12.1v129.8v-169.9h12.1v169.9v-222.3h12.1v222.3v-237.9h12.2v237.9v-363.5h12.1v363.5v-323.1h12.1v323.1v-427.9h12.1v427.9v-456.9h12.1v456.9v-484.4h12.2v484.4v-505.1h12.1v505.1v-508.5h12.1v508.5v-552h12.1v552v-550.4h12.1v550.4v-546.1h12.2v546.1v-591h12.1v591v-553.6h12.1v553.6v-507.4h12.1v507.4v-541.4h12.1v541.4v-490.2h12.2v490.2v-444.2h12.1v444.2v-442h12.1v442v-428.8h12.1v428.8v-368.2h12.1v368.2v-168.3h12.2v168.3v-42.9h12.1v42.9z"/>
<path d="M190.9,1720v-4.9h12.2v4.9v-11.6h12.3v11.6v-17.4h12.2v17.4v-55.1h12.2v55.1v-78.8h12.2v78.8v-106.8h12.2v106.8v-167.4h12.2v167.4v-209.6h12.3v209.6v-244.8h12.2v244.8v-294.4h12.2v294.4v-388.9h12.2v388.9v-423.4h12.2v423.4v-516.8h12.3v516.8v-432.1h12.2v432.1v-503.9h12.2v503.9v-509.7h12.2v509.7v-524.9h12.2v524.9v-482.4h12.3v482.4v-573.9h12.2v573.9v-599.7h12.2v599.7v-564h12.2v564v-539.9h12.2v539.9v-506.4h12.2v506.4v-436.9h12.3v436.9v-460.1h12.2v460.1v-400.9h12.2v400.9v-424.5h12.2v424.5v-401.4h12.2v401.4v-190h12.3v190v-40.7h12.2v40.7z"/>
<path d="M191.4,1720v-6.4h12.1v6.4v-9.6h12.1v9.6v-18.1h12.1v18.1v-52h12.1v52v-82.7h12.1v82.7v-122.9h12.1v122.9v-158.5h12.1v158.5v-227.7h12.1v227.7v-234.7h12.1v234.7v-294.4h12.1v294.4v-358.4h12.1v358.4v-433.5h12.1v433.5v-466.3h12.1v466.3v-500.8h12.1v500.8v-453.3h12.1v453.3v-506.4h12.1v506.4v-481.5h12.1v481.5v-498.5h12.1v498.5v-566.1h12.1v566.1v-568.9h12.1v568.9v-605.2h12.1v605.2v-462.2h12.1v462.2v-524.5h12.1v524.5v-517.2h12.1v517.2v-448.4h12.1v448.4v-432.9h12.1v432.9v-426h12.1v426v-339.7h12.1v339.7v-217.3h12.1v217.3v-52.7h12.1v52.7z"/>
</g>
<g clip-path="url(#cb)" fill="#f00" fill-opacity=".3" stroke="#000" stroke-opacity=".3" stroke-width="2.6">
<path d="M402.3,1720v-684.5h12.2v684.5z"/>
<path d="M394.6,1720v-654.4h12.2v654.4z"/>
<path d="M423.5,1720v-642h14.9v642z"/>
<path d="M429.3,1720v-635h13.6v635z"/>
<path d="M326.4,1720v-590.5h14.1v590.5z"/>
<path d="M373.4,1720v-597.5h12.8v597.5z"/>
<path d="M334.7,1720v-586.1h14.8v586.1z"/>
<path d="M489.8,1720v-583.5h14.8v583.5z"/>
<path d="M449,1720v-555.7h13.4v555.7z"/>
<path d="M462.4,1720v-554.3h13.3v554.3z"/>
<path d="M354.7,1720v-568.3h15.3v568.3z"/>
</g>
<g clip-path="url(#cb)" fill="#800080" fill-opacity=".3" stroke="#000" stroke-opacity=".5" stroke-width="2.6">
<path d="M353.9,1720v-9.7h20.9v9.7v-14.6h20.8v14.6v-23.2h20.8v23.2v-46.3h20.9v46.3v-81.9h20.8v81.9v-117.2h20.8v117.2v-150.5h20.8v150.5v-208.3h20.9v208.3v-262.1h20.8v262.1v-306.2h20.8v306.2v-373.2h20.8v373.2v-418.3h20.9v418.3v-448.2h20.8v448.2v-494.8h20.8v494.8v-467.8h20.8v467.8v-458.6h20.9v458.6v-456.3h20.8v456.3v-554.4h20.8v554.4v-553.2h20.8v553.2v-475.1h20.9v475.1v-463.2h20.8v463.2v-484.3h20.8v484.3v-411.9h20.8v411.9v-401.2h20.9v401.2v-368h20.8v368v-348.1h20.8v348.1v-258.9h20.8v258.9v-163.4h20.9v163.4v-80.9h20.8v80.9v-20.9h20.8v20.9z"/>
<path d="M354.5,1720v-11.6h20.8v11.6v-13h20.7v13v-23.9h20.8v23.9v-41.4h20.7v41.4v-88.1h20.8v88.1v-112h20.8v112v-158.6h20.7v158.6v-184h20.8v184v-244.2h20.8v244.2v-292.7h20.7v292.7v-361h20.8v361v-451h20.7v451v-460.1h20.8v460.1v-517.7h20.8v517.7v-508.4h20.7v508.4v-523h20.8v523v-529.9h20.8v529.9v-507.3h20.7v507.3v-507h20.8v507v-533.6h20.8v533.6v-470.3h20.7v470.3v-452h20.8v452v-416.1h20.7v416.1v-387.7h20.8v387.7v-373.9h20.8v373.9v-316.4h20.7v316.4v-276.3h20.8v276.3v-172.9h20.8v172.9v-78.3h20.7v78.3v-24.7h20.8v24.7z"/>
<path d="M355,1720v-9.7h20.4v9.7v-14.5h20.5v14.5v-24.1h20.4v24.1v-48.2h20.5v48.2v-75.6h20.4v75.6v-120h20.5v120v-162.8h20.4v162.8v-207.7h20.4v207.7v-223.2h20.5v223.2v-293.7h20.4v293.7v-372.1h20.5v372.1v-466.5h20.4v466.5v-548h20.5v548v-490.2h20.4v490.2v-476.2h20.4v476.2v-509.1h20.5v509.1v-469.9h20.4v469.9v-503.4h20.5v503.4v-523.8h20.4v523.8v-549.3h20.5v549.3v-495.3h20.4v495.3v-429.7h20.4v429.7v-389.5h20.5v389.5v-445.3h20.4v445.3v-388.6h20.5v388.6v-324.1h20.4v324.1v-263.5h20.5v263.5v-163.5h20.4v163.5v-71.9h20.4v71.9v-23.3h20.5v23.3z"/>
<path d="M348.6,1720v-7.6h21v7.6v-11.9h21v11.9v-19.4h20.9v19.4v-41.9h21v41.9v-70.5h21v70.5v-104.1h21v104.1v-150.7h20.9v150.7v-166.8h21v166.8v-228h21v228v-272.2h21v272.2v-361.5h20.9v361.5v-371.4h21v371.4v-494.4h21v494.4v-518.3h21v518.3v-520.4h20.9v520.4v-539.6h21v539.6v-513.8h21v513.8v-526.5h21v526.5v-570.1h20.9v570.1v-493.7h21v493.7v-451.8h21v451.8v-447.1h21v447.1v-513.6h20.9v513.6v-384.6h21v384.6v-380.4h21v380.4v-373.6h21v373.6v-312.7h20.9v312.7v-177.5h21v177.5v-100.8h21v100.8v-32.2h21v32.2z"/>
<path d="M354.1,1720v-9.4h21v9.4v-13.4h21v13.4v-25h21v25v-43.9h21v43.9v-96.3h20.9v96.3v-100.1h21v100.1v-152.1h21v152.1v-193.9h21v193.9v-241.4h21v241.4v-309.4h21v309.4v-363.7h21v363.7v-430.7h20.9v430.7v-454.3h21v454.3v-497h21v497v-479.1h21v479.1v-487.5h21v487.5v-504.7h21v504.7v-521.4h21v521.4v-540.1h20.9v540.1v-540.5h21v540.5v-430.4h21v430.4v-458h21v458v-437.6h21v437.6v-389.1h21v389.1v-391.4h21v391.4v-335.7h21v335.7v-252.5h20.9v252.5v-157.4h21v157.4v-82.3h21v82.3v-24.3h21v24.3z"/>
<path d="M348.6,1720v-9.2h21.1v9.2v-9.9h21.1v9.9v-22h21.1v22v-41.2h21.2v41.2v-66.9h21.1v66.9v-104.5h21.1v104.5v-156.3h21.1v156.3v-211.8h21.1v211.8v-228.7h21.1v228.7v-300.8h21.1v300.8v-371.9h21.1v371.9v-382h21.1v382v-527.4h21.1v527.4v-472.6h21.1v472.6v-486.3h21.1v486.3v-487.9h21.1v487.9v-531.5h21.1v531.5v-540.6h21.1v540.6v-553.6h21.1v553.6v-597.4h21.1v597.4v-462.1h21.1v462.1v-481.5h21.1v481.5v-402.5h21.1v402.5v-445.7h21.1v445.7v-402h21.1v402v-339.5h21.1v339.5v-247.7h21.1v247.7v-175.3h21.1v175.3v-92.8h21.1v92.8v-31.4h21.1v31.4z"/>
<path d="M345.3,1720v-7.5h20.8v7.5v-8.7h20.8v8.7v-19.2h20.8v19.2v-30.8h20.8v30.8v-76.3h20.9v76.3v-100.3h20.8v100.3v-153.5h20.8v153.5v-196.9h20.8v196.9v-226.2h20.8v226.2v-255.6h20.8v255.6v-397.5h20.9v397.5v-420.6h20.8v420.6v-518.3h20.8v518.3v-481.8h20.8v481.8v-557.8h20.8v557.8v-468.9h20.8v468.9v-547h20.9v547v-498.2h20.8v498.2v-564.9h20.8v564.9v-510.5h20.8v510.5v-448.1h20.8v448.1v-508.2h20.9v508.2v-485.5h20.8v485.5v-399.8h20.8v399.8v-391.7h20.8v391.7v-314h20.8v314v-289.5h20.8v289.5v-171h20.9v171v-82.9h20.8v82.9v-27.1h20.8v27.1z"/>
<path d="M348.7,1720v-7.5h20.9v7.5v-12.5h20.8v12.5v-21h20.8v21v-36.3h20.8v36.3v-80.9h20.9v80.9v-102h20.8v102v-149.5h20.8v149.5v-186.8h20.9v186.8v-228.6h20.8v228.6v-271.6h20.8v271.6v-349.5h20.9v349.5v-382h20.8v382v-502h20.8v502v-509.8h20.9v509.8v-503.5h20.8v503.5v-504.4h20.8v504.4v-574.1h20.8v574.1v-540.9h20.9v540.9v-554h20.8v554v-521.5h20.8v521.5v-456.9h20.9v456.9v-431.4h20.8v431.4v-424.1h20.8v424.1v-439.4h20.9v439.4v-385.2h20.8v385.2v-342.6h20.8v342.6v-265.8h20.9v265.8v-199.2h20.8v199.2v-98.2h20.8v98.2v-33.4h20.9v33.4z"/>
<path d="M345.2,1720v-7h20.6v7v-13.2h20.5v13.2v-14.6h20.6v14.6v-33.9h20.5v33.9v-76.1h20.6v76.1v-96.5h20.6v96.5v-138.8h20.5v138.8v-163.1h20.6v163.1v-230.6h20.5v230.6v-287.2h20.6v287.2v-326.2h20.5v326.2v-418.5h20.6v418.5v-463h20.5v463v-534.3h20.6v534.3v-536.7h20.5v536.7v-485.1h20.6v485.1v-527.8h20.5v527.8v-593.2h20.6v593.2v-520.8h20.5v520.8v-511h20.6v511v-457.7h20.6v457.7v-446h20.5v446v-492.8h20.6v492.8v-447.4h20.5v447.4v-426h20.6v426v-305.2h20.5v305.2v-286h20.6v286v-167.5h20.5v167.5v-103.1h20.6v103.1v-30.7h20.5v30.7z"/>
<path d="M359.2,1720v-9.4h20.3v9.4v-14.7h20.2v14.7v-26.9h20.2v26.9v-49.8h20.3v49.8v-89.4h20.2v89.4v-111.6h20.2v111.6v-165.2h20.2v165.2v-200.1h20.3v200.1v-249.4h20.2v249.4v-334h20.2v334v-344.1h20.3v344.1v-430.1h20.2v430.1v-536.8h20.2v536.8v-502.5h20.3v502.5v-522.9h20.2v522.9v-554.9h20.2v554.9v-486.2h20.2v486.2v-515.6h20.3v515.6v-528.4h20.2v528.4v-529h20.2v529v-405.9h20.3v405.9v-459.3h20.2v459.3v-404.7h20.2v404.7v-403.7h20.3v403.7v-392.3h20.2v392.3v-347.6h20.2v347.6v-261.6h20.3v261.6v-153.6h20.2v153.6v-85.8h20.2v85.8v-27.4h20.2v27.4z"/>
<path d="M345,1720v-8.9h20.7v8.9v-9.7h20.7v9.7v-18.8h20.7v18.8v-33.4h20.8v33.4v-77.7h20.7v77.7v-100.4h20.7v100.4v-132h20.7v132v-169.7h20.8v169.7v-219.7h20.7v219.7v-304.1h20.7v304.1v-346.3h20.7v346.3v-402.1h20.8v402.1v-515.6h20.7v515.6v-529.1h20.7v529.1v-518.2h20.7v518.2v-494.3h20.8v494.3v-457.1h20.7v457.1v-550.6h20.7v550.6v-563.2h20.7v563.2v-488.6h20.8v488.6v-533.9h20.7v533.9v-488.6h20.7v488.6v-445.8h20.7v445.8v-408.3h20.8v408.3v-393.8h20.7v393.8v-367.8h20.7v367.8v-258.4h20.7v258.4v-182.7h20.8v182.7v-95.6h20.7v95.6v-34.2h20.7v34.2z"/>
<path d="M346.6,1720v-7.6h21v7.6v-10.9h21v10.9v-19.5h21v19.5v-35.8h21v35.8v-73.5h21v73.5v-111.7h21v111.7v-132.2h21v132.2v-184.8h21v184.8v-228.1h21v228.1v-278.5h21v278.5v-355.6h21v355.6v-390.5h20.9v390.5v-553.6h21v553.6v-487.1h21v487.1v-468.6h21v468.6v-500.2h21v500.2v-540.2h21v540.2v-542.5h21v542.5v-505.9h21v505.9v-516.3h21v516.3v-475h21v475v-407.1h21v407.1v-444h21v444v-430.5h21v430.5v-415.1h20.9v415.1v-295.9h21v295.9v-264.1h21v264.1v-182.7h21v182.7v-89.2h21v89.2v-27.9h21v27.9z"/>
<path d="M344.3,1720v-6.6h21v6.6v-12.2h21.1v12.2v-18.8h21v18.8v-31.7h21.1v31.7v-69.5h21v69.5v-109.1h21.1v109.1v-130.6h21v130.6v-174.4h21.1v174.4v-221.4h21v221.4v-267.4h21.1v267.4v-357.3h21v357.3v-368.4h21.1v368.4v-497.2h21v497.2v-465.6h21.1v465.6v-536.9h21v536.9v-465.5h21.1v465.5v-596.7h21v596.7v-507.1h21.1v507.1v-516.5h21v516.5v-544.7h21.1v544.7v-471.8h21v471.8v-459.9h21.1v459.9v-445.6h21v445.6v-414.8h21.1v414.8v-355.7h21v355.7v-382.2h21.1v382.2v-270.3h21v270.3v-170.4h21.1v170.4v-97.8h21v97.8v-31h21.1v31z"/>
<path d="M344.6,1720v-7.1h21.2v7.1v-11.4h21.2v11.4v-19.7h21.2v19.7v-31.9h21.3v31.9v-77.5h21.2v77.5v-104.1h21.2v104.1v-146.4h21.2v146.4v-178.1h21.3v178.1v-237.8h21.2v237.8v-306.9h21.2v306.9v-379.3h21.2v379.3v-408.5h21.3v408.5v-487.1h21.2v487.1v-490.1h21.2v490.1v-497.2h21.2v497.2v-501.2h21.3v501.2v-521.6h21.2v521.6v-537.1h21.2v537.1v-611.7h21.2v611.7v-533.6h21.3v533.6v-496h21.2v496v-476.7h21.2v476.7v-441.9h21.2v441.9v-378.4h21.3v378.4v-454.7h21.2v454.7v-308.9h21.2v308.9v-258.2h21.2v258.2v-193.4h21.3v193.4v-89.3h21.2v89.3v-29.1h21.2v29.1z"/>
<path d="M346.5,1720v-9h21v9v-11.9h21v11.9v-20.4h21v20.4v-35.7h21v35.7v-85.3h21v85.3v-97.9h21v97.9v-160.3h21v160.3v-183.5h21v183.5v-243.9h21v243.9v-265.8h21v265.8v-352.2h21v352.2v-390.8h21v390.8v-544.4h21v544.4v-471.7h21v471.7v-467.4h21v467.4v-531.5h21v531.5v-510h21v510v-549.4h21v549.4v-495.8h21v495.8v-548.5h20.9v548.5v-485.7h21v485.7v-478.7h21v478.7v-419.2h21v419.2v-394.2h21v394.2v-392.1h21v392.1v-343.4h21v343.4v-296.1h21v296.1v-174.6h21v174.6v-91.2h21v91.2v-28.6h21v28.6z"/>
<path d="M355,1720v-9.4h20.5v9.4v-13.7h20.5v13.7v-25.7h20.5v25.7v-44.6h20.5v44.6v-97.5h20.5v97.5v-109.7h20.5v109.7v-166h20.5v166v-193.8h20.5v193.8v-218.7h20.5v218.7v-280.5h20.5v280.5v-348h20.4v348v-397h20.5v397v-499h20.5v499v-507h20.5v507v-483.6h20.5v483.6v-538.5h20.5v538.5v-470.8h20.5v470.8v-610.1h20.5v610.1v-486.1h20.5v486.1v-498.2h20.5v498.2v-507.9h20.5v507.9v-430.2h20.5v430.2v-412.5h20.5v412.5v-382.8h20.5v382.8v-375.7h20.4v375.7v-365h20.5v365v-256.3h20.5v256.3v-195.2h20.5v195.2v-92.1h20.5v92.1v-29.9h20.5v29.9z"/>
<path d="M350.9,1720v-6.9h21v6.9v-14.3h21v14.3v-19.5h21v19.5v-42.5h21v42.5v-82.4h21.1v82.4v-113.6h21v113.6v-145.8h21v145.8v-237.4h21v237.4v-223.7h21v223.7v-282.5h21v282.5v-374.4h21v374.4v-401.7h21v401.7v-495.6h21.1v495.6v-511.4h21v511.4v-566h21v566v-513.3h21v513.3v-516.4h21v516.4v-580.2h21v580.2v-548.9h21v548.9v-521.1h21.1v521.1v-465.9h21v465.9v-449.9h21v449.9v-452h21v452v-404.8h21v404.8v-388.2h21v388.2v-340.1h21v340.1v-293.3h21v293.3v-158.2h21.1v158.2v-85.2h21v85.2v-24.7h21v24.7z"/>
<path d="M353.7,1720v-8.6h20.8v8.6v-14.2h20.9v14.2v-22.6h20.9v22.6v-42.6h20.9v42.6v-81.2h20.8v81.2v-122.8h20.9v122.8v-152.2h20.9v152.2v-185.2h20.9v185.2v-238.1h20.8v238.1v-295.5h20.9v295.5v-375.6h20.9v375.6v-455.1h20.9v455.1v-520h20.8v520v-512.6h20.9v512.6v-516.4h20.9v516.4v-473.1h20.9v473.1v-511.7h20.8v511.7v-535.1h20.9v535.1v-537.7h20.9v537.7v-488.2h20.9v488.2v-517.9h20.8v517.9v-472.3h20.9v472.3v-423.6h20.9v423.6v-390.9h20.9v390.9v-406.7h20.8v406.7v-359.6h20.9v359.6v-264.5h20.9v264.5v-177.5h20.9v177.5v-74.7h20.8v74.7v-22h20.9v22z"/>
<path d="M354.1,1720v-11.1h20.8v11.1v-11.4h20.8v11.4v-22.3h20.9v22.3v-48.1h20.8v48.1v-88.7h20.8v88.7v-125.3h20.9v125.3v-153.3h20.8v153.3v-189.8h20.8v189.8v-238.4h20.9v238.4v-282.9h20.8v282.9v-422.7h20.8v422.7v-385.9h20.8v385.9v-470h20.9v470v-526.3h20.8v526.3v-463.9h20.8v463.9v-524.5h20.9v524.5v-550.2h20.8v550.2v-527.1h20.8v527.1v-551.1h20.9v551.1v-520.6h20.8v520.6v-447.1h20.8v447.1v-438.5h20.9v438.5v-426.5h20.8v426.5v-404.7h20.8v404.7v-337.8h20.9v337.8v-355.1h20.8v355.1v-294.4h20.8v294.4v-147.9h20.8v147.9v-85.5h20.9v85.5v-20.9h20.8v20.9z"/>
<path d="M355.5,1720v-9.2h20.6v9.2v-15.3h20.6v15.3v-20.6h20.6v20.6v-47.8h20.6v47.8v-89.2h20.6v89.2v-114.3h20.7v114.3v-157.8h20.6v157.8v-179.4h20.6v179.4v-231.5h20.6v231.5v-278.8h20.6v278.8v-346h20.6v346v-441.9h20.6v441.9v-538.2h20.6v538.2v-431.6h20.6v431.6v-531.5h20.6v531.5v-532.9h20.6v532.9v-534.6h20.6v534.6v-530.2h20.6v530.2v-518.3h20.6v518.3v-495.6h20.6v495.6v-481.3h20.6v481.3v-429.2h20.6v429.2v-440.8h20.6v440.8v-377.7h20.6v377.7v-390.3h20.6v390.3v-369.4h20.6v369.4v-270.5h20.6v270.5v-168.9h20.6v168.9v-86.5h20.6v86.5v-27.8h20.6v27.8z"/>
<path d="M347,1720v-6.9h21v6.9v-9.2h20.9v9.2v-18h21v18v-37.1h20.9v37.1v-73.5h20.9v73.5v-116.8h21v116.8v-147.8h20.9v147.8v-183.4h21v183.4v-217.6h20.9v217.6v-256.7h21v256.7v-336.1h20.9v336.1v-415.2h21v415.2v-505h20.9v505v-509.1h20.9v509.1v-524.1h21v524.1v-519h20.9v519v-516.5h21v516.5v-559h20.9v559v-502.5h21v502.5v-488.1h20.9v488.1v-533h20.9v533v-443.3h21v443.3v-435.1h20.9v435.1v-382.3h21v382.3v-359h20.9v359v-317.9h21v317.9v-294.5h20.9v294.5v-178.9h20.9v178.9v-99.4h21v99.4v-38.1h20.9v38.1z"/>
<path d="M347.6,1720v-6.8h21.1v6.8v-12.6h21v12.6v-18.4h21.1v18.4v-33.4h21v33.4v-75.4h21.1v75.4v-108.7h21v108.7v-152.7h21.1v152.7v-189.8h21v189.8v-213.7h21.1v213.7v-279.4h21v279.4v-350.6h21.1v350.6v-377.1h21v377.1v-472.8h21.1v472.8v-444.3h21v444.3v-507.5h21.1v507.5v-468.1h21v468.1v-483.4h21.1v483.4v-537.6h21v537.6v-520.8h21.1v520.8v-488.9h21v488.9v-485.6h21.1v485.6v-502.7h21v502.7v-415h21.1v415v-400.7h21v400.7v-378.1h21.1v378.1v-352.1h21v352.1v-297.4h21.1v297.4v-185.5h21v185.5v-92.9h21.1v92.9v-28.4h21v28.4z"/>
<path d="M351.6,1720v-9.7h20.7v9.7v-11.8h20.6v11.8v-20.7h20.6v20.7v-38.3h20.7v38.3v-80.2h20.6v80.2v-109.5h20.7v109.5v-158.2h20.6v158.2v-182.9h20.7v182.9v-212.5h20.6v212.5v-280.1h20.7v280.1v-322.9h20.6v322.9v-415.2h20.7v415.2v-467.6h20.6v467.6v-432.8h20.7v432.8v-460.5h20.6v460.5v-562.1h20.7v562.1v-462.1h20.6v462.1v-561.3h20.7v561.3v-534.2h20.6v534.2v-530.9h20.7v530.9v-491h20.6v491v-452.4h20.7v452.4v-434.9h20.6v434.9v-440.7h20.6v440.7v-382.3h20.7v382.3v-354.3h20.6v354.3v-274.6h20.7v274.6v-183.6h20.6v183.6v-91.6h20.7v91.6v-39.2h20.6v39.2z"/>
<path d="M345.7,1720v-9.8h20.9v9.8v-9h20.9v9v-20.3h20.9v20.3v-35.5h20.9v35.5v-77.2h20.8v77.2v-109.7h20.9v109.7v-141.9h20.9v141.9v-177.5h20.9v177.5v-226.5h20.9v226.5v-295.1h20.9v295.1v-368.6h20.9v368.6v-410.9h20.9v410.9v-492.7h20.9v492.7v-596.7h20.8v596.7v-505.2h20.9v505.2v-481.9h20.9v481.9v-533.2h20.9v533.2v-517.5h20.9v517.5v-593.5h20.9v593.5v-542.6h20.9v542.6v-458h20.9v458v-509.3h20.9v509.3v-431.4h20.8v431.4v-416.1h20.9v416.1v-395.4h20.9v395.4v-325.6h20.9v325.6v-258.4h20.9v258.4v-162.8h20.9v162.8v-73.9h20.9v73.9v-24h20.9v24z"/>
<path d="M345.4,1720v-9.4h20.9v9.4v-10.3h21v10.3v-17.3h20.9v17.3v-34h20.9v34v-76.1h20.9v76.1v-100h20.9v100v-129.5h20.9v129.5v-182.5h21v182.5v-219.8h20.9v219.8v-288.4h20.9v288.4v-336.9h20.9v336.9v-396.4h20.9v396.4v-516.3h21v516.3v-510.8h20.9v510.8v-510.5h20.9v510.5v-484.5h20.9v484.5v-518.5h20.9v518.5v-547h20.9v547v-546.8h21v546.8v-522h20.9v522v-491.1h20.9v491.1v-510.9h20.9v510.9v-430.7h20.9v430.7v-423h20.9v423v-420.3h21v420.3v-379.7h20.9v379.7v-249.2h20.9v249.2v-175h20.9v175v-91.6h20.9v91.6v-35.9h20.9v35.9z"/>
<path d="M353,1720v-9.4h20.6v9.4v-12.3h20.6v12.3v-22.4h20.6v22.4v-42.2h20.5v42.2v-78.6h20.6v78.6v-124h20.6v124v-145h20.6v145v-182.5h20.6v182.5v-239.7h20.6v239.7v-307.4h20.6v307.4v-374.5h20.6v374.5v-406.4h20.5v406.4v-479.6h20.6v479.6v-473.2h20.6v473.2v-504.9h20.6v504.9v-483.4h20.6v483.4v-528.5h20.6v528.5v-503.2h20.6v503.2v-541.4h20.5v541.4v-495.5h20.6v495.5v-480.1h20.6v480.1v-460.7h20.6v460.7v-425h20.6v425v-434.7h20.6v434.7v-362.4h20.6v362.4v-354.2h20.6v354.2v-290.3h20.5v290.3v-202h20.6v202v-84.5h20.6v84.5v-38.8h20.6v38.8z"/>
<path d="M359.5,1720v-7h20.6v7v-16.3h20.6v16.3v-28.3h20.6v28.3v-61.3h20.7v61.3v-88.6h20.6v88.6v-121.8h20.6v121.8v-164.1h20.6v164.1v-203.3h20.7v203.3v-238.4h20.6v238.4v-292.5h20.6v292.5v-357.6h20.6v357.6v-446.5h20.7v446.5v-539.3h20.6v539.3v-521.1h20.6v521.1v-493h20.6v493v-517.5h20.6v517.5v-526.1h20.7v526.1v-541.6h20.6v541.6v-511.6h20.6v511.6v-519.3h20.6v519.3v-467.8h20.7v467.8v-431.9h20.6v431.9v-437.1h20.6v437.1v-397.1h20.6v397.1v-377h20.7v377v-314.5h20.6v314.5v-265h20.6v265v-172.5h20.6v172.5v-93h20.7v93v-27.1h20.6v27.1z"/>
<path d="M349.2,1720v-6.2h20.4v6.2v-12.8h20.5v12.8v-22.1h20.4v22.1v-36.5h20.5v36.5v-80.9h20.4v80.9v-111.6h20.5v111.6v-145.2h20.5v145.2v-180.8h20.4v180.8v-231h20.5v231v-278.9h20.4v278.9v-352.9h20.5v352.9v-399.2h20.4v399.2v-517.2h20.5v517.2v-526.4h20.4v526.4v-468.9h20.5v468.9v-480.4h20.4v480.4v-501h20.5v501v-473.7h20.4v473.7v-627.2h20.5v627.2v-499.5h20.4v499.5v-454.4h20.5v454.4v-512.9h20.5v512.9v-397.3h20.4v397.3v-427.5h20.5v427.5v-376.3h20.4v376.3v-336.9h20.5v336.9v-251.8h20.4v251.8v-187.9h20.5v187.9v-83.6h20.4v83.6v-28.9h20.5v28.9z"/>
<path d="M347.5,1720v-12.1h20.9v12.1v-8.5h20.8v8.5v-22.2h20.8v22.2v-37.4h20.9v37.4v-70.6h20.8v70.6v-109.3h20.9v109.3v-142.7h20.8v142.7v-192.2h20.9v192.2v-227.3h20.8v227.3v-290.8h20.9v290.8v-324.6h20.8v324.6v-397.3h20.8v397.3v-494.2h20.9v494.2v-437.3h20.8v437.3v-536.3h20.9v536.3v-493.5h20.8v493.5v-557h20.9v557v-573.2h20.8v573.2v-525.2h20.9v525.2v-541.8h20.8v541.8v-440.6h20.8v440.6v-391h20.9v391v-419.9h20.8v419.9v-422.1h20.9v422.1v-390.6h20.8v390.6v-376.8h20.9v376.8v-273.2h20.8v273.2v-179.8h20.9v179.8v-77.1h20.8v77.1v-27.3h20.8v27.3z"/>
<path d="M350.4,1720v-7h20.4v7v-12.4h20.5v12.4v-22h20.4v22v-38.1h20.4v38.1v-77.8h20.5v77.8v-116.9h20.4v116.9v-156.8h20.4v156.8v-185.2h20.5v185.2v-224.4h20.4v224.4v-271.7h20.4v271.7v-340.4h20.5v340.4v-454.9h20.4v454.9v-455.2h20.5v455.2v-475.7h20.4v475.7v-501.4h20.4v501.4v-519.8h20.5v519.8v-453.3h20.4v453.3v-575.8h20.4v575.8v-582h20.5v582v-547h20.4v547v-480.2h20.4v480.2v-498.3h20.5v498.3v-388.7h20.4v388.7v-410.9h20.4v410.9v-383h20.5v383v-330.3h20.4v330.3v-250.5h20.5v250.5v-195.9h20.4v195.9v-76.1h20.4v76.1v-23.7h20.5v23.7z"/>
<path d="M347.8,1720v-7.2h21.1v7.2v-8.6h21.1v8.6v-22.3h21.1v22.3v-34.8h21.1v34.8v-79.2h21.2v79.2v-97.7h21.1v97.7v-149.7h21.1v149.7v-169.9h21.1v169.9v-246.9h21.1v246.9v-265.1h21.2v265.1v-357h21.1v357v-388.2h21.1v388.2v-510.7h21.1v510.7v-482.8h21.1v482.8v-489.8h21.2v489.8v-526.2h21.1v526.2v-550h21.1v550v-528.1h21.1v528.1v-562.4h21.2v562.4v-495.6h21.1v495.6v-457.1h21.1v457.1v-434.9h21.1v434.9v-426.7h21.1v426.7v-430.1h21.2v430.1v-408.3h21.1v408.3v-357.3h21.1v357.3v-285h21.1v285v-160.6h21.1v160.6v-95.5h21.2v95.5v-30.6h21.1v30.6z"/>
<path d="M347.3,1720v-6.8h21v6.8v-11.5h21v11.5v-18.2h21v18.2v-39.3h21v39.3v-72.1h21v72.1v-106.8h21v106.8v-142.8h21v142.8v-171.6h21v171.6v-217.6h21v217.6v-293.7h21v293.7v-348.2h20.9v348.2v-383.9h21v383.9v-490.8h21v490.8v-512h21v512v-525h21v525v-501h21v501v-495.5h21v495.5v-540.6h21v540.6v-507.5h21v507.5v-589.9h21v589.9v-477.5h21v477.5v-484.8h21v484.8v-418.1h20.9v418.1v-423.9h21v423.9v-415h21v415v-335.5h21v335.5v-257.5h21v257.5v-166.6h21v166.6v-85.8h21v85.8v-24.1h21v24.1z"/>
<path d="M354.9,1720v-6.9h20.8v6.9v-17.1h20.9v17.1v-22.4h20.8v22.4v-44.9h20.9v44.9v-86.1h20.8v86.1v-119.9h20.9v119.9v-153.5h20.8v153.5v-172.6h20.9v172.6v-269.4h20.9v269.4v-269h20.8v269v-372.8h20.9v372.8v-389.8h20.8v389.8v-475.4h20.9v475.4v-492h20.8v492v-543.7h20.9v543.7v-481.6h20.8v481.6v-493.4h20.9v493.4v-538.7h20.8v538.7v-576.9h20.9v576.9v-564.1h20.8v564.1v-451.6h20.9v451.6v-481.7h20.9v481.7v-438.2h20.8v438.2v-423.8h20.9v423.8v-359.6h20.8v359.6v-362h20.9v362v-268.4h20.8v268.4v-157.6h20.9v157.6v-73.5h20.8v73.5v-23.7h20.9v23.7z"/>
<path d="M348.2,1720v-9.4h20.8v9.4v-12.3h20.9v12.3v-22.8h20.9v22.8v-37.6h20.9v37.6v-78.3h20.8v78.3v-117.4h20.9v117.4v-148.1h20.9v148.1v-173.2h20.9v173.2v-223.8h20.9v223.8v-297.1h20.8v297.1v-395.6h20.9v395.6v-367.1h20.9v367.1v-510.1h20.9v510.1v-495.9h20.8v495.9v-456.1h20.9v456.1v-542.7h20.9v542.7v-500.2h20.9v500.2v-507.8h20.8v507.8v-566.5h20.9v566.5v-555.7h20.9v555.7v-443h20.9v443v-501.8h20.9v501.8v-385.1h20.8v385.1v-423.6h20.9v423.6v-391.1h20.9v391.1v-346.3h20.9v346.3v-301.1h20.8v301.1v-183h20.9v183v-88.7h20.9v88.7v-30.7h20.9v30.7z"/>
<path d="M344.9,1720v-7.3h21.3v7.3v-11.2h21.2v11.2v-22.1h21.3v22.1v-33.9h21.3v33.9v-68.8h21.2v68.8v-112.7h21.3v112.7v-152.2h21.3v152.2v-177.5h21.2v177.5v-221.3h21.3v221.3v-273.2h21.2v273.2v-323.7h21.3v323.7v-419.7h21.3v419.7v-495.3h21.2v495.3v-556.4h21.3v556.4v-532.2h21.3v532.2v-473.8h21.2v473.8v-440.7h21.3v440.7v-548.4h21.2v548.4v-497h21.3v497v-549.3h21.3v549.3v-545.7h21.2v545.7v-435.2h21.3v435.2v-445.6h21.3v445.6v-415.8h21.2v415.8v-363.4h21.3v363.4v-335.6h21.2v335.6v-258h21.3v258v-168.9h21.3v168.9v-94.3h21.2v94.3v-26.7h21.3v26.7z"/>
<path d="M348,1720v-11.6h20.8v11.6v-9.8h20.8v9.8v-18.7h20.8v18.7v-44h20.8v44v-76.8h20.8v76.8v-104h20.8v104v-144.6h20.8v144.6v-189.3h20.8v189.3v-224.3h20.8v224.3v-291.8h20.9v291.8v-319.9h20.8v319.9v-403.2h20.8v403.2v-469h20.8v469v-475.4h20.8v475.4v-447.1h20.8v447.1v-568.8h20.8v568.8v-551.8h20.8v551.8v-491.3h20.8v491.3v-571.1h20.8v571.1v-483.4h20.8v483.4v-484h20.8v484v-475.5h20.8v475.5v-452.2h20.9v452.2v-441h20.8v441v-384.3h20.8v384.3v-324.7h20.8v324.7v-287.9h20.8v287.9v-161.3h20.8v161.3v-87.3h20.8v87.3v-32.2h20.8v32.2z"/>
<path d="M352.9,1720v-11.7h20.7v11.7v-10.8h20.6v10.8v-22.7h20.7v22.7v-46.3h20.6v46.3v-72.2h20.7v72.2v-122.7h20.7v122.7v-141.7h20.6v141.7v-190.8h20.7v190.8v-247.9h20.7v247.9v-277.7h20.6v277.7v-403.9h20.7v403.9v-421.1h20.7v421.1v-456.1h20.6v456.1v-534.7h20.7v534.7v-511.1h20.6v511.1v-540.7h20.7v540.7v-500.7h20.7v500.7v-508.7h20.6v508.7v-563.4h20.7v563.4v-587.2h20.7v587.2v-462.6h20.6v462.6v-472.1h20.7v472.1v-421.5h20.7v421.5v-434.2h20.6v434.2v-391.6h20.7v391.6v-306.6h20.6v306.6v-263.8h20.7v263.8v-169.1h20.7v169.1v-81.8h20.6v81.8v-25.7h20.7v25.7z"/>
<path d="M349.7,1720v-9.4h20.9v9.4v-11.8h21v11.8v-19h20.9v19v-42.1h20.9v42.1v-71.5h21v71.5v-112.3h20.9v112.3v-160.9h20.9v160.9v-164.4h21v164.4v-215.2h20.9v215.2v-283.7h21v283.7v-361.1h20.9v361.1v-433.4h20.9v433.4v-574.9h21v574.9v-510.5h20.9v510.5v-491.3h20.9v491.3v-561.4h21v561.4v-553.2h20.9v553.2v-515.5h20.9v515.5v-518.1h21v518.1v-518.4h20.9v518.4v-471.1h20.9v471.1v-435.1h21v435.1v-428.7h20.9v428.7v-449.7h21v449.7v-359.7h20.9v359.7v-313.3h20.9v313.3v-243.9h21v243.9v-194.5h20.9v194.5v-74.1h20.9v74.1v-25.7h21v25.7z"/>
<path d="M357.7,1720v-10.1h20.7v10.1v-13.9h20.7v13.9v-24.3h20.7v24.3v-50.7h20.7v50.7v-86.4h20.7v86.4v-110.5h20.8v110.5v-160.8h20.7v160.8v-201.9h20.7v201.9v-236h20.7v236v-294.1h20.7v294.1v-359.3h20.7v359.3v-454.2h20.7v454.2v-524.9h20.8v524.9v-488.3h20.7v488.3v-503.9h20.7v503.9v-509.1h20.7v509.1v-520.9h20.7v520.9v-522.1h20.7v522.1v-514.4h20.7v514.4v-482h20.8v482v-446.6h20.7v446.6v-477.6h20.7v477.6v-429.1h20.7v429.1v-446.2h20.7v446.2v-358.1h20.7v358.1v-335.2h20.7v335.2v-291.1h20.8v291.1v-149.9h20.7v149.9v-84.3h20.7v84.3v-28.4h20.7v28.4z"/>
<path d="M343.4,1720v-7.1h20.9v7.1v-11.8h21v11.8v-19.1h21v19.1v-27.6h20.9v27.6v-67h21v67v-111h21v111v-142.8h20.9v142.8v-184.7h21v184.7v-202.5h21v202.5v-254.9h20.9v254.9v-318.8h21v318.8v-412.7h21v412.7v-501.7h20.9v501.7v-467.6h21v467.6v-510.5h21v510.5v-551h20.9v551v-520.6h21v520.6v-510.4h20.9v510.4v-607h21v607v-491.4h21v491.4v-451.8h20.9v451.8v-471.7h21v471.7v-470.7h21v470.7v-400.3h20.9v400.3v-396.5h21v396.5v-365.5h21v365.5v-278.3h20.9v278.3v-182.6h21v182.6v-80.5h21v80.5v-27h20.9v27z"/>
<path d="M355.2,1720v-7.1h21v7.1v-13.6h20.9v13.6v-22.2h20.9v22.2v-49.5h21v49.5v-81.3h20.9v81.3v-119.8h20.9v119.8v-167.8h21v167.8v-207.3h20.9v207.3v-237h20.9v237v-291.9h20.9v291.9v-359.9h21v359.9v-420.8h20.9v420.8v-420.6h20.9v420.6v-505h21v505v-542.8h20.9v542.8v-508.3h20.9v508.3v-499.4h21v499.4v-545.5h20.9v545.5v-575.2h20.9v575.2v-497.8h21v497.8v-465.6h20.9v465.6v-439.3h20.9v439.3v-488.6h20.9v488.6v-390.2h21v390.2v-364.7h20.9v364.7v-330.6h20.9v330.6v-271.9h21v271.9v-158.1h20.9v158.1v-83.1h20.9v83.1v-24.6h21v24.6z"/>
<path d="M346,1720v-9.4h20.9v9.4v-11.3h20.8v11.3v-20.5h20.8v20.5v-32h20.9v32v-73.4h20.8v73.4v-102.1h20.9v102.1v-135.8h20.8v135.8v-200.3h20.9v200.3v-216.6h20.8v216.6v-300.7h20.9v300.7v-344.5h20.8v344.5v-380.2h20.9v380.2v-535.3h20.8v535.3v-515.3h20.8v515.3v-504.6h20.9v504.6v-498.2h20.8v498.2v-484h20.9v484v-574.2h20.8v574.2v-468.3h20.9v468.3v-545.7h20.8v545.7v-482.9h20.9v482.9v-459.6h20.8v459.6v-430.6h20.9v430.6v-414.9h20.8v414.9v-378.2h20.9v378.2v-369h20.8v369v-250h20.8v250v-183.2h20.9v183.2v-86.4h20.8v86.4v-27.3h20.9v27.3z"/>
<path d="M351.4,1720v-7.4h20.9v7.4v-13.8h21v13.8v-22.7h20.9v22.7v-41.7h20.9v41.7v-82.6h21v82.6v-108.3h20.9v108.3v-149.4h21v149.4v-194.5h20.9v194.5v-231.7h20.9v231.7v-299.5h21v299.5v-329.2h20.9v329.2v-406.2h21v406.2v-482.1h20.9v482.1v-481.8h21v481.8v-545.7h20.9v545.7v-485.3h20.9v485.3v-534.1h21v534.1v-459.5h20.9v459.5v-614.1h21v614.1v-547.2h20.9v547.2v-504.2h21v504.2v-430.6h20.9v430.6v-419.1h20.9v419.1v-435.9h21v435.9v-412.2h20.9v412.2v-356.2h21v356.2v-270.3h20.9v270.3v-198.8h20.9v198.8v-88.7h21v88.7v-29.4h20.9v29.4z"/>
<path d="M369.1,1720v-11.8h20.1v11.8v-18.2h20.1v18.2v-37.6h20.1v37.6v-79.5h20.1v79.5v-92.1h20.1v92.1v-134.2h20.1v134.2v-173.9h20.2v173.9v-219.8h20.1v219.8v-256.5h20.1v256.5v-340h20.1v340v-389.1h20.1v389.1v-458.4h20.1v458.4v-500.8h20.1v500.8v-486.4h20.1v486.4v-514.8h20.1v514.8v-519.6h20.1v519.6v-495h20.1v495v-533.4h20.2v533.4v-493.4h20.1v493.4v-476.3h20.1v476.3v-459.2h20.1v459.2v-459.2h20.1v459.2v-474h20.1v474v-364.6h20.1v364.6v-362.2h20.1v362.2v-301.6h20.1v301.6v-228.7h20.1v228.7v-134.4h20.1v134.4v-68.7h20.2v68.7v-15.1h20.1v15.1z"/>
<path d="M344.1,1720v-7.6h21.1v7.6v-10.5h21.2v10.5v-19.6h21.1v19.6v-31.6h21.1v31.6v-72.5h21.2v72.5v-99.2h21.1v99.2v-134h21.1v134v-201h21.2v201v-224.2h21.1v224.2v-284.2h21.1v284.2v-371.6h21.2v371.6v-410h21.1v410v-501.7h21.1v501.7v-534.5h21.2v534.5v-500.6h21.1v500.6v-507.5h21.1v507.5v-511.8h21.2v511.8v-578.7h21.1v578.7v-487.6h21.1v487.6v-515.4h21.2v515.4v-477h21.1v477v-451.9h21.1v451.9v-452.4h21.2v452.4v-388.2h21.1v388.2v-425.5h21.1v425.5v-382.1h21.1v382.1v-268.4h21.2v268.4v-188.7h21.1v188.7v-81.1h21.1v81.1v-32.1h21.2v32.1z"/>
<path d="M345.4,1720v-6.8h20.9v6.8v-10h20.9v10v-21.2h20.8v21.2v-35.9h20.9v35.9v-74.5h20.9v74.5v-103.8h20.9v103.8v-154.2h20.9v154.2v-172h20.9v172v-231.9h20.9v231.9v-249.9h20.9v249.9v-378.8h20.9v378.8v-405.2h20.9v405.2v-476.3h20.8v476.3v-556.6h20.9v556.6v-500.3h20.9v500.3v-475.7h20.9v475.7v-541.1h20.9v541.1v-503.3h20.9v503.3v-504.8h20.9v504.8v-581.9h20.9v581.9v-431.5h20.9v431.5v-466.2h20.9v466.2v-432.8h20.9v432.8v-412h20.8v412v-368h20.9v368v-331.9h20.9v331.9v-278.8h20.9v278.8v-190.1h20.9v190.1v-93.8h20.9v93.8v-32.9h20.9v32.9z"/>
<path d="M350.4,1720v-7.3h20.8v7.3v-14.1h20.9v14.1v-22.2h20.8v22.2v-38.9h20.9v38.9v-77.5h20.8v77.5v-112.6h20.9v112.6v-146.3h20.9v146.3v-206.2h20.8v206.2v-205.5h20.9v205.5v-297.8h20.8v297.8v-360h20.9v360v-395h20.8v395v-435.3h20.9v435.3v-564h20.9v564v-469.3h20.8v469.3v-466.7h20.9v466.7v-522.1h20.8v522.1v-529.1h20.9v529.1v-530h20.8v530v-500.3h20.9v500.3v-492.2h20.8v492.2v-473.7h20.9v473.7v-409.6h20.9v409.6v-463.6h20.8v463.6v-386.6h20.9v386.6v-330.3h20.8v330.3v-293.3h20.9v293.3v-173.1h20.8v173.1v-86h20.9v86v-36.8h20.8v36.8z"/>
<path d="M343.6,1720v-6.8h21v6.8v-9.8h21.1v9.8v-17.8h21.1v17.8v-34.3h21v34.3v-71.8h21.1v71.8v-86.2h21.1v86.2v-137.3h21v137.3v-172.3h21.1v172.3v-209.7h21.1v209.7v-282h21v282v-327.7h21.1v327.7v-406.5h21.1v406.5v-481.6h21v481.6v-519.4h21.1v519.4v-478.4h21.1v478.4v-522.6h21.1v522.6v-495.7h21v495.7v-492.4h21.1v492.4v-531.9h21.1v531.9v-500.2h21v500.2v-510.1h21.1v510.1v-456.5h21.1v456.5v-414.5h21v414.5v-455.5h21.1v455.5v-390.8h21.1v390.8v-379.6h21v379.6v-271.3h21.1v271.3v-195.4h21.1v195.4v-104.2h21v104.2v-35.6h21.1v35.6z"/>
<path d="M353.5,1720v-6.9h20.9v6.9v-13.8h20.8v13.8v-23.9h20.9v23.9v-40.5h20.8v40.5v-87.5h20.9v87.5v-109.5h20.8v109.5v-141.9h20.9v141.9v-215.5h20.8v215.5v-246.2h20.9v246.2v-299.1h20.8v299.1v-356.4h20.9v356.4v-421.5h20.8v421.5v-483h20.8v483v-483.3h20.9v483.3v-509.5h20.8v509.5v-542.8h20.9v542.8v-457.7h20.8v457.7v-538.6h20.9v538.6v-537.3h20.8v537.3v-532.4h20.9v532.4v-462.3h20.8v462.3v-441.1h20.9v441.1v-458.1h20.8v458.1v-412.8h20.9v412.8v-356.7h20.8v356.7v-327h20.9v327v-267.1h20.8v267.1v-168.5h20.8v168.5v-92.4h20.9v92.4v-27.6h20.8v27.6z"/>
<path d="M354.8,1720v-9.6h20.7v9.6v-14h20.8v14v-19.6h20.7v19.6v-45h20.7v45v-81.6h20.7v81.6v-110.9h20.7v110.9v-155.3h20.7v155.3v-222.3h20.7v222.3v-228.5h20.7v228.5v-297.1h20.7v297.1v-378.8h20.7v378.8v-436.7h20.7v436.7v-488.1h20.7v488.1v-484.7h20.7v484.7v-502.3h20.7v502.3v-428.3h20.7v428.3v-546.4h20.7v546.4v-482.3h20.7v482.3v-593.5h20.7v593.5v-503.5h20.7v503.5v-469.5h20.7v469.5v-424.3h20.7v424.3v-446.9h20.7v446.9v-392.2h20.7v392.2v-350.4h20.7v350.4v-343.5h20.7v343.5v-260.2h20.7v260.2v-167.2h20.7v167.2v-81.3h20.7v81.3v-19.9h20.7v19.9z"/>
<path d="M345.9,1720v-4.5h20.9v4.5v-10.3h20.8v10.3v-20.4h20.9v20.4v-34.3h20.9v34.3v-80.9h20.8v80.9v-107.4h20.9v107.4v-152.5h20.9v152.5v-171.5h20.9v171.5v-240.5h20.8v240.5v-268.5h20.9v268.5v-368.5h20.9v368.5v-394.5h20.9v394.5v-525.2h20.8v525.2v-471.3h20.9v471.3v-473.7h20.9v473.7v-492.4h20.9v492.4v-547.7h20.8v547.7v-459.2h20.9v459.2v-556.2h20.9v556.2v-486.4h20.8v486.4v-520.2h20.9v520.2v-487.1h20.9v487.1v-455.3h20.9v455.3v-410.1h20.8v410.1v-370.9h20.9v370.9v-374.1h20.9v374.1v-310.5h20.9v310.5v-151h20.8v151v-85.2h20.9v85.2v-28.5h20.9v28.5z"/>
<path d="M343.2,1720v-9.2h20.7v9.2v-8.9h20.7v8.9v-19.9h20.6v19.9v-28.5h20.7v28.5v-65.8h20.7v65.8v-95.5h20.6v95.5v-143.7h20.7v143.7v-177.4h20.7v177.4v-231.5h20.6v231.5v-267.5h20.7v267.5v-342.5h20.7v342.5v-362.5h20.6v362.5v-501h20.7v501v-563.3h20.7v563.3v-475.9h20.6v475.9v-517.2h20.7v517.2v-557.6h20.7v557.6v-494.8h20.6v494.8v-552.7h20.7v552.7v-566.5h20.7v566.5v-496.2h20.6v496.2v-449.4h20.7v449.4v-428.8h20.7v428.8v-421.8h20.6v421.8v-373.3h20.7v373.3v-365.5h20.7v365.5v-289.2h20.7v289.2v-190.1h20.6v190.1v-85h20.7v85v-28.6h20.7v28.6z"/>
<path d="M348.4,1720v-9.1h21.3v9.1v-9.2h21.3v9.2v-19.7h21.3v19.7v-36.6h21.3v36.6v-81.1h21.4v81.1v-108.7h21.3v108.7v-144.5h21.3v144.5v-196.9h21.3v196.9v-240.2h21.3v240.2v-309.3h21.3v309.3v-378.1h21.3v378.1v-435.9h21.3v435.9v-502h21.3v502v-517.7h21.3v517.7v-533.7h21.3v533.7v-531.4h21.4v531.4v-416h21.3v416v-571.7h21.3v571.7v-527.6h21.3v527.6v-538.7h21.3v538.7v-538.5h21.3v538.5v-418.2h21.3v418.2v-432.8h21.3v432.8v-392.1h21.3v392.1v-346.7h21.3v346.7v-341.8h21.3v341.8v-257.9h21.4v257.9v-157.3h21.3v157.3v-77.2h21.3v77.2v-19.6h21.3v19.6z"/>
<path d="M358,1720v-9.9h20.6v9.9v-12.5h20.7v12.5v-26.2h20.6v26.2v-63.1h20.6v63.1v-86.5h20.6v86.5v-114.7h20.6v114.7v-155.3h20.7v155.3v-207.9h20.6v207.9v-227.8h20.6v227.8v-277.5h20.6v277.5v-389.5h20.6v389.5v-430h20.7v430v-506.8h20.6v506.8v-448.9h20.6v448.9v-465.1h20.6v465.1v-502.9h20.6v502.9v-473.3h20.6v473.3v-493.2h20.7v493.2v-593.4h20.6v593.4v-494.1h20.6v494.1v-475h20.6v475v-433.2h20.6v433.2v-442.4h20.7v442.4v-411.2h20.6v411.2v-398.6h20.6v398.6v-335.4h20.6v335.4v-267.1h20.6v267.1v-161.9h20.7v161.9v-84.1h20.6v84.1v-19.6h20.6v19.6z"/>
<path d="M349.6,1720v-7.4h20.8v7.4v-12.9h20.7v12.9v-20.3h20.8v20.3v-41.5h20.8v41.5v-72h20.8v72v-103.1h20.8v103.1v-143.6h20.8v143.6v-196.6h20.8v196.6v-253.8h20.8v253.8v-309.3h20.8v309.3v-376.4h20.8v376.4v-410.6h20.8v410.6v-474.9h20.8v474.9v-550.5h20.8v550.5v-493.8h20.8v493.8v-500.4h20.8v500.4v-468.1h20.8v468.1v-532.1h20.8v532.1v-540h20.8v540v-517.6h20.8v517.6v-480.8h20.7v480.8v-398.1h20.8v398.1v-441.8h20.8v441.8v-429.2h20.8v429.2v-378.7h20.8v378.7v-308.2h20.8v308.2v-287.4h20.8v287.4v-161.4h20.8v161.4v-85.5h20.8v85.5v-30.4h20.8v30.4z"/>
<path d="M352.3,1720v-8.8h20.6v8.8v-11h20.6v11v-21.4h20.7v21.4v-42.4h20.6v42.4v-85h20.6v85v-116.4h20.7v116.4v-156.9h20.6v156.9v-180.9h20.6v180.9v-221.9h20.7v221.9v-266.9h20.6v266.9v-355.1h20.6v355.1v-434.6h20.7v434.6v-501.3h20.6v501.3v-493.9h20.6v493.9v-507.3h20.7v507.3v-490.5h20.6v490.5v-500.9h20.6v500.9v-507.1h20.7v507.1v-608.6h20.6v608.6v-512.1h20.6v512.1v-465.9h20.7v465.9v-412h20.6v412v-471.5h20.7v471.5v-374h20.6v374v-415.6h20.6v415.6v-332.7h20.7v332.7v-273.5h20.6v273.5v-168.8h20.6v168.8v-93h20.7v93v-29.2h20.6v29.2z"/>
<path d="M346.4,1720v-6.6h21v6.6v-9.9h21.1v9.9v-20.1h21v20.1v-36.9h21v36.9v-71.1h21v71.1v-106.1h21v106.1v-132h21v132v-206.6h21.1v206.6v-250.6h21v250.6v-285h21v285v-322.9h21v322.9v-429.3h21v429.3v-451.9h21.1v451.9v-466.4h21v466.4v-575.9h21v575.9v-496.5h21v496.5v-534.5h21v534.5v-571.5h21v571.5v-547.8h21.1v547.8v-500.2h21v500.2v-511h21v511v-460.5h21v460.5v-435.3h21v435.3v-399h21.1v399v-401.4h21v401.4v-357.9h21v357.9v-280.6h21v280.6v-171.5h21v171.5v-82.6h21v82.6v-30.9h21.1v30.9z"/>
<path d="M349.1,1720v-9.4h21v9.4v-11.5h21v11.5v-21.5h21v21.5v-39.8h21v39.8v-71.9h21v71.9v-120.7h21v120.7v-149.1h21v149.1v-185.9h21v185.9v-261h21v261v-229.6h21v229.6v-355.8h21v355.8v-398.7h21v398.7v-439.2h21v439.2v-501.5h21v501.5v-478h21v478v-502.3h21v502.3v-524.2h21v524.2v-572.2h21v572.2v-557.8h21v557.8v-538.2h21v538.2v-496.2h21v496.2v-444.2h21v444.2v-471.7h21v471.7v-394.7h21v394.7v-375.3h21v375.3v-350.2h21v350.2v-274.6h21v274.6v-180.9h21v180.9v-95.9h21v95.9v-30.3h21v30.3z"/>
<path d="M344.5,1720v-4.6h21.2v4.6v-12.4h21.1v12.4v-18.9h21.1v18.9v-31.2h21.1v31.2v-72.3h21.2v72.3v-101.6h21.1v101.6v-136.2h21.1v136.2v-184.8h21.1v184.8v-202.5h21.2v202.5v-299.4h21.1v299.4v-356.1h21.1v356.1v-436.5h21.1v436.5v-482.4h21.2v482.4v-517.5h21.1v517.5v-545.8h21.1v545.8v-480.2h21.1v480.2v-479.8h21.1v479.8v-557.5h21.2v557.5v-528.3h21.1v528.3v-483.3h21.1v483.3v-513.8h21.1v513.8v-432.3h21.2v432.3v-460.3h21.1v460.3v-450.1h21.1v450.1v-379.4h21.1v379.4v-334.8h21.2v334.8v-265.3h21.1v265.3v-199.1h21.1v199.1v-98.5h21.1v98.5v-32.5h21.1v32.5z"/>
<path d="M352.1,1720v-9.8h20.6v9.8v-13.4h20.6v13.4v-18.8h20.6v18.8v-39.9h20.5v39.9v-90.2h20.6v90.2v-109.3h20.6v109.3v-152.6h20.6v152.6v-189.4h20.5v189.4v-239.6h20.6v239.6v-274.2h20.6v274.2v-367.3h20.6v367.3v-420.4h20.5v420.4v-494h20.6v494v-511.8h20.6v511.8v-537.4h20.6v537.4v-550.9h20.6v550.9v-486.1h20.5v486.1v-548.7h20.6v548.7v-527.4h20.6v527.4v-519.4h20.6v519.4v-487.7h20.5v487.7v-411.2h20.6v411.2v-441.9h20.6v441.9v-421.1h20.6v421.1v-361.9h20.5v361.9v-378.3h20.6v378.3v-244.6h20.6v244.6v-156.4h20.6v156.4v-89.8h20.5v89.8v-27.5h20.6v27.5z"/>
<path d="M346.8,1720v-7.2h20.9v7.2v-11.8h20.9v11.8v-17.1h20.9v17.1v-34.1h20.9v34.1v-80.4h20.9v80.4v-99h20.9v99v-140.9h20.9v140.9v-197.9h20.9v197.9v-214.6h20.9v214.6v-294.3h20.9v294.3v-340.1h20.9v340.1v-404h20.9v404v-499.8h20.9v499.8v-486.2h20.9v486.2v-504h20.9v504v-517.3h20.9v517.3v-554.1h20.9v554.1v-499.7h20.9v499.7v-588.7h20.9v588.7v-541.1h20.9v541.1v-441.9h20.9v441.9v-510.3h20.9v510.3v-457.4h20.9v457.4v-447.7h20.9v447.7v-354.4h21v354.4v-372.5h20.9v372.5v-290.1h20.9v290.1v-174h20.9v174v-87.4h20.9v87.4v-26.3h20.9v26.3z"/>
<path d="M350.4,1720v-7.1h20.8v7.1v-14.1h20.7v14.1v-22.9h20.8v22.9v-36h20.8v36v-85.3h20.7v85.3v-106.1h20.8v106.1v-172.4h20.7v172.4v-189.5h20.8v189.5v-241.3h20.8v241.3v-272.2h20.7v272.2v-349.2h20.8v349.2v-409.1h20.8v409.1v-543.2h20.7v543.2v-486.4h20.8v486.4v-516.9h20.7v516.9v-453.9h20.8v453.9v-493.4h20.8v493.4v-537.8h20.7v537.8v-561.9h20.8v561.9v-552.9h20.8v552.9v-452.3h20.7v452.3v-502.6h20.8v502.6v-409.1h20.7v409.1v-415.1h20.8v415.1v-410.9h20.8v410.9v-338.7h20.7v338.7v-281.3h20.8v281.3v-161h20.8v161v-84.6h20.7v84.6v-34.9h20.8v34.9z"/>
<path d="M344,1720v-7.4h21.1v7.4v-10.7h21v10.7v-19.4h21v19.4v-32.3h21v32.3v-72.2h21v72.2v-110.6h21.1v110.6v-138.8h21v138.8v-172.4h21v172.4v-213.1h21v213.1v-272.4h21.1v272.4v-348.2h21v348.2v-417.4h21v417.4v-493.6h21v493.6v-485.5h21v485.5v-532.1h21.1v532.1v-519.8h21v519.8v-503.9h21v503.9v-489h21v489v-569.3h21.1v569.3v-558.4h21v558.4v-507.8h21v507.8v-441.4h21v441.4v-456.4h21v456.4v-427.5h21.1v427.5v-411.1h21v411.1v-352.3h21v352.3v-262h21v262v-181.2h21.1v181.2v-88.4h21v88.4v-29h21v29z"/>
<path d="M343.4,1720v-7.5h21.1v7.5v-9.6h21.2v9.6v-19.9h21.2v19.9v-36.1h21.2v36.1v-67.5h21.2v67.5v-108.9h21.2v108.9v-137.1h21.1v137.1v-162.2h21.2v162.2v-247.4h21.2v247.4v-275.6h21.2v275.6v-365.1h21.2v365.1v-400.6h21.1v400.6v-469.1h21.2v469.1v-535h21.2v535v-513h21.2v513v-490.4h21.2v490.4v-484.7h21.1v484.7v-540.5h21.2v540.5v-535.8h21.2v535.8v-536.6h21.2v536.6v-483.5h21.2v483.5v-473.3h21.1v473.3v-441.5h21.2v441.5v-380h21.2v380v-418.8h21.2v418.8v-328.2h21.2v328.2v-272h21.2v272v-174.8h21.1v174.8v-78.7h21.2v78.7v-29.6h21.2v29.6z"/>
<path d="M347.5,1720v-7.3h21v7.3v-11.8h21v11.8v-19.7h21v19.7v-41.4h20.9v41.4v-72.8h21v72.8v-105.4h21v105.4v-151.1h21v151.1v-189.7h21v189.7v-243.5h20.9v243.5v-262.7h21v262.7v-366.3h21v366.3v-395.2h21v395.2v-516h21v516v-466.9h20.9v466.9v-524.9h21v524.9v-533.5h21v533.5v-531.1h21v531.1v-532.7h21v532.7v-549.2h20.9v549.2v-561.9h21v561.9v-498.9h21v498.9v-439.3h21v439.3v-451.2h21v451.2v-411.4h20.9v411.4v-433.6h21v433.6v-304.1h21v304.1v-271.3h21v271.3v-164.5h21v164.5v-80h20.9v80v-23.7h21v23.7z"/>
<path d="M346.2,1720v-7.9h20.8v7.9v-9.1h20.7v9.1v-18.3h20.8v18.3v-32.6h20.8v32.6v-70.4h20.8v70.4v-116.9h20.8v116.9v-138.8h20.8v138.8v-185.2h20.8v185.2v-231h20.8v231v-292.8h20.8v292.8v-376.9h20.8v376.9v-409.2h20.8v409.2v-486.1h20.8v486.1v-530.1h20.8v530.1v-462.6h20.8v462.6v-515.4h20.8v515.4v-526.6h20.7v526.6v-451.5h20.8v451.5v-516.2h20.8v516.2v-559h20.8v559v-487.9h20.8v487.9v-481.5h20.8v481.5v-471.1h20.8v471.1v-419.8h20.8v419.8v-383.4h20.8v383.4v-339.5h20.8v339.5v-291.7h20.8v291.7v-178h20.8v178v-83.6h20.8v83.6v-25.2h20.8v25.2z"/>
<path d="M346.7,1720v-7.2h20.8v7.2v-11.4h20.8v11.4v-19.7h20.8v19.7v-32.6h20.8v32.6v-78.6h20.8v78.6v-99.7h20.9v99.7v-147h20.8v147v-190.6h20.8v190.6v-190.8h20.8v190.8v-268.2h20.8v268.2v-346.8h20.8v346.8v-419h20.8v419v-456.9h20.9v456.9v-574.5h20.8v574.5v-512.8h20.8v512.8v-465.6h20.8v465.6v-549.4h20.8v549.4v-534.1h20.8v534.1v-543.1h20.9v543.1v-536.5h20.8v536.5v-481.2h20.8v481.2v-495.2h20.8v495.2v-416.8h20.8v416.8v-415.5h20.8v415.5v-383.7h20.9v383.7v-368.7h20.8v368.7v-283.3h20.8v283.3v-186.9h20.8v186.9v-81.3h20.8v81.3v-29.3h20.8v29.3z"/>
<path d="M347.1,1720v-8.9h21v8.9v-12.6h20.9v12.6v-19.5h21v19.5v-37.1h20.9v37.1v-76.3h20.9v76.3v-111.4h21v111.4v-146h20.9v146v-178.7h21v178.7v-216.7h20.9v216.7v-304.9h21v304.9v-339.8h20.9v339.8v-431.9h20.9v431.9v-542.6h21v542.6v-496.2h20.9v496.2v-581.6h21v581.6v-488.1h20.9v488.1v-541.1h20.9v541.1v-550.1h21v550.1v-525.9h20.9v525.9v-551.6h21v551.6v-443.7h20.9v443.7v-460.2h21v460.2v-462.5h20.9v462.5v-404.6h20.9v404.6v-389.4h21v389.4v-322.2h20.9v322.2v-267.1h21v267.1v-166.6h20.9v166.6v-79.4h21v79.4v-27.5h20.9v27.5z"/>
<path d="M347.3,1720v-6.9h21.1v6.9v-12.9h21v12.9v-20.2h21.1v20.2v-34.6h21v34.6v-75.4h21.1v75.4v-107.4h21.1v107.4v-153.5h21v153.5v-187.4h21.1v187.4v-240.8h21v240.8v-269h21.1v269v-369.1h21.1v369.1v-365.3h21v365.3v-528.7h21.1v528.7v-532h21v532v-519.3h21.1v519.3v-468.3h21.1v468.3v-499.5h21v499.5v-585.1h21.1v585.1v-541.1h21v541.1v-535.5h21.1v535.5v-460.2h21.1v460.2v-430h21v430v-451.6h21.1v451.6v-449.2h21v449.2v-402.2h21.1v402.2v-339.5h21.1v339.5v-283.2h21v283.2v-165.1h21.1v165.1v-80.1h21v80.1v-23.7h21.1v23.7z"/>
<path d="M348.1,1720v-6.5h21.1v6.5v-12.7h21.1v12.7v-17.4h21.1v17.4v-39.7h21.2v39.7v-83.9h21.1v83.9v-119.8h21.1v119.8v-144.8h21.1v144.8v-199h21.1v199v-226.9h21.1v226.9v-301.7h21.1v301.7v-321.8h21.1v321.8v-389.5h21.1v389.5v-518.8h21.1v518.8v-512.4h21.1v512.4v-476h21.2v476v-585h21.1v585v-453.2h21.1v453.2v-527.5h21.1v527.5v-570.9h21.1v570.9v-530.8h21.1v530.8v-520.3h21.1v520.3v-487.2h21.1v487.2v-419.1h21.1v419.1v-433.2h21.1v433.2v-387.7h21.2v387.7v-309.5h21.1v309.5v-263.7h21.1v263.7v-162.8h21.1v162.8v-81.9h21.1v81.9v-23.6h21.1v23.6z"/>
<path d="M353.5,1720v-9.1h20.5v9.1v-13h20.5v13v-22.6h20.5v22.6v-43.9h20.5v43.9v-81.4h20.5v81.4v-109.2h20.5v109.2v-156.4h20.5v156.4v-199h20.5v199v-249h20.5v249v-279.8h20.5v279.8v-390.7h20.5v390.7v-426.8h20.5v426.8v-531.8h20.5v531.8v-495.3h20.5v495.3v-525.2h20.5v525.2v-537.4h20.5v537.4v-469.4h20.5v469.4v-505.5h20.5v505.5v-505.2h20.5v505.2v-484.5h20.5v484.5v-513.2h20.5v513.2v-426.7h20.5v426.7v-463h20.5v463v-406.8h20.5v406.8v-380.5h20.5v380.5v-317.9h20.5v317.9v-271.7h20.5v271.7v-153.4h20.5v153.4v-76.6h20.5v76.6v-28.1h20.5v28.1z"/>
<path d="M352.9,1720v-6.9h20.9v6.9v-11.1h20.9v11.1v-27.2h21v27.2v-47.6h20.9v47.6v-78.5h21v78.5v-111.7h20.9v111.7v-157.7h20.9v157.7v-175.9h21v175.9v-253.8h20.9v253.8v-265.8h20.9v265.8v-359.1h21v359.1v-455.2h20.9v455.2v-450.8h21v450.8v-509.1h20.9v509.1v-524.1h20.9v524.1v-431.7h21v431.7v-500.2h20.9v500.2v-569.4h20.9v569.4v-576.4h21v576.4v-513.2h20.9v513.2v-475h21v475v-492.7h20.9v492.7v-426.3h20.9v426.3v-426.2h21v426.2v-384.6h20.9v384.6v-337.6h21v337.6v-255.3h20.9v255.3v-154.3h20.9v154.3v-72.7h21v72.7v-22.5h20.9v22.5z"/>
<path d="M350.4,1720v-7.4h20.4v7.4v-14.2h20.4v14.2v-18.1h20.4v18.1v-40.7h20.5v40.7v-77.1h20.4v77.1v-109.5h20.4v109.5v-147.9h20.5v147.9v-183.9h20.4v183.9v-209h20.4v209v-279.7h20.5v279.7v-345.7h20.4v345.7v-410.5h20.4v410.5v-457.3h20.5v457.3v-503.6h20.4v503.6v-488.3h20.4v488.3v-540.2h20.5v540.2v-463.3h20.4v463.3v-489.2h20.4v489.2v-586.5h20.5v586.5v-515.7h20.4v515.7v-511.7h20.4v511.7v-475.1h20.5v475.1v-458.8h20.4v458.8v-408.8h20.4v408.8v-431.7h20.5v431.7v-330.1h20.4v330.1v-275h20.4v275v-186.2h20.5v186.2v-97.1h20.4v97.1v-41.9h20.4v41.9z"/>
<path d="M345.3,1720v-4.8h20.9v4.8v-12.9h21v12.9v-18.3h20.9v18.3v-33.1h21v33.1v-78.3h20.9v78.3v-95.1h21v95.1v-139.3h21v139.3v-199h20.9v199v-226.1h21v226.1v-258.7h20.9v258.7v-346.8h21v346.8v-405.2h20.9v405.2v-444.2h21v444.2v-517.1h20.9v517.1v-529.8h21v529.8v-441.6h20.9v441.6v-512.3h21v512.3v-526.2h21v526.2v-564h20.9v564v-476.9h21v476.9v-478.8h20.9v478.8v-466.4h21v466.4v-482.3h20.9v482.3v-387h21v387v-382.3h20.9v382.3v-358.2h21v358.2v-291h20.9v291v-187.6h21v187.6v-87.8h21v87.8v-29.5h20.9v29.5z"/>
<path d="M343.7,1720v-6.8h21v6.8v-9.2h20.9v9.2v-18.8h20.9v18.8v-30.6h21v30.6v-72.8h20.9v72.8v-92.8h20.9v92.8v-139.5h21v139.5v-188.9h20.9v188.9v-226.4h21v226.4v-316.4h20.9v316.4v-326.4h20.9v326.4v-408.5h21v408.5v-483.4h20.9v483.4v-553.3h21v553.3v-500.9h20.9v500.9v-538.3h20.9v538.3v-485.2h21v485.2v-551.4h20.9v551.4v-584.6h21v584.6v-572.2h20.9v572.2v-480.2h20.9v480.2v-450.3h21v450.3v-404.5h20.9v404.5v-423h21v423v-380.4h20.9v380.4v-340.5h20.9v340.5v-276.2h21v276.2v-177.8h20.9v177.8v-78.7h20.9v78.7v-27.2h21v27.2z"/>
<path d="M343.4,1720v-6.7h20.9v6.7v-12.6h20.9v12.6v-18.8h20.9v18.8v-33.2h20.8v33.2v-63.9h20.9v63.9v-97.3h20.9v97.3v-135.2h20.9v135.2v-175.2h20.8v175.2v-234.1h20.9v234.1v-272.7h20.9v272.7v-346.1h20.9v346.1v-382.8h20.9v382.8v-462.1h20.8v462.1v-517h20.9v517v-485.8h20.9v485.8v-513h20.9v513v-469.9h20.8v469.9v-561.1h20.9v561.1v-592.8h20.9v592.8v-577.1h20.9v577.1v-494.6h20.9v494.6v-458.6h20.8v458.6v-489.9h20.9v489.9v-402.3h20.9v402.3v-431.9h20.9v431.9v-356.8h20.8v356.8v-287.7h20.9v287.7v-184.6h20.9v184.6v-101.1h20.9v101.1v-33.8h20.9v33.8z"/>
<path d="M350.8,1720v-9.3h20.7v9.3v-11.7h20.7v11.7v-20.1h20.7v20.1v-42.8h20.7v42.8v-79.2h20.7v79.2v-116h20.7v116v-139.3h20.7v139.3v-184.4h20.7v184.4v-221.1h20.7v221.1v-281.1h20.7v281.1v-324.2h20.7v324.2v-446.3h20.7v446.3v-460h20.7v460v-532.3h20.7v532.3v-425.3h20.7v425.3v-517.6h20.7v517.6v-559.8h20.7v559.8v-543.5h20.7v543.5v-525.8h20.7v525.8v-495h20.7v495v-500.7h20.7v500.7v-409.3h20.7v409.3v-484.9h20.7v484.9v-394.4h20.7v394.4v-359.4h20.7v359.4v-331.5h20.7v331.5v-266.6h20.7v266.6v-170.3h20.7v170.3v-96.4h20.7v96.4v-30h20.7v30z"/>
<path d="M344.7,1720v-7.3h20.7v7.3v-11.4h20.7v11.4v-19.1h20.7v19.1v-32.1h20.6v32.1v-80.6h20.7v80.6v-97.8h20.7v97.8v-154.6h20.7v154.6v-170.2h20.7v170.2v-236h20.6v236v-283.8h20.7v283.8v-330h20.7v330v-440h20.7v440v-463.1h20.7v463.1v-476.5h20.6v476.5v-517.9h20.7v517.9v-478.8h20.7v478.8v-533.4h20.7v533.4v-537.9h20.7v537.9v-603.3h20.6v603.3v-539h20.7v539v-516.1h20.7v516.1v-483.8h20.7v483.8v-422.5h20.7v422.5v-461.6h20.6v461.6v-382.7h20.7v382.7v-376.7h20.7v376.7v-264.3h20.7v264.3v-159.8h20.6v159.8v-96.6h20.7v96.6v-31.8h20.7v31.8z"/>
<path d="M355.2,1720v-9.7h20.7v9.7v-18.6h20.7v18.6v-23.1h20.7v23.1v-41h20.7v41v-77.6h20.7v77.6v-119.4h20.7v119.4v-155.1h20.7v155.1v-192.8h20.7v192.8v-245h20.7v245v-285h20.7v285v-351.1h20.7v351.1v-444.8h20.7v444.8v-509h20.7v509v-505.2h20.7v505.2v-483.6h20.7v483.6v-520.8h20.7v520.8v-499.8h20.7v499.8v-573.8h20.7v573.8v-463.8h20.7v463.8v-533h20.7v533v-415.3h20.7v415.3v-485.4h20.7v485.4v-388h20.7v388v-461.7h20.7v461.7v-408.8h20.6v408.8v-311.7h20.7v311.7v-271.4h20.7v271.4v-162.1h20.7v162.1v-85.8h20.7v85.8v-28.7h20.7v28.7z"/>
<path d="M344.1,1720v-6.8h20.7v6.8v-11.4h20.8v11.4v-20.6h20.7v20.6v-31h20.7v31v-72.3h20.7v72.3v-101.5h20.8v101.5v-154.6h20.7v154.6v-190.5h20.7v190.5v-193.4h20.8v193.4v-276.2h20.7v276.2v-336.4h20.7v336.4v-383.4h20.7v383.4v-493h20.8v493v-532.1h20.7v532.1v-454.7h20.7v454.7v-533.2h20.8v533.2v-516.7h20.7v516.7v-507h20.7v507v-589.1h20.7v589.1v-533.1h20.8v533.1v-496.7h20.7v496.7v-453.2h20.7v453.2v-401.5h20.8v401.5v-447.9h20.7v447.9v-354.8h20.7v354.8v-396.9h20.8v396.9v-293.1h20.7v293.1v-202.3h20.7v202.3v-99.5h20.7v99.5v-35.9h20.8v35.9z"/>
<path d="M350,1720v-6.8h20.7v6.8v-13.9h20.6v13.9v-20.3h20.7v20.3v-38.9h20.7v38.9v-78.3h20.7v78.3v-112.2h20.7v112.2v-143h20.7v143v-174.6h20.6v174.6v-234.8h20.7v234.8v-274.5h20.7v274.5v-378.3h20.7v378.3v-349h20.7v349v-529.1h20.6v529.1v-452h20.7v452v-489h20.7v489v-520.6h20.7v520.6v-486.8h20.7v486.8v-515.4h20.6v515.4v-546.9h20.7v546.9v-556.3h20.7v556.3v-495.1h20.7v495.1v-434.2h20.7v434.2v-397.4h20.6v397.4v-395.6h20.7v395.6v-433.5h20.7v433.5v-345.1h20.7v345.1v-248h20.7v248v-186.3h20.6v186.3v-82.4h20.7v82.4v-36.5h20.7v36.5z"/>
<path d="M353.6,1720v-6.8h21v6.8v-14.3h21v14.3v-24.2h21v24.2v-43.9h21v43.9v-84.7h20.9v84.7v-108.2h21v108.2v-158.4h21v158.4v-191.1h21v191.1v-234.7h21v234.7v-307.9h21v307.9v-341h20.9v341v-431.3h21v431.3v-470.9h21v470.9v-529.9h21v529.9v-442.7h21v442.7v-500.9h21v500.9v-481.7h21v481.7v-507.8h20.9v507.8v-508.3h21v508.3v-482.9h21v482.9v-471.7h21v471.7v-476.6h21v476.6v-377.9h21v377.9v-443.1h20.9v443.1v-367h21v367v-336.1h21v336.1v-245.3h21v245.3v-174.1h21v174.1v-80.8h21v80.8v-23.4h21v23.4z"/>
<path d="M352.3,1720v-10.7h21.1v10.7v-12.6h21.1v12.6v-21.5h21.1v21.5v-43h21.1v43v-79h21.1v79v-118.3h21.2v118.3v-146.5h21.1v146.5v-165.3h21.1v165.3v-251h21.1v251v-303.5h21.1v303.5v-365.1h21.1v365.1v-397.7h21.1v397.7v-502.7h21.1v502.7v-509.2h21.1v509.2v-529.4h21.1v529.4v-479.5h21.1v479.5v-548.7h21.1v548.7v-473.9h21.2v473.9v-532.1h21.1v532.1v-589.3h21.1v589.3v-415.9h21.1v415.9v-447h21.1v447v-397.1h21.1v397.1v-421.3h21.1v421.3v-386.7h21.1v386.7v-340.2h21.1v340.2v-261.9h21.1v261.9v-170h21.1v170v-86.3h21.2v86.3v-26.6h21.1v26.6z"/>
<path d="M348.1,1720v-6.3h21.1v6.3v-11.9h21.1v11.9v-20.5h21.1v20.5v-35.6h21.1v35.6v-74.5h21.1v74.5v-106.9h21.1v106.9v-130.3h21.1v130.3v-192.1h21.1v192.1v-222.2h21.1v222.2v-278.3h21.1v278.3v-347h21.1v347v-423.4h21.1v423.4v-521.8h21.1v521.8v-491.1h21.1v491.1v-476.9h21.1v476.9v-488.6h21.1v488.6v-539.4h21.2v539.4v-518.4h21.1v518.4v-532.6h21.1v532.6v-549.9h21.1v549.9v-497.9h21.1v497.9v-472.7h21.1v472.7v-452.9h21.1v452.9v-426h21.1v426v-410h21.1v410v-327.6h21.1v327.6v-308.7h21.1v308.7v-173.4h21.1v173.4v-89.4h21.1v89.4v-31.9h21.1v31.9z"/>
<path d="M346.1,1720v-9.5h21.3v9.5v-12.7h21.2v12.7v-18.4h21.3v18.4v-40.7h21.3v40.7v-69.2h21.2v69.2v-106.5h21.3v106.5v-148.4h21.3v148.4v-209.9h21.2v209.9v-219.6h21.3v219.6v-275.8h21.3v275.8v-361.2h21.2v361.2v-419.8h21.3v419.8v-530.6h21.3v530.6v-485.5h21.3v485.5v-552h21.2v552v-457.2h21.3v457.2v-489.8h21.3v489.8v-552.5h21.2v552.5v-562.3h21.3v562.3v-530.4h21.3v530.4v-492.1h21.2v492.1v-421.5h21.3v421.5v-435.6h21.3v435.6v-371.2h21.2v371.2v-359.7h21.3v359.7v-336.5h21.3v336.5v-255.3h21.3v255.3v-176.5h21.2v176.5v-77h21.3v77v-17.6h21.3v17.6z"/>
<path d="M350,1720v-8.5h20.6v8.5v-11.9h20.7v11.9v-22.1h20.6v22.1v-41.2h20.6v41.2v-81.1h20.6v81.1v-106.3h20.7v106.3v-149.4h20.6v149.4v-185.4h20.6v185.4v-233.8h20.6v233.8v-296.8h20.7v296.8v-334.7h20.6v334.7v-444.6h20.6v444.6v-462.5h20.6v462.5v-498h20.7v498v-505.3h20.6v505.3v-516.9h20.6v516.9v-475.4h20.6v475.4v-448.3h20.6v448.3v-590.9h20.7v590.9v-570.9h20.6v570.9v-476.3h20.6v476.3v-446.7h20.6v446.7v-398h20.7v398v-374.3h20.6v374.3v-392.2h20.6v392.2v-348.7h20.6v348.7v-250.2h20.7v250.2v-176.4h20.6v176.4v-89.9h20.6v89.9v-33.2h20.6v33.2z"/>
<path d="M345.4,1720v-7.1h21.1v7.1v-12.1h21.1v12.1v-17.7h21.1v17.7v-36h21.1v36v-65.8h21.1v65.8v-99.3h21.1v99.3v-155.4h21.1v155.4v-173.4h21.1v173.4v-218.1h21.1v218.1v-278.4h21v278.4v-321.2h21.1v321.2v-423h21.1v423v-520.5h21.1v520.5v-493.7h21.1v493.7v-545.8h21.1v545.8v-487.3h21.1v487.3v-502.5h21.1v502.5v-540.1h21.1v540.1v-517.7h21.1v517.7v-548.6h21.1v548.6v-445.7h21.1v445.7v-478.4h21v478.4v-424.3h21.1v424.3v-425.2h21.1v425.2v-360.5h21.1v360.5v-343h21.1v343v-285.6h21.1v285.6v-179.5h21.1v179.5v-90.3h21.1v90.3v-25.2h21.1v25.2z"/>
<path d="M347.1,1720v-6.6h20.9v6.6v-11.8h21v11.8v-18h20.9v18v-38.6h21v38.6v-69.9h21v69.9v-112.2h20.9v112.2v-154.4h21v154.4v-183.8h20.9v183.8v-249h21v249v-266.5h20.9v266.5v-336.4h21v336.4v-418.3h20.9v418.3v-495.1h21v495.1v-486.8h20.9v486.8v-540.3h21v540.3v-524.2h20.9v524.2v-505.1h21v505.1v-507.7h21v507.7v-519.4h20.9v519.4v-533.1h21v533.1v-468.8h20.9v468.8v-427.7h21v427.7v-471.8h20.9v471.8v-396h21v396v-387.9h20.9v387.9v-327.8h21v327.8v-276.1h20.9v276.1v-182.3h21v182.3v-96.8h20.9v96.8v-29.9h21v29.9z"/>
<path d="M345.5,1720v-4.9h20.8v4.9v-11.2h20.8v11.2v-20.9h20.8v20.9v-36.1h20.8v36.1v-71.2h20.8v71.2v-110h20.8v110v-124.4h20.8v124.4v-200.8h20.8v200.8v-236.6h20.8v236.6v-251.7h20.8v251.7v-350h20.8v350v-401.7h20.8v401.7v-445.4h20.8v445.4v-498.7h20.8v498.7v-515h20.8v515v-490.1h20.8v490.1v-582h20.8v582v-533.5h20.8v533.5v-552.7h20.8v552.7v-552.5h20.8v552.5v-479h20.8v479v-467.5h20.8v467.5v-423.7h20.8v423.7v-435h20.8v435v-363.6h20.8v363.6v-331.2h20.8v331.2v-285.7h20.8v285.7v-167.8h20.8v167.8v-81.3h20.8v81.3v-28.6h20.8v28.6z"/>
<path d="M355.2,1720v-10.7h20.3v10.7v-12.8h20.3v12.8v-26.7h20.4v26.7v-42.2h20.3v42.2v-91.1h20.3v91.1v-123h20.4v123v-147.4h20.3v147.4v-206.4h20.3v206.4v-267.3h20.3v267.3v-301.8h20.4v301.8v-375h20.3v375v-405.1h20.3v405.1v-564.5h20.4v564.5v-513.9h20.3v513.9v-483.7h20.3v483.7v-459.8h20.3v459.8v-535.3h20.4v535.3v-527.5h20.3v527.5v-529.9h20.3v529.9v-529h20.4v529v-442.7h20.3v442.7v-437h20.3v437v-435.1h20.3v435.1v-420.6h20.4v420.6v-379.9h20.3v379.9v-321.4h20.3v321.4v-284.4h20.4v284.4v-176.2h20.3v176.2v-86h20.3v86v-34.1h20.3v34.1z"/>
<path d="M353.4,1720v-9.2h20.8v9.2v-14.9h20.7v14.9v-24.3h20.8v24.3v-49.6h20.8v49.6v-74.1h20.7v74.1v-105.1h20.8v105.1v-160.3h20.8v160.3v-190.6h20.8v190.6v-214.9h20.7v214.9v-281h20.8v281v-350.9h20.8v350.9v-438.4h20.7v438.4v-470.4h20.8v470.4v-473.9h20.8v473.9v-476.9h20.7v476.9v-500.5h20.8v500.5v-485.4h20.8v485.4v-577h20.7v577v-537.5h20.8v537.5v-477.8h20.8v477.8v-485.6h20.8v485.6v-426.7h20.7v426.7v-476.6h20.8v476.6v-409h20.8v409v-408.2h20.7v408.2v-364.1h20.8v364.1v-266h20.8v266v-175.9h20.7v175.9v-84.4h20.8v84.4v-28.3h20.8v28.3z"/>
<path d="M349.3,1720v-6.7h20.7v6.7v-13.8h20.7v13.8v-19.6h20.7v19.6v-40.6h20.7v40.6v-73.9h20.7v73.9v-106.1h20.7v106.1v-148.5h20.6v148.5v-186.5h20.7v186.5v-204.5h20.7v204.5v-249.1h20.7v249.1v-347.4h20.7v347.4v-383.4h20.7v383.4v-498.5h20.7v498.5v-485.2h20.6v485.2v-524.9h20.7v524.9v-498.3h20.7v498.3v-498.4h20.7v498.4v-544.1h20.7v544.1v-505.5h20.7v505.5v-531.6h20.7v531.6v-424.1h20.7v424.1v-430.9h20.6v430.9v-463.8h20.7v463.8v-393.6h20.7v393.6v-400.3h20.7v400.3v-302.6h20.7v302.6v-311.7h20.7v311.7v-204.3h20.7v204.3v-102.5h20.6v102.5v-33.2h20.7v33.2z"/>
<path d="M356.8,1720v-9.1h20.4v9.1v-14.1h20.4v14.1v-24.5h20.4v24.5v-49.1h20.4v49.1v-90.3h20.4v90.3v-107.7h20.4v107.7v-145.5h20.4v145.5v-211h20.4v211v-243.1h20.4v243.1v-285.1h20.5v285.1v-352.2h20.4v352.2v-430.4h20.4v430.4v-500.2h20.4v500.2v-478h20.4v478v-513.4h20.4v513.4v-492.8h20.4v492.8v-579.4h20.4v579.4v-479.9h20.4v479.9v-575h20.4v575v-529.9h20.5v529.9v-444.5h20.4v444.5v-463.4h20.4v463.4v-422.4h20.4v422.4v-395.5h20.4v395.5v-360.6h20.4v360.6v-320h20.4v320v-298.6h20.4v298.6v-169.4h20.4v169.4v-84h20.4v84v-30.5h20.4v30.5z"/>
<path d="M343.9,1720v-7h20.8v7v-12.1h20.8v12.1v-16.9h20.8v16.9v-32.9h20.8v32.9v-68.4h20.9v68.4v-104.4h20.8v104.4v-134.7h20.8v134.7v-172.7h20.8v172.7v-233.9h20.8v233.9v-290.4h20.8v290.4v-328.6h20.8v328.6v-392.9h20.9v392.9v-461.4h20.8v461.4v-510.2h20.8v510.2v-552.8h20.8v552.8v-476.3h20.8v476.3v-510.8h20.8v510.8v-536.7h20.8v536.7v-540.9h20.8v540.9v-565.9h20.9v565.9v-490.4h20.8v490.4v-435.3h20.8v435.3v-403.5h20.8v403.5v-458.8h20.8v458.8v-396.8h20.8v396.8v-351.6h20.8v351.6v-292.6h20.8v292.6v-180.6h20.9v180.6v-87.1h20.8v87.1v-30.6h20.8v30.6z"/>
<path d="M343.3,1720v-7.5h21v7.5v-10.2h21.1v10.2v-16.8h21v16.8v-31.9h21v31.9v-70.3h21v70.3v-98.5h21v98.5v-129.6h21v129.6v-181.3h21v181.3v-221.1h21.1v221.1v-298.6h21v298.6v-307.4h21v307.4v-408.1h21v408.1v-488.1h21v488.1v-529.5h21v529.5v-538.1h21v538.1v-454.8h21v454.8v-509.7h21.1v509.7v-461h21v461v-577h21v577v-523.1h21v523.1v-436.3h21v436.3v-464.7h21v464.7v-429.7h21v429.7v-418.9h21.1v418.9v-408.9h21v408.9v-370h21v370v-314h21v314v-199.7h21v199.7v-106.2h21v106.2v-42.5h21v42.5z"/>
<path d="M350.8,1720v-9.4h20.8v9.4v-11.7h20.9v11.7v-22.8h20.8v22.8v-34.5h20.9v34.5v-86.3h20.8v86.3v-103.5h20.9v103.5v-158.9h20.8v158.9v-182.9h20.9v182.9v-198.5h20.8v198.5v-288.8h20.8v288.8v-333h20.9v333v-377.9h20.8v377.9v-430.9h20.9v430.9v-565.2h20.8v565.2v-475.5h20.9v475.5v-487.1h20.8v487.1v-466.2h20.9v466.2v-519.6h20.8v519.6v-540.6h20.9v540.6v-510.4h20.8v510.4v-469.7h20.9v469.7v-473.7h20.8v473.7v-383.3h20.8v383.3v-371.7h20.9v371.7v-388.7h20.8v388.7v-374.7h20.9v374.7v-282.5h20.8v282.5v-187.9h20.9v187.9v-105.4h20.8v105.4v-39.6h20.9v39.6z"/>
<path d="M348.1,1720v-6.8h20.9v6.8v-10.8h21v10.8v-22.4h20.9v22.4v-34.1h20.9v34.1v-84.4h21v84.4v-106.1h20.9v106.1v-145.4h21v145.4v-204.9h20.9v204.9v-228h21v228v-288.7h20.9v288.7v-382.9h20.9v382.9v-401.9h21v401.9v-508.3h20.9v508.3v-553h21v553v-491.2h20.9v491.2v-486.9h21v486.9v-520.6h20.9v520.6v-514.9h21v514.9v-529.1h20.9v529.1v-483.4h20.9v483.4v-535.5h21v535.5v-473.2h20.9v473.2v-459h21v459v-369.9h20.9v369.9v-450.6h21v450.6v-328.3h20.9v328.3v-265.4h21v265.4v-162.3h20.9v162.3v-89.5h20.9v89.5v-27.1h21v27.1z"/>
<path d="M343.5,1720v-9.5h21.3v9.5v-10.3h21.4v10.3v-16.4h21.4v16.4v-31.3h21.3v31.3v-73.8h21.4v73.8v-96.2h21.3v96.2v-147.6h21.4v147.6v-181.3h21.4v181.3v-213.6h21.3v213.6v-282h21.4v282v-307.4h21.3v307.4v-402.5h21.4v402.5v-499h21.4v499v-539.2h21.3v539.2v-515h21.4v515v-574.5h21.3v574.5v-561h21.4v561v-537.2h21.4v537.2v-572h21.3v572v-524.6h21.4v524.6v-501.5h21.3v501.5v-442.8h21.4v442.8v-420.1h21.4v420.1v-455.9h21.3v455.9v-392.2h21.4v392.2v-320.8h21.3v320.8v-264.2h21.4v264.2v-181.8h21.3v181.8v-89h21.4v89v-28.1h21.4v28.1z"/>
<path d="M343.5,1720v-7.3h21.2v7.3v-12.4h21.3v12.4v-16.8h21.2v16.8v-32.5h21.3v32.5v-71.9h21.2v71.9v-105.8h21.3v105.8v-157.3h21.2v157.3v-195.6h21.3v195.6v-188.3h21.2v188.3v-266.2h21.3v266.2v-331.4h21.2v331.4v-448.9h21.3v448.9v-467.1h21.2v467.1v-547.1h21.3v547.1v-464.7h21.2v464.7v-517.2h21.3v517.2v-546.7h21.2v546.7v-557h21.3v557v-551.2h21.2v551.2v-466.2h21.3v466.2v-484.2h21.2v484.2v-442.5h21.3v442.5v-393.1h21.2v393.1v-469.9h21.3v469.9v-366.7h21.2v366.7v-308.6h21.3v308.6v-268.8h21.2v268.8v-173h21.3v173v-78.4h21.2v78.4v-24.1h21.3v24.1z"/>
<path d="M343.1,1720v-7h21.4v7v-10.3h21.4v10.3v-18.6h21.4v18.6v-32.7h21.3v32.7v-64h21.4v64v-95.9h21.4v95.9v-129.5h21.3v129.5v-173.2h21.4v173.2v-223.5h21.4v223.5v-258.7h21.4v258.7v-377.9h21.3v377.9v-416.8h21.4v416.8v-504.3h21.4v504.3v-452.9h21.3v452.9v-448.9h21.4v448.9v-491.8h21.4v491.8v-531.9h21.4v531.9v-563.3h21.3v563.3v-524.7h21.4v524.7v-541.5h21.4v541.5v-517.1h21.3v517.1v-442h21.4v442v-457.7h21.4v457.7v-413.8h21.4v413.8v-411h21.3v411v-329.3h21.4v329.3v-272.3h21.4v272.3v-162.4h21.3v162.4v-77.2h21.4v77.2v-25.8h21.4v25.8z"/>
</g>
<g clip-path="url(#cb)" fill="#800080" fill-opacity=".3" stroke="#000" stroke-opacity=".3" stroke-width="2.6">
<path d="M722,1720v-684.3h21.7v684.3z"/>
<path d="M716,1720v-653.2h22v653.2z"/>
<path d="M723.4,1720v-634.7h24v634.7z"/>
<path d="M708.5,1720v-624.4h12.5v624.4z"/>
<path d="M600.8,1720v-591.2h22.2v591.2z"/>
<path d="M682.5,1720v-597.5h22.3v597.5z"/>
<path d="M612,1720v-584.7h22v584.7z"/>
<path d="M816,1720v-583h20.7v583z"/>
<path d="M661.5,1720v-577.7h22.3v577.7z"/>
<path d="M787.7,1720v-549.6h20.6v549.6z"/>
<path d="M826,1720v-520.8h22.4v520.8z"/>
<path d="M849.6,1720v-450.2h21v450.2z"/>
<path d="M577.3,1720v-507h19.7v507z"/>
<path d="M881.8,1720v-382.1h17.2v382.1z"/>
<path d="M961,1720v-449h21v449z"/>
<path d="M954.8,1720v-426.6h21v426.6z"/>
</g>
<g clip-path="url(#cb)" fill="#00f" fill-opacity=".3" stroke="#000" stroke-opacity=".5" stroke-width="2.6">
<path d="M599,1720v-7.4h40.1v7.4v-11.8h40v11.8v-23.5h40.1v23.5v-84.6h40v84.6v-109.5h40.1v109.5v-156.2h40v156.2v-209.9h40.1v209.9v-245h40v245v-325.8h40.1v325.8v-425.5h40.1v425.5v-468.3h40v468.3v-458.4h40.1v458.4v-465.7h40v465.7v-494.2h40.1v494.2v-531h40v531v-467.7h40.1v467.7v-572.7h40v572.7v-554.5h40.1v554.5v-436.5h40v436.5v-470.4h40.1v470.4v-422.1h40v422.1v-341.1h40.1v341.1v-291.5h40v291.5v-305.4h40.1v305.4v-233.8h40.1v233.8v-276.2h40v276.2v-263.6h40.1v263.6v-243.3h40v243.3v-189h40.1v189v-54.1h40v54.1z"/>
<path d="M606.7,1720v-9h41v9v-11.2h41v11.2v-30h40.9v30v-89h41v89v-124.7h41v124.7v-171.4h41v171.4v-207.8h40.9v207.8v-263.2h41v263.2v-329.5h41v329.5v-399.5h40.9v399.5v-405.7h41v405.7v-473.1h41v473.1v-437.4h40.9v437.4v-556.1h41v556.1v-488.4h41v488.4v-485.3h41v485.3v-511h40.9v511v-527.7h41v527.7v-457.2h41v457.2v-369h40.9v369v-428.8h41v428.8v-389.1h41v389.1v-298.7h41v298.7v-292.9h40.9v292.9v-250.2h41v250.2v-256.4h41v256.4v-283.4h40.9v283.4v-258.3h41v258.3v-171.5h41v171.5v-50.2h40.9v50.2z"/>
<path d="M595,1720v-4.6h40.6v4.6v-11.6h40.6v11.6v-22h40.6v22v-72.5h40.6v72.5v-116h40.7v116v-158.1h40.6v158.1v-210.2h40.6v210.2v-248h40.6v248v-339.7h40.7v339.7v-341h40.6v341v-442.5h40.6v442.5v-483.1h40.6v483.1v-507.3h40.6v507.3v-484.2h40.7v484.2v-461h40.6v461v-582.5h40.6v582.5v-498.2h40.6v498.2v-581.6h40.6v581.6v-413.7h40.7v413.7v-444h40.6v444v-454.2h40.6v454.2v-345.8h40.6v345.8v-346.5h40.7v346.5v-289.3h40.6v289.3v-257.6h40.6v257.6v-237h40.6v237v-270.5h40.6v270.5v-255h40.7v255v-204.9h40.6v204.9v-54.6h40.6v54.6z"/>
<path d="M617.8,1720v-7h39.7v7v-12.4h39.7v12.4v-48.7h39.7v48.7v-95.7h39.7v95.7v-126.5h39.7v126.5v-174.7h39.7v174.7v-259.3h39.7v259.3v-282.2h39.7v282.2v-322.9h39.7v322.9v-390.3h39.7v390.3v-446.4h39.7v446.4v-476.5h39.7v476.5v-468.4h39.7v468.4v-502.1h39.7v502.1v-495.8h39.7v495.8v-560.7h39.7v560.7v-517.4h39.7v517.4v-456.8h39.7v456.8v-498.2h39.7v498.2v-464.7h39.7v464.7v-368.7h39.7v368.7v-391.6h39.7v391.6v-283.9h39.7v283.9v-307.8h39.7v307.8v-252.5h39.6v252.5v-282.1h39.7v282.1v-244.9h39.7v244.9v-283h39.7v283v-176.1h39.7v176.1v-48.9h39.7v48.9z"/>
<path d="M597.8,1720v-7.2h40.9v7.2v-11h40.9v11v-25.1h40.9v25.1v-85.2h40.9v85.2v-118.3h40.8v118.3v-163.9h40.9v163.9v-196.7h40.9v196.7v-260.3h40.9v260.3v-316.9h40.9v316.9v-363.3h40.9v363.3v-445.7h40.8v445.7v-485.2h40.9v485.2v-433h40.9v433v-519.2h40.9v519.2v-516.4h40.9v516.4v-558.3h40.8v558.3v-511.1h40.9v511.1v-520.1h40.9v520.1v-434.7h40.9v434.7v-479h40.9v479v-428.9h40.8v428.9v-372.3h40.9v372.3v-289.5h40.9v289.5v-285.1h40.9v285.1v-264.2h40.9v264.2v-298.6h40.9v298.6v-265.8h40.8v265.8v-278.3h40.9v278.3v-149.4h40.9v149.4v-48h40.9v48z"/>
<path d="M595,1720v-7.2h40.6v7.2v-9.6h40.6v9.6v-22.9h40.6v22.9v-79h40.6v79v-126.1h40.6v126.1v-143.6h40.6v143.6v-219h40.6v219v-260.9h40.6v260.9v-305.5h40.6v305.5v-399.6h40.7v399.6v-459.5h40.6v459.5v-467h40.6v467v-504.8h40.6v504.8v-511.2h40.6v511.2v-499.5h40.6v499.5v-503.1h40.6v503.1v-487.1h40.6v487.1v-616.7h40.6v616.7v-451.7h40.6v451.7v-446.3h40.6v446.3v-430.6h40.6v430.6v-365.8h40.6v365.8v-313.2h40.7v313.2v-286.8h40.6v286.8v-260.3h40.6v260.3v-246.4h40.6v246.4v-270.5h40.6v270.5v-248.9h40.6v248.9v-205h40.6v205v-60.3h40.6v60.3z"/>
<path d="M600.1,1720v-4.6h41.1v4.6v-11.5h41.2v11.5v-24.9h41.2v24.9v-75.9h41.1v75.9v-101.3h41.2v101.3v-169.8h41.2v169.8v-200.7h41.2v200.7v-248.6h41.1v248.6v-298.4h41.2v298.4v-398.7h41.2v398.7v-430.5h41.2v430.5v-475.7h41.1v475.7v-472.1h41.2v472.1v-549.5h41.2v549.5v-478.3h41.1v478.3v-479.9h41.2v479.9v-544.5h41.2v544.5v-563.9h41.2v563.9v-412.4h41.1v412.4v-453.6h41.2v453.6v-443.9h41.2v443.9v-375.4h41.2v375.4v-326.3h41.1v326.3v-285.8h41.2v285.8v-258.4h41.2v258.4v-273.4h41.2v273.4v-247.9h41.1v247.9v-269.4h41.2v269.4v-186.4h41.2v186.4v-56.3h41.1v56.3z"/>
<path d="M606.2,1720v-7.4h40.3v7.4v-13.2h40.3v13.2v-36.1h40.4v36.1v-81h40.3v81v-131h40.3v131v-155.7h40.3v155.7v-215.2h40.3v215.2v-232.8h40.4v232.8v-378.5h40.3v378.5v-351.6h40.3v351.6v-462.8h40.3v462.8v-476.1h40.3v476.1v-513.5h40.4v513.5v-512.2h40.3v512.2v-522.8h40.3v522.8v-571.8h40.3v571.8v-475.6h40.3v475.6v-539.8h40.3v539.8v-430.5h40.4v430.5v-458.9h40.3v458.9v-445.2h40.3v445.2v-338.1h40.3v338.1v-293h40.3v293v-279.6h40.4v279.6v-255h40.3v255v-295.1h40.3v295.1v-245.4h40.3v245.4v-258.7h40.3v258.7v-179.5h40.4v179.5v-53.4h40.3v53.4z"/>
<path d="M605.8,1720v-7.4h40.1v7.4v-11.1h40.1v11.1v-34.6h40v34.6v-88.5h40.1v88.5v-126.7h40.1v126.7v-173.8h40.1v173.8v-212.3h40v212.3v-247.3h40.1v247.3v-351.3h40.1v351.3v-407.1h40v407.1v-479.8h40.1v479.8v-436.4h40.1v436.4v-493.6h40.1v493.6v-476.1h40v476.1v-513.2h40.1v513.2v-510.5h40.1v510.5v-508.9h40.1v508.9v-508.9h40v508.9v-438.5h40.1v438.5v-482.9h40.1v482.9v-411.4h40v411.4v-393.1h40.1v393.1v-298.1h40.1v298.1v-269.8h40.1v269.8v-265.4h40v265.4v-266.1h40.1v266.1v-271.4h40.1v271.4v-255.5h40v255.5v-189.9h40.1v189.9v-67.2h40.1v67.2z"/>
<path d="M606.5,1720v-4.9h40.1v4.9v-13.1h40.1v13.1v-31.7h40.1v31.7v-87.6h40.1v87.6v-122.6h40.1v122.6v-157.6h40.1v157.6v-226.3h40.2v226.3v-256.3h40.1v256.3v-296.9h40.1v296.9v-390.7h40.1v390.7v-401h40.1v401v-488.9h40.1v488.9v-504.5h40.1v504.5v-468.6h40.1v468.6v-473.9h40.1v473.9v-495.5h40.1v495.5v-455.1h40.1v455.1v-556.5h40.1v556.5v-455.8h40.2v455.8v-457.7h40.1v457.7v-426.4h40.1v426.4v-380h40.1v380v-296.3h40.1v296.3v-264.2h40.1v264.2v-278.6h40.1v278.6v-248.5h40.1v248.5v-254.1h40.1v254.1v-262.3h40.1v262.3v-190.5h40.1v190.5v-65.3h40.2v65.3z"/>
<path d="M620.6,1720v-6.5h40.4v6.5v-14.4h40.5v14.4v-50.7h40.4v50.7v-96.8h40.4v96.8v-142.9h40.4v142.9v-163.6h40.4v163.6v-233.4h40.4v233.4v-236.9h40.4v236.9v-315.7h40.4v315.7v-412.4h40.4v412.4v-484.4h40.4v484.4v-491.3h40.4v491.3v-478.9h40.4v478.9v-482.2h40.4v482.2v-480.9h40.4v480.9v-424.5h40.4v424.5v-550.1h40.4v550.1v-539.6h40.4v539.6v-395.2h40.4v395.2v-460.9h40.5v460.9v-431.4h40.4v431.4v-352.3h40.4v352.3v-317.6h40.4v317.6v-298.5h40.4v298.5v-265.7h40.4v265.7v-257.4h40.4v257.4v-287.5h40.4v287.5v-270.9h40.4v270.9v-178.6h40.4v178.6v-49.2h40.4v49.2z"/>
<path d="M599.6,1720v-5h40.2v5v-11.1h40.2v11.1v-28.8h40.2v28.8v-82.8h40.2v82.8v-104.9h40.2v104.9v-157.2h40.2v157.2v-215.8h40.2v215.8v-268.1h40.2v268.1v-310h40.2v310v-422.7h40.2v422.7v-479.3h40.2v479.3v-509.4h40.2v509.4v-505.5h40.2v505.5v-430.5h40.1v430.5v-552.7h40.2v552.7v-523.9h40.2v523.9v-555.9h40.2v555.9v-531.1h40.2v531.1v-449.5h40.2v449.5v-482h40.2v482v-422.5h40.2v422.5v-356.3h40.2v356.3v-318.3h40.2v318.3v-284.8h40.2v284.8v-297.1h40.2v297.1v-296.3h40.2v296.3v-281.7h40.2v281.7v-246.9h40.2v246.9v-186.7h40.2v186.7v-57.7h40.2v57.7z"/>
<path d="M600.4,1720v-7.2h40v7.2v-11.6h40.1v11.6v-29.7h40v29.7v-88.3h40v88.3v-108.8h40.1v108.8v-164.9h40v164.9v-219.5h40v219.5v-290.3h40.1v290.3v-307.5h40v307.5v-383.3h40v383.3v-480.2h40.1v480.2v-530.7h40v530.7v-449.2h40v449.2v-509.2h40.1v509.2v-488.2h40v488.2v-523.9h40.1v523.9v-537.4h40v537.4v-446.6h40v446.6v-469.9h40.1v469.9v-487.3h40v487.3v-422h40v422v-330.7h40.1v330.7v-314.6h40v314.6v-284.4h40v284.4v-260.7h40.1v260.7v-260.1h40v260.1v-245.8h40v245.8v-281.2h40.1v281.2v-173.9h40v173.9v-47.9h40v47.9z"/>
<path d="M602.3,1720v-7.4h41v7.4v-11.4h41v11.4v-31h41v31v-80.7h41v80.7v-118.5h41v118.5v-177.9h41v177.9v-207h41v207v-241.5h41v241.5v-298.9h41.1v298.9v-395.4h41v395.4v-472.9h41v472.9v-463.5h41v463.5v-434.8h41v434.8v-482h41v482v-491.4h41v491.4v-527.4h41v527.4v-557.4h41v557.4v-579.6h41.1v579.6v-453.4h41v453.4v-452.9h41v452.9v-364.8h41v364.8v-383.1h41v383.1v-322.9h41v322.9v-260.5h41v260.5v-259.7h41v259.7v-238.3h41v238.3v-274.4h41v274.4v-260.7h41.1v260.7v-181.8h41v181.8v-50.3h41v50.3z"/>
<path d="M595.7,1720v-7.3h40.2v7.3v-12.3h40.3v12.3v-22.9h40.2v22.9v-76.6h40.3v76.6v-116.5h40.2v116.5v-157.7h40.3v157.7v-196.8h40.2v196.8v-240.6h40.3v240.6v-326.1h40.2v326.1v-420.2h40.3v420.2v-429.5h40.2v429.5v-458.6h40.3v458.6v-444.5h40.2v444.5v-500.2h40.3v500.2v-552.4h40.2v552.4v-540.7h40.3v540.7v-544.4h40.2v544.4v-469.2h40.3v469.2v-439.2h40.2v439.2v-420h40.3v420v-424.7h40.2v424.7v-375.3h40.3v375.3v-361.1h40.2v361.1v-301.3h40.3v301.3v-262.3h40.2v262.3v-274h40.3v274v-271.3h40.2v271.3v-270.8h40.3v270.8v-198.8h40.2v198.8v-56.8h40.3v56.8z"/>
<path d="M620.3,1720v-7.3h40.2v7.3v-16.8h40.1v16.8v-46.8h40.1v46.8v-105.5h40.1v105.5v-131.5h40.1v131.5v-182.4h40.2v182.4v-215.9h40.1v215.9v-285.2h40.1v285.2v-310.5h40.1v310.5v-429.5h40.2v429.5v-424h40.1v424v-492.3h40.1v492.3v-473.9h40.1v473.9v-500.7h40.1v500.7v-493.8h40.2v493.8v-480.8h40.1v480.8v-558.1h40.1v558.1v-512.9h40.1v512.9v-454.8h40.1v454.8v-419.6h40.2v419.6v-382.4h40.1v382.4v-392h40.1v392v-303.5h40.1v303.5v-285h40.2v285v-232.2h40.1v232.2v-247.6h40.1v247.6v-247.7h40.1v247.7v-289.9h40.1v289.9v-163.4h40.2v163.4v-47.5h40.1v47.5z"/>
<path d="M631.3,1720v-9.1h39.4v9.1v-15.9h39.5v15.9v-65.6h39.5v65.6v-116h39.5v116v-125.1h39.5v125.1v-192.9h39.5v192.9v-249.6h39.5v249.6v-271.6h39.4v271.6v-314.4h39.5v314.4v-428.4h39.5v428.4v-431.6h39.5v431.6v-517.8h39.5v517.8v-476.9h39.5v476.9v-510.6h39.5v510.6v-456.5h39.4v456.5v-549.8h39.5v549.8v-455.3h39.5v455.3v-442.6h39.5v442.6v-418.4h39.5v418.4v-447.5h39.5v447.5v-424.8h39.5v424.8v-339.5h39.5v339.5v-314.8h39.4v314.8v-268.2h39.5v268.2v-263.6h39.5v263.6v-242.9h39.5v242.9v-268h39.5v268v-246.5h39.5v246.5v-171h39.5v171v-51.3h39.4v51.3z"/>
<path d="M598.3,1720v-6.8h40.7v6.8v-12.1h40.8v12.1v-26.4h40.7v26.4v-77.8h40.7v77.8v-132.3h40.7v132.3v-142.6h40.8v142.6v-230.5h40.7v230.5v-244.7h40.7v244.7v-332h40.7v332v-367.1h40.8v367.1v-440.1h40.7v440.1v-458.1h40.7v458.1v-490h40.8v490v-499.8h40.7v499.8v-579h40.7v579v-501.8h40.7v501.8v-551.4h40.8v551.4v-517.9h40.7v517.9v-479.4h40.7v479.4v-443.7h40.7v443.7v-442.9h40.8v442.9v-404.6h40.7v404.6v-310.7h40.7v310.7v-291.4h40.7v291.4v-246.3h40.8v246.3v-257.8h40.7v257.8v-269.1h40.7v269.1v-270.7h40.7v270.7v-194.9h40.8v194.9v-53.3h40.7v53.3z"/>
<path d="M603,1720v-6.5h40.6v6.5v-15.7h40.6v15.7v-29.6h40.5v29.6v-76.6h40.6v76.6v-117.9h40.6v117.9v-172.8h40.6v172.8v-217.5h40.5v217.5v-252.6h40.6v252.6v-307h40.6v307v-426.7h40.5v426.7v-447.4h40.6v447.4v-470.1h40.6v470.1v-415.6h40.6v415.6v-511.1h40.5v511.1v-523.7h40.6v523.7v-530.5h40.6v530.5v-577.2h40.5v577.2v-497.1h40.6v497.1v-509.4h40.6v509.4v-464.1h40.5v464.1v-408.8h40.6v408.8v-377.1h40.6v377.1v-278.9h40.6v278.9v-280.4h40.5v280.4v-287.4h40.6v287.4v-273.1h40.6v273.1v-288h40.5v288v-254.8h40.6v254.8v-160h40.6v160v-43.2h40.6v43.2z"/>
<path d="M610.8,1720v-9.6h39.6v9.6v-14.9h39.6v14.9v-34.5h39.6v34.5v-96.4h39.6v96.4v-110.4h39.6v110.4v-168.1h39.5v168.1v-232.7h39.6v232.7v-258.4h39.6v258.4v-313h39.6v313v-410.9h39.6v410.9v-438.5h39.6v438.5v-538.2h39.6v538.2v-464.8h39.6v464.8v-456h39.6v456v-474h39.6v474v-494h39.6v494v-591.2h39.6v591.2v-500.9h39.6v500.9v-462.5h39.6v462.5v-473.7h39.6v473.7v-407.4h39.6v407.4v-356.7h39.6v356.7v-282.1h39.5v282.1v-275.9h39.6v275.9v-260.7h39.6v260.7v-265.6h39.6v265.6v-261h39.6v261v-269.6h39.6v269.6v-180.8h39.6v180.8v-58.1h39.6v58.1z"/>
<path d="M604.2,1720v-9.8h40.5v9.8v-8.6h40.6v8.6v-32.1h40.6v32.1v-92.4h40.6v92.4v-108.7h40.5v108.7v-159.1h40.6v159.1v-249.3h40.6v249.3v-233.3h40.6v233.3v-310.7h40.5v310.7v-349.9h40.6v349.9v-442.3h40.6v442.3v-500.7h40.6v500.7v-453.7h40.5v453.7v-488h40.6v488v-514.7h40.6v514.7v-467.6h40.6v467.6v-574.6h40.6v574.6v-538.2h40.5v538.2v-469.5h40.6v469.5v-505.8h40.6v505.8v-367.9h40.6v367.9v-373.8h40.5v373.8v-306.6h40.6v306.6v-264.9h40.6v264.9v-273.3h40.6v273.3v-225.9h40.5v225.9v-267.1h40.6v267.1v-252.1h40.6v252.1v-167.8h40.6v167.8v-47.6h40.5v47.6z"/>
<path d="M612.4,1720v-7.5h39.7v7.5v-13.8h39.6v13.8v-39.5h39.7v39.5v-91.7h39.6v91.7v-124.1h39.7v124.1v-177.5h39.6v177.5v-229.7h39.7v229.7v-258.6h39.6v258.6v-328.7h39.7v328.7v-366.8h39.6v366.8v-430.4h39.6v430.4v-545.3h39.7v545.3v-460.1h39.6v460.1v-444.9h39.7v444.9v-475.2h39.6v475.2v-484.2h39.7v484.2v-562.5h39.6v562.5v-459h39.7v459v-436.6h39.6v436.6v-428.4h39.7v428.4v-450.3h39.6v450.3v-364.2h39.7v364.2v-330.3h39.6v330.3v-284.2h39.7v284.2v-264.5h39.6v264.5v-269h39.6v269v-254.3h39.7v254.3v-256.2h39.6v256.2v-199h39.7v199v-71.1h39.6v71.1z"/>
<path d="M609.7,1720v-10h40v10v-14.5h40v14.5v-35.6h40v35.6v-93.3h40v93.3v-132.3h40v132.3v-181.1h40v181.1v-249.7h40v249.7v-259.6h40v259.6v-312h40v312v-396.7h40v396.7v-471.1h40v471.1v-483.3h40v483.3v-471.5h40v471.5v-443.1h40v443.1v-583.1h40v583.1v-512h40v512v-561.7h40v561.7v-542.4h40v542.4v-439.6h39.9v439.6v-427.7h40v427.7v-395.7h40v395.7v-348.5h40v348.5v-311.3h40v311.3v-279.4h40v279.4v-270.6h40v270.6v-260.9h40v260.9v-259.3h40v259.3v-272.3h40v272.3v-177.9h40v177.9v-47.8h40v47.8z"/>
<path d="M599.6,1720v-6.9h40.8v6.9v-11.2h40.8v11.2v-24.8h40.8v24.8v-93.3h40.9v93.3v-108.8h40.8v108.8v-166.1h40.8v166.1v-247.6h40.9v247.6v-232.4h40.8v232.4v-326h40.8v326v-362.6h40.9v362.6v-466.9h40.8v466.9v-497.6h40.8v497.6v-447.3h40.9v447.3v-534.5h40.8v534.5v-472.6h40.8v472.6v-547.3h40.9v547.3v-501.9h40.8v501.9v-523.7h40.8v523.7v-467.5h40.8v467.5v-464.7h40.9v464.7v-406.7h40.8v406.7v-372.5h40.8v372.5v-357.5h40.9v357.5v-266.1h40.8v266.1v-279.6h40.8v279.6v-239.5h40.9v239.5v-264h40.8v264v-278.8h40.8v278.8v-158.6h40.9v158.6v-45.8h40.8v45.8z"/>
<path d="M611.5,1720v-8.4h41.1v8.4v-14.4h41.1v14.4v-43.5h41v43.5v-93.8h41.1v93.8v-122.9h41.1v122.9v-190.6h41.1v190.6v-223.6h41.1v223.6v-238.3h41v238.3v-392.5h41.1v392.5v-385.2h41.1v385.2v-525.7h41.1v525.7v-443.2h41.1v443.2v-512.7h41v512.7v-484.3h41.1v484.3v-487.5h41.1v487.5v-458.6h41.1v458.6v-554.9h41.1v554.9v-534.8h41v534.8v-433h41.1v433v-457.4h41.1v457.4v-399.1h41.1v399.1v-370.5h41.1v370.5v-285h41.1v285v-285.9h41v285.9v-223.2h41.1v223.2v-272.4h41.1v272.4v-297.2h41.1v297.2v-242h41.1v242v-144.7h41v144.7v-43.6h41.1v43.6z"/>
<path d="M596.3,1720v-4.7h40.9v4.7v-13.7h41v13.7v-27.5h40.9v27.5v-78.7h41v78.7v-119.9h41v119.9v-150.5h40.9v150.5v-218.9h41v218.9v-271.8h40.9v271.8v-308.4h41v308.4v-433.6h41v433.6v-428.6h40.9v428.6v-472.5h41v472.5v-452.7h40.9v452.7v-501.4h41v501.4v-480.9h40.9v480.9v-530.4h41v530.4v-570h41v570v-500.3h40.9v500.3v-509.2h41v509.2v-420.9h40.9v420.9v-422.9h41v422.9v-357.4h41v357.4v-346.9h40.9v346.9v-254.3h41v254.3v-268h40.9v268v-279.6h41v279.6v-250.2h40.9v250.2v-265.8h41v265.8v-176.2h41v176.2v-49.3h40.9v49.3z"/>
<path d="M614.6,1720v-7h40.1v7v-15.1h40.2v15.1v-44.1h40.2v44.1v-92.1h40.1v92.1v-124.5h40.2v124.5v-166.6h40.1v166.6v-225.9h40.2v225.9v-259.7h40.2v259.7v-366.4h40.1v366.4v-383.1h40.2v383.1v-494.4h40.2v494.4v-472.4h40.1v472.4v-464.2h40.2v464.2v-531.4h40.1v531.4v-521.9h40.2v521.9v-514.3h40.2v514.3v-512.1h40.1v512.1v-533.5h40.2v533.5v-463.3h40.1v463.3v-409.6h40.2v409.6v-410.6h40.2v410.6v-392.6h40.1v392.6v-296.2h40.2v296.2v-260h40.2v260v-261.9h40.1v261.9v-253h40.2v253v-261h40.1v261v-257.2h40.2v257.2v-161.9h40.2v161.9v-41h40.1v41z"/>
<path d="M601,1720v-4.9h40.5v4.9v-12h40.5v12v-28.5h40.5v28.5v-82.2h40.6v82.2v-117.7h40.5v117.7v-147.4h40.5v147.4v-220h40.6v220v-240.9h40.5v240.9v-358.5h40.5v358.5v-375.5h40.5v375.5v-471.3h40.6v471.3v-517h40.5v517v-534.2h40.5v534.2v-476h40.6v476v-516.8h40.5v516.8v-503.7h40.5v503.7v-568.3h40.5v568.3v-528.1h40.6v528.1v-479.8h40.5v479.8v-484.3h40.5v484.3v-431.8h40.6v431.8v-395.4h40.5v395.4v-265.2h40.5v265.2v-262.9h40.5v262.9v-243.5h40.6v243.5v-266.1h40.5v266.1v-279.5h40.5v279.5v-268.8h40.6v268.8v-182.5h40.5v182.5v-50.6h40.5v50.6z"/>
<path d="M611.6,1720v-6.9h39.9v6.9v-13.5h39.8v13.5v-44.4h39.8v44.4v-91.3h39.8v91.3v-132.9h39.9v132.9v-171.6h39.8v171.6v-232.4h39.8v232.4v-239.6h39.9v239.6v-425.7h39.8v425.7v-392.1h39.8v392.1v-440.2h39.8v440.2v-479.9h39.9v479.9v-481h39.8v481v-476h39.8v476v-498.3h39.9v498.3v-546.5h39.8v546.5v-588.5h39.8v588.5v-460.6h39.8v460.6v-454.7h39.9v454.7v-448.5h39.8v448.5v-427.5h39.8v427.5v-382.8h39.9v382.8v-284.5h39.8v284.5v-282.6h39.8v282.6v-244.5h39.8v244.5v-257.6h39.9v257.6v-259.4h39.8v259.4v-254.7h39.8v254.7v-175.5h39.8v175.5v-41.3h39.9v41.3z"/>
<path d="M610.3,1720v-9.6h40.3v9.6v-11h40.3v11v-34.6h40.2v34.6v-97.8h40.3v97.8v-125.5h40.3v125.5v-152.3h40.3v152.3v-255h40.3v255v-267.6h40.3v267.6v-339h40.2v339v-363.7h40.3v363.7v-470.3h40.3v470.3v-439.6h40.3v439.6v-473h40.3v473v-470.3h40.2v470.3v-490.5h40.3v490.5v-447.2h40.3v447.2v-589.9h40.3v589.9v-514.1h40.3v514.1v-440.2h40.2v440.2v-486.8h40.3v486.8v-365.1h40.3v365.1v-376.5h40.3v376.5v-328.3h40.3v328.3v-300.6h40.3v300.6v-242.6h40.2v242.6v-244.9h40.3v244.9v-235.5h40.3v235.5v-273.3h40.3v273.3v-194h40.3v194v-57.5h40.2v57.5z"/>
<path d="M634.8,1720v-9.1h39.4v9.1v-24.2h39.3v24.2v-67.1h39.4v67.1v-111.7h39.3v111.7v-148h39.4v148v-186.5h39.3v186.5v-248.7h39.4v248.7v-280.8h39.3v280.8v-336.1h39.4v336.1v-427.6h39.3v427.6v-449.2h39.4v449.2v-504.9h39.3v504.9v-461.6h39.4v461.6v-487.9h39.3v487.9v-477.7h39.4v477.7v-507.1h39.3v507.1v-518.7h39.4v518.7v-527.7h39.3v527.7v-474.4h39.4v474.4v-408.6h39.4v408.6v-420.2h39.3v420.2v-352.3h39.4v352.3v-270.5h39.3v270.5v-268.4h39.4v268.4v-251.3h39.3v251.3v-277.3h39.4v277.3v-257.7h39.3v257.7v-260.9h39.4v260.9v-158.4h39.3v158.4v-44.1h39.4v44.1z"/>
<path d="M606.9,1720v-4.5h40.6v4.5v-13.5h40.6v13.5v-37.3h40.6v37.3v-89.2h40.6v89.2v-123h40.7v123v-171.7h40.6v171.7v-225.9h40.6v225.9v-245.1h40.6v245.1v-337.6h40.6v337.6v-394.6h40.6v394.6v-459.5h40.6v459.5v-470.4h40.6v470.4v-430.6h40.7v430.6v-492.4h40.6v492.4v-464.3h40.6v464.3v-478.5h40.6v478.5v-484.2h40.6v484.2v-509h40.6v509v-451.2h40.6v451.2v-470h40.6v470v-375.2h40.7v375.2v-357.9h40.6v357.9v-312h40.6v312v-286.7h40.6v286.7v-244.5h40.6v244.5v-264.4h40.6v264.4v-262.6h40.6v262.6v-251.6h40.7v251.6v-188.6h40.6v188.6v-49.2h40.6v49.2z"/>
<path d="M606.7,1720v-9.4h40.7v9.4v-13.4h40.7v13.4v-32.7h40.6v32.7v-82.4h40.7v82.4v-118.7h40.6v118.7v-180.9h40.7v180.9v-211.3h40.7v211.3v-240.1h40.6v240.1v-300.5h40.7v300.5v-399.3h40.6v399.3v-481.3h40.7v481.3v-508.8h40.7v508.8v-519h40.6v519v-487.2h40.7v487.2v-471.1h40.6v471.1v-466.3h40.7v466.3v-581.4h40.7v581.4v-535.6h40.6v535.6v-469.5h40.7v469.5v-452.5h40.6v452.5v-429h40.7v429v-374.3h40.7v374.3v-319.9h40.6v319.9v-268.8h40.7v268.8v-266.6h40.6v266.6v-277.7h40.7v277.7v-236.6h40.7v236.6v-260.7h40.6v260.7v-201.9h40.7v201.9v-55.8h40.6v55.8z"/>
<path d="M620.1,1720v-7.5h40.1v7.5v-14.8h40.2v14.8v-51.9h40.2v51.9v-93.3h40.1v93.3v-136.9h40.2v136.9v-190.9h40.1v190.9v-248h40.2v248v-257.1h40.1v257.1v-340.6h40.2v340.6v-364.2h40.1v364.2v-444.7h40.2v444.7v-507h40.1v507v-387.1h40.2v387.1v-512.8h40.1v512.8v-483.8h40.2v483.8v-490h40.1v490v-528.2h40.2v528.2v-524.6h40.1v524.6v-425h40.2v425v-485.2h40.1v485.2v-414.1h40.2v414.1v-323.2h40.1v323.2v-292.9h40.2v292.9v-263.4h40.1v263.4v-235h40.2v235v-274.4h40.1v274.4v-267.5h40.2v267.5v-241.8h40.1v241.8v-163h40.2v163v-52h40.1v52z"/>
<path d="M608.2,1720v-5h39.7v5v-15.9h39.7v15.9v-33.9h39.7v33.9v-89h39.7v89v-121.2h39.8v121.2v-172.7h39.7v172.7v-225h39.7v225v-247.5h39.7v247.5v-340.6h39.7v340.6v-395.1h39.7v395.1v-402h39.7v402v-462.5h39.7v462.5v-495.1h39.8v495.1v-510.2h39.7v510.2v-451.4h39.7v451.4v-491.8h39.7v491.8v-560.7h39.7v560.7v-516.6h39.7v516.6v-540.6h39.7v540.6v-423.2h39.7v423.2v-436.8h39.7v436.8v-391h39.8v391v-317.9h39.7v317.9v-258.1h39.7v258.1v-266.6h39.7v266.6v-255h39.7v255v-270.4h39.7v270.4v-289.1h39.7v289.1v-177.6h39.7v177.6v-48h39.7v48z"/>
<path d="M613.2,1720v-6.7h39.8v6.7v-15.6h39.8v15.6v-41.2h39.9v41.2v-94.5h39.8v94.5v-127h39.8v127v-175h39.9v175v-250.4h39.8v250.4v-251.7h39.8v251.7v-355h39.9v355v-387.8h39.8v387.8v-473.7h39.8v473.7v-460.7h39.9v460.7v-476.6h39.8v476.6v-508.1h39.8v508.1v-508.7h39.9v508.7v-510.8h39.8v510.8v-504.6h39.8v504.6v-499.6h39.8v499.6v-458.9h39.9v458.9v-392.8h39.8v392.8v-464.8h39.8v464.8v-301.4h39.9v301.4v-296.8h39.8v296.8v-265.8h39.8v265.8v-262.2h39.9v262.2v-258.3h39.8v258.3v-242h39.8v242v-267.2h39.9v267.2v-156.1h39.8v156.1v-47.5h39.8v47.5z"/>
<path d="M607,1720v-7.7h40.4v7.7v-9.9h40.3v9.9v-36.4h40.3v36.4v-87.6h40.3v87.6v-116.3h40.3v116.3v-162.6h40.3v162.6v-241.4h40.3v241.4v-235.1h40.3v235.1v-284.4h40.3v284.4v-393.8h40.4v393.8v-447.2h40.3v447.2v-455h40.3v455v-488.2h40.3v488.2v-461.5h40.3v461.5v-488.8h40.3v488.8v-569.4h40.3v569.4v-500.2h40.3v500.2v-516.7h40.4v516.7v-441.7h40.3v441.7v-489.6h40.3v489.6v-340.6h40.3v340.6v-391.1h40.3v391.1v-318.3h40.3v318.3v-281.4h40.3v281.4v-253.3h40.3v253.3v-280h40.3v280v-257.1h40.4v257.1v-256.8h40.3v256.8v-196.9h40.3v196.9v-57.6h40.3v57.6z"/>
<path d="M600,1720v-7.1h40.6v7.1v-11h40.6v11v-26.8h40.7v26.8v-80.7h40.6v80.7v-113.1h40.6v113.1v-162.2h40.6v162.2v-208.6h40.7v208.6v-235.9h40.6v235.9v-281h40.6v281v-398.6h40.6v398.6v-446.7h40.7v446.7v-488.2h40.6v488.2v-510h40.6v510v-512.3h40.6v512.3v-443.4h40.7v443.4v-509.2h40.6v509.2v-548.7h40.6v548.7v-451.9h40.6v451.9v-517.3h40.7v517.3v-427.4h40.6v427.4v-412.4h40.6v412.4v-399.3h40.6v399.3v-288.6h40.7v288.6v-317.3h40.6v317.3v-241.1h40.6v241.1v-282.2h40.6v282.2v-271.7h40.6v271.7v-258.2h40.7v258.2v-195.1h40.6v195.1v-49.8h40.6v49.8z"/>
<path d="M606.1,1720v-7.1h41v7.1v-15.7h40.9v15.7v-34.4h40.9v34.4v-86.9h40.9v86.9v-129.9h41v129.9v-160.2h40.9v160.2v-231.3h40.9v231.3v-253h40.9v253v-334.5h41v334.5v-399.7h40.9v399.7v-438h40.9v438v-465.8h40.9v465.8v-441.9h41v441.9v-517.9h40.9v517.9v-491.8h40.9v491.8v-547.2h40.9v547.2v-531.1h41v531.1v-569.6h40.9v569.6v-440.5h40.9v440.5v-456.3h40.9v456.3v-422h40.9v422v-338.4h41v338.4v-317.1h40.9v317.1v-281.9h40.9v281.9v-252.8h40.9v252.8v-272.2h41v272.2v-285.4h40.9v285.4v-240.2h40.9v240.2v-152.4h40.9v152.4v-45.7h41v45.7z"/>
<path d="M609.1,1720v-7.3h39.7v7.3v-15.3h39.7v15.3v-34.6h39.7v34.6v-92.4h39.7v92.4v-122.7h39.7v122.7v-169h39.7v169v-215.8h39.7v215.8v-266.7h39.8v266.7v-317.3h39.7v317.3v-385.6h39.7v385.6v-488.1h39.7v488.1v-464.1h39.7v464.1v-452.9h39.7v452.9v-523.3h39.7v523.3v-510.8h39.7v510.8v-463h39.7v463v-576h39.8v576v-500.6h39.7v500.6v-472.5h39.7v472.5v-485.9h39.7v485.9v-399.7h39.7v399.7v-356.5h39.7v356.5v-338.1h39.7v338.1v-249.4h39.7v249.4v-292.2h39.8v292.2v-247h39.7v247v-269.7h39.7v269.7v-263h39.7v263v-183.5h39.7v183.5v-47.7h39.7v47.7z"/>
<path d="M599.7,1720v-6.7h40.2v6.7v-11.6h40.3v11.6v-27.3h40.2v27.3v-74.9h40.2v74.9v-115.7h40.2v115.7v-158h40.2v158v-228.9h40.2v228.9v-266.8h40.2v266.8v-313.2h40.2v313.2v-368.3h40.2v368.3v-437.3h40.3v437.3v-475.9h40.2v475.9v-483.3h40.2v483.3v-477.4h40.2v477.4v-506h40.2v506v-527.5h40.2v527.5v-508h40.2v508v-504.3h40.2v504.3v-451.7h40.2v451.7v-473.1h40.3v473.1v-410.5h40.2v410.5v-357.6h40.2v357.6v-322.5h40.2v322.5v-309.8h40.2v309.8v-248.8h40.2v248.8v-267.3h40.2v267.3v-259.6h40.2v259.6v-265.7h40.2v265.7v-204.7h40.3v204.7v-65.7h40.2v65.7z"/>
<path d="M599.4,1720v-4.7h41v4.7v-11.6h41.1v11.6v-28.3h41.1v28.3v-90.4h41v90.4v-121.6h41.1v121.6v-152.9h41.1v152.9v-220.7h41v220.7v-273.3h41.1v273.3v-331.9h41.1v331.9v-406.5h41v406.5v-464.2h41.1v464.2v-454.2h41.1v454.2v-479.7h41v479.7v-554h41.1v554v-511.3h41.1v511.3v-527h41v527v-561h41.1v561v-539.1h41.1v539.1v-419.2h41v419.2v-459.6h41.1v459.6v-446.7h41.1v446.7v-346.3h41v346.3v-297.9h41.1v297.9v-279.3h41.1v279.3v-244.4h41v244.4v-242.2h41.1v242.2v-291.9h41.1v291.9v-278.8h41v278.8v-175.9h41.1v175.9v-51.5h41.1v51.5z"/>
<path d="M594.1,1720v-5h40.4v5v-12.7h40.4v12.7v-24.8h40.4v24.8v-71.2h40.3v71.2v-110.9h40.4v110.9v-179.1h40.4v179.1v-191.2h40.4v191.2v-252.3h40.4v252.3v-285.4h40.3v285.4v-372h40.4v372v-415h40.4v415v-489.3h40.4v489.3v-450.1h40.4v450.1v-482.4h40.3v482.4v-477.2h40.4v477.2v-509.6h40.4v509.6v-522h40.4v522v-528.3h40.4v528.3v-485.6h40.3v485.6v-435.4h40.4v435.4v-447.8h40.4v447.8v-374.8h40.4v374.8v-305.3h40.4v305.3v-254.5h40.4v254.5v-262.4h40.3v262.4v-246.1h40.4v246.1v-259.2h40.4v259.2v-282.8h40.4v282.8v-181.1h40.4v181.1v-59.3h40.3v59.3z"/>
<path d="M625.1,1720v-11.8h39.6v11.8v-16.4h39.5v16.4v-62h39.5v62v-104.2h39.5v104.2v-131h39.5v131v-210.6h39.5v210.6v-230.7h39.6v230.7v-255.4h39.5v255.4v-351.7h39.5v351.7v-405.7h39.5v405.7v-437.9h39.5v437.9v-461.3h39.6v461.3v-456.6h39.5v456.6v-465.2h39.5v465.2v-526.1h39.5v526.1v-459.5h39.5v459.5v-478.1h39.5v478.1v-555h39.6v555v-428.4h39.5v428.4v-441h39.5v441v-463.8h39.5v463.8v-339.1h39.5v339.1v-295.7h39.5v295.7v-271.4h39.6v271.4v-251.9h39.5v251.9v-296.4h39.5v296.4v-242.1h39.5v242.1v-238.4h39.5v238.4v-169.1h39.5v169.1v-44h39.6v44z"/>
<path d="M598.9,1720v-6.7h39.8v6.7v-11.1h39.7v11.1v-26h39.8v26v-83.8h39.7v83.8v-107.5h39.7v107.5v-166.1h39.8v166.1v-213.7h39.7v213.7v-258.4h39.7v258.4v-309.9h39.8v309.9v-356h39.7v356v-444.3h39.8v444.3v-513.3h39.7v513.3v-506.9h39.7v506.9v-468.1h39.8v468.1v-466.1h39.7v466.1v-512.5h39.8v512.5v-501.5h39.7v501.5v-521.2h39.7v521.2v-454.2h39.8v454.2v-464.7h39.7v464.7v-428.7h39.7v428.7v-365.1h39.8v365.1v-302.5h39.7v302.5v-295.3h39.8v295.3v-272.1h39.7v272.1v-267.3h39.7v267.3v-252.3h39.8v252.3v-259h39.7v259v-208.1h39.7v208.1v-71.3h39.8v71.3z"/>
<path d="M595.5,1720v-4.9h40.4v4.9v-11.2h40.5v11.2v-26.2h40.4v26.2v-76.5h40.5v76.5v-115.2h40.4v115.2v-144.7h40.5v144.7v-202h40.4v202v-261.8h40.5v261.8v-297.9h40.4v297.9v-429.3h40.5v429.3v-439.7h40.4v439.7v-447.8h40.5v447.8v-474.5h40.4v474.5v-523.7h40.5v523.7v-492h40.4v492v-540.6h40.5v540.6v-541.4h40.4v541.4v-536.6h40.5v536.6v-461.2h40.4v461.2v-446.3h40.5v446.3v-460.8h40.4v460.8v-343.9h40.5v343.9v-330h40.4v330v-308.2h40.5v308.2v-286.6h40.4v286.6v-248.5h40.5v248.5v-259.9h40.4v259.9v-279.1h40.5v279.1v-207.1h40.4v207.1v-55.4h40.5v55.4z"/>
<path d="M600.6,1720v-6.9h41.1v6.9v-11.3h41.1v11.3v-25.9h41.1v25.9v-85.8h41.2v85.8v-115.9h41.1v115.9v-167.1h41.1v167.1v-200.2h41.1v200.2v-260.7h41.1v260.7v-331.5h41.1v331.5v-400.6h41.1v400.6v-434.6h41.1v434.6v-506.2h41.1v506.2v-486.5h41.2v486.5v-491.1h41.1v491.1v-472.5h41.1v472.5v-473h41.1v473v-513h41.1v513v-526.9h41.1v526.9v-459.5h41.1v459.5v-405.3h41.1v405.3v-481h41.1v481v-385.2h41.1v385.2v-278.4h41.2v278.4v-264.9h41.1v264.9v-261.2h41.1v261.2v-249.8h41.1v249.8v-269.9h41.1v269.9v-265h41.1v265v-192.6h41.1v192.6v-52.9h41.1v52.9z"/>
<path d="M596.8,1720v-6.9h41.2v6.9v-12.6h41.2v12.6v-23.5h41.2v23.5v-80h41.2v80v-103.4h41.2v103.4v-148.8h41.2v148.8v-227.8h41.1v227.8v-241.3h41.2v241.3v-325.7h41.2v325.7v-405.3h41.2v405.3v-410.3h41.2v410.3v-494.5h41.2v494.5v-463.5h41.2v463.5v-502.2h41.2v502.2v-469.7h41.1v469.7v-478.8h41.2v478.8v-510.5h41.2v510.5v-594.6h41.2v594.6v-477.1h41.2v477.1v-456.2h41.2v456.2v-417.7h41.2v417.7v-331.5h41.2v331.5v-354.7h41.2v354.7v-290.5h41.1v290.5v-263.1h41.2v263.1v-281.6h41.2v281.6v-249.8h41.2v249.8v-252.2h41.2v252.2v-206.3h41.2v206.3v-57h41.2v57z"/>
<path d="M621,1720v-7.3h39.5v7.3v-17.8h39.5v17.8v-47.9h39.5v47.9v-99.9h39.5v99.9v-140.8h39.5v140.8v-167.8h39.5v167.8v-224.7h39.5v224.7v-275.5h39.5v275.5v-325.5h39.5v325.5v-420h39.5v420v-439.5h39.5v439.5v-460.8h39.5v460.8v-545.6h39.5v545.6v-463.4h39.5v463.4v-520.2h39.5v520.2v-517h39.5v517v-561.8h39.5v561.8v-497.9h39.5v497.9v-402.1h39.5v402.1v-451.4h39.5v451.4v-391.2h39.5v391.2v-334.2h39.5v334.2v-349.2h39.5v349.2v-298.1h39.5v298.1v-254.6h39.5v254.6v-253.6h39.5v253.6v-258.8h39.5v258.8v-270.2h39.5v270.2v-199.7h39.5v199.7v-49.8h39.5v49.8z"/>
<path d="M629.8,1720v-11.9h39.9v11.9v-15.7h39.8v15.7v-68.5h39.8v68.5v-101.3h39.8v101.3v-138.3h39.8v138.3v-193.2h39.8v193.2v-282.5h39.9v282.5v-241.9h39.8v241.9v-393.7h39.8v393.7v-380.6h39.8v380.6v-453.4h39.8v453.4v-483.9h39.8v483.9v-489.8h39.8v489.8v-433.9h39.9v433.9v-494.8h39.8v494.8v-488.2h39.8v488.2v-553.5h39.8v553.5v-497.7h39.8v497.7v-450.1h39.8v450.1v-418.6h39.9v418.6v-391.3h39.8v391.3v-384.2h39.8v384.2v-285.3h39.8v285.3v-251.1h39.8v251.1v-281h39.8v281v-283.5h39.9v283.5v-237.1h39.8v237.1v-247.8h39.8v247.8v-169.5h39.8v169.5v-52h39.8v52z"/>
<path d="M594.4,1720v-4.9h40.8v4.9v-13.4h40.8v13.4v-23.6h40.8v23.6v-77.2h40.8v77.2v-109.2h40.8v109.2v-153.7h40.8v153.7v-209.4h40.8v209.4v-251.2h40.8v251.2v-301h40.8v301v-388.3h40.8v388.3v-423.6h40.8v423.6v-450.3h40.8v450.3v-487.9h40.8v487.9v-480.9h40.8v480.9v-536.2h40.8v536.2v-539.1h40.7v539.1v-543.2h40.8v543.2v-512.5h40.8v512.5v-505.6h40.8v505.6v-445.3h40.8v445.3v-452.8h40.8v452.8v-370.9h40.8v370.9v-289h40.8v289v-319.2h40.8v319.2v-255.5h40.8v255.5v-258h40.8v258v-281.4h40.8v281.4v-260.5h40.8v260.5v-182.8h40.8v182.8v-47.4h40.8v47.4z"/>
<path d="M604.8,1720v-8.9h40.6v8.9v-11.5h40.7v11.5v-31.4h40.7v31.4v-85.1h40.6v85.1v-123.7h40.7v123.7v-157.8h40.6v157.8v-195.5h40.7v195.5v-259.7h40.7v259.7v-358.6h40.6v358.6v-339.5h40.7v339.5v-455.4h40.6v455.4v-456.3h40.7v456.3v-481.8h40.7v481.8v-470.9h40.6v470.9v-504.2h40.7v504.2v-485.8h40.6v485.8v-559.1h40.7v559.1v-500.7h40.7v500.7v-466.2h40.6v466.2v-462.7h40.7v462.7v-442.7h40.6v442.7v-334.6h40.7v334.6v-300.3h40.7v300.3v-283.8h40.6v283.8v-261.2h40.7v261.2v-247h40.6v247v-264.7h40.7v264.7v-267.5h40.7v267.5v-181.4h40.6v181.4v-50.5h40.7v50.5z"/>
<path d="M627.6,1720v-10.4h39.5v10.4v-16.3h39.5v16.3v-56.4h39.5v56.4v-108.5h39.5v108.5v-129.1h39.5v129.1v-173.7h39.5v173.7v-256.6h39.5v256.6v-229.2h39.5v229.2v-332.1h39.5v332.1v-428.1h39.5v428.1v-437.6h39.5v437.6v-453.6h39.5v453.6v-468.5h39.5v468.5v-467h39.5v467v-526h39.5v526v-517.5h39.5v517.5v-491.7h39.5v491.7v-527h39.5v527v-466.7h39.5v466.7v-450.7h39.5v450.7v-367.3h39.5v367.3v-350.7h39.5v350.7v-298.2h39.5v298.2v-258.5h39.5v258.5v-263.5h39.5v263.5v-244.5h39.5v244.5v-255h39.5v255v-264.7h39.5v264.7v-192.6h39.5v192.6v-52h39.5v52z"/>
<path d="M609.9,1720v-7.3h40.1v7.3v-13.8h40.1v13.8v-35.3h40.1v35.3v-94.3h40.1v94.3v-126.1h40.1v126.1v-178.9h40.1v178.9v-231h40.1v231v-288.8h40.1v288.8v-317.7h40.1v317.7v-407.9h40.1v407.9v-421.2h40.1v421.2v-524.3h40.1v524.3v-492.6h40.1v492.6v-490.6h40.1v490.6v-562.8h40.1v562.8v-500.4h40.1v500.4v-467.1h40.1v467.1v-513.3h40.1v513.3v-455.1h40.1v455.1v-480.1h40.1v480.1v-441.1h40.1v441.1v-362.8h40.1v362.8v-298.4h40.1v298.4v-260.8h40.1v260.8v-277.1h40.1v277.1v-249.5h40.1v249.5v-294.4h40.1v294.4v-252.2h40.1v252.2v-141.3h40.1v141.3v-43.5h40.1v43.5z"/>
<path d="M600.6,1720v-6.6h40.6v6.6v-10.2h40.6v10.2v-29.5h40.6v29.5v-84.4h40.6v84.4v-126h40.6v126v-157.9h40.6v157.9v-212.1h40.6v212.1v-258.7h40.6v258.7v-347.5h40.6v347.5v-401.5h40.6v401.5v-407.4h40.6v407.4v-501.3h40.6v501.3v-412.8h40.6v412.8v-475.7h40.6v475.7v-501.2h40.6v501.2v-440.1h40.6v440.1v-554.4h40.7v554.4v-543.8h40.6v543.8v-436h40.6v436v-460.3h40.6v460.3v-431.7h40.6v431.7v-359.2h40.6v359.2v-335.8h40.6v335.8v-284.2h40.6v284.2v-262.3h40.6v262.3v-257.1h40.6v257.1v-275.6h40.6v275.6v-282.2h40.6v282.2v-190.4h40.6v190.4v-63.6h40.6v63.6z"/>
<path d="M624.8,1720v-9.1h39.2v9.1v-14.4h39.2v14.4v-61.6h39.2v61.6v-106.5h39.2v106.5v-132.2h39.2v132.2v-208.6h39.2v208.6v-234.7h39.3v234.7v-245.9h39.2v245.9v-392h39.2v392v-390.4h39.2v390.4v-452.2h39.2v452.2v-451.4h39.2v451.4v-462.3h39.2v462.3v-503.2h39.3v503.2v-477.6h39.2v477.6v-445.4h39.2v445.4v-529.3h39.2v529.3v-507.1h39.2v507.1v-448.8h39.2v448.8v-414h39.3v414v-329.3h39.2v329.3v-350.8h39.2v350.8v-322h39.2v322v-257.3h39.2v257.3v-256.9h39.2v256.9v-263.3h39.2v263.3v-253.1h39.3v253.1v-248.1h39.2v248.1v-174.5h39.2v174.5v-53.6h39.2v53.6z"/>
<path d="M608.2,1720v-7.3h40.7v7.3v-14.8h40.6v14.8v-31.8h40.7v31.8v-90h40.6v90v-129.8h40.7v129.8v-174.4h40.6v174.4v-237h40.7v237v-250.8h40.6v250.8v-345.6h40.7v345.6v-380.5h40.6v380.5v-452.5h40.7v452.5v-452h40.6v452v-506.2h40.7v506.2v-486.2h40.6v486.2v-455h40.7v455v-600h40.6v600v-474.2h40.7v474.2v-553h40.6v553v-455.6h40.7v455.6v-415.2h40.6v415.2v-417.4h40.7v417.4v-399h40.6v399v-289.3h40.7v289.3v-264h40.6v264v-290.2h40.7v290.2v-240.9h40.6v240.9v-300h40.7v300v-264.9h40.6v264.9v-162.6h40.7v162.6v-53.3h40.6v53.3z"/>
<path d="M595.3,1720v-4.7h40.3v4.7v-11.3h40.3v11.3v-25.5h40.4v25.5v-83.8h40.3v83.8v-117.2h40.3v117.2v-156.2h40.4v156.2v-221h40.3v221v-257.8h40.3v257.8v-286.5h40.4v286.5v-398.5h40.3v398.5v-438.6h40.3v438.6v-454h40.3v454v-473.6h40.4v473.6v-468.9h40.3v468.9v-491.3h40.3v491.3v-508.5h40.4v508.5v-486.6h40.3v486.6v-508.2h40.3v508.2v-466.2h40.4v466.2v-433.6h40.3v433.6v-456.3h40.3v456.3v-358.7h40.4v358.7v-318.4h40.3v318.4v-284.7h40.3v284.7v-268.6h40.4v268.6v-272.4h40.3v272.4v-274.4h40.3v274.4v-254.8h40.4v254.8v-177h40.3v177v-55.5h40.3v55.5z"/>
<path d="M597.3,1720v-7.4h41.1v7.4v-9.4h41.1v9.4v-25.3h41.1v25.3v-70.4h41.2v70.4v-109.7h41.1v109.7v-146.6h41.1v146.6v-235.1h41.1v235.1v-262.4h41.1v262.4v-315.1h41.1v315.1v-402.2h41.1v402.2v-402.5h41.1v402.5v-493h41.1v493v-486.2h41.1v486.2v-480.3h41.1v480.3v-499h41.1v499v-484.1h41.1v484.1v-519.7h41.1v519.7v-527.3h41.1v527.3v-448.8h41.1v448.8v-435.9h41.1v435.9v-443.8h41.1v443.8v-381.3h41.2v381.3v-296.2h41.1v296.2v-270.3h41.1v270.3v-272.8h41.1v272.8v-299h41.1v299v-292.1h41.1v292.1v-239h41.1v239v-179.8h41.1v179.8v-54.3h41.1v54.3z"/>
<path d="M612.7,1720v-7.1h40.4v7.1v-13.4h40.3v13.4v-45h40.3v45v-94.8h40.3v94.8v-135.8h40.3v135.8v-184.4h40.3v184.4v-216.1h40.4v216.1v-233.4h40.3v233.4v-341.7h40.3v341.7v-408.4h40.3v408.4v-439.9h40.3v439.9v-463.6h40.3v463.6v-501.7h40.4v501.7v-521.8h40.3v521.8v-481.1h40.3v481.1v-528.4h40.3v528.4v-501.6h40.3v501.6v-501.3h40.3v501.3v-470.2h40.4v470.2v-461.3h40.3v461.3v-361.8h40.3v361.8v-342.9h40.3v342.9v-295.7h40.3v295.7v-285.2h40.3v285.2v-252.4h40.4v252.4v-242.1h40.3v242.1v-254.6h40.3v254.6v-259.1h40.3v259.1v-176.3h40.3v176.3v-43.9h40.3v43.9z"/>
<path d="M594.5,1720v-7h40.4v7v-9.4h40.4v9.4v-22.5h40.4v22.5v-76.1h40.4v76.1v-125.7h40.3v125.7v-152.5h40.4v152.5v-203.4h40.4v203.4v-237.5h40.4v237.5v-294.8h40.3v294.8v-389.4h40.4v389.4v-440.7h40.4v440.7v-454.1h40.4v454.1v-516.3h40.4v516.3v-485h40.3v485v-522.7h40.4v522.7v-493h40.4v493v-554.4h40.4v554.4v-486.7h40.3v486.7v-436.2h40.4v436.2v-476.1h40.4v476.1v-421.2h40.4v421.2v-367.8h40.4v367.8v-319.1h40.3v319.1v-284.3h40.4v284.3v-260.4h40.4v260.4v-238.6h40.4v238.6v-263.8h40.4v263.8v-232.6h40.3v232.6v-210.8h40.4v210.8v-56.1h40.4v56.1z"/>
<path d="M606.6,1720v-6.8h40.5v6.8v-13.7h40.4v13.7v-35.5h40.4v35.5v-90.4h40.4v90.4v-125h40.4v125v-173.7h40.4v173.7v-208.4h40.5v208.4v-245.2h40.4v245.2v-325.3h40.4v325.3v-400.1h40.4v400.1v-440.4h40.4v440.4v-480.9h40.4v480.9v-490.2h40.4v490.2v-561h40.5v561v-471.4h40.4v471.4v-452.3h40.4v452.3v-523.2h40.4v523.2v-499.6h40.4v499.6v-491.8h40.4v491.8v-467.5h40.4v467.5v-385.3h40.5v385.3v-345.8h40.4v345.8v-302.2h40.4v302.2v-290.2h40.4v290.2v-275.5h40.4v275.5v-252.6h40.4v252.6v-254.1h40.5v254.1v-287.5h40.4v287.5v-169.3h40.4v169.3v-50.1h40.4v50.1z"/>
<path d="M619.7,1720v-8.5h40.2v8.5v-15.6h40.2v15.6v-57.1h40.2v57.1v-94.5h40.2v94.5v-133.1h40.2v133.1v-177.8h40.2v177.8v-213.3h40.2v213.3v-266.7h40.2v266.7v-372.4h40.2v372.4v-380.3h40.2v380.3v-455.2h40.2v455.2v-500.6h40.2v500.6v-492.5h40.2v492.5v-420.2h40.2v420.2v-482.6h40.2v482.6v-529.5h40.2v529.5v-514.9h40.2v514.9v-498.7h40.2v498.7v-476.4h40.2v476.4v-439.2h40.2v439.2v-391.5h40.2v391.5v-337.2h40.2v337.2v-305.8h40.2v305.8v-279h40.2v279v-271.4h40.2v271.4v-272.5h40.2v272.5v-251.5h40.2v251.5v-278.5h40.3v278.5v-164.6h40.2v164.6v-54.1h40.2v54.1z"/>
<path d="M617.6,1720v-4.8h40v4.8v-15.2h40.1v15.2v-47.1h40v47.1v-96.4h40v96.4v-125.3h40.1v125.3v-174h40v174v-220.7h40.1v220.7v-256.7h40v256.7v-371.6h40v371.6v-413.7h40.1v413.7v-466.3h40v466.3v-443.7h40v443.7v-447.3h40.1v447.3v-529.6h40v529.6v-456.6h40.1v456.6v-524.2h40v524.2v-523.2h40v523.2v-507.7h40.1v507.7v-467.6h40v467.6v-455.3h40v455.3v-398.6h40.1v398.6v-377.9h40v377.9v-294h40.1v294v-259.5h40v259.5v-268.4h40v268.4v-232.7h40.1v232.7v-246.5h40v246.5v-272.3h40v272.3v-174.5h40.1v174.5v-45h40v45z"/>
<path d="M595.7,1720v-6.6h40.2v6.6v-9.9h40.2v9.9v-25.5h40.1v25.5v-77.4h40.2v77.4v-117.6h40.2v117.6v-164.1h40.1v164.1v-224.5h40.2v224.5v-249.9h40.2v249.9v-274.1h40.1v274.1v-360.8h40.2v360.8v-422.9h40.2v422.9v-509.4h40.1v509.4v-431.8h40.2v431.8v-509.9h40.2v509.9v-493.5h40.1v493.5v-558.2h40.2v558.2v-528.2h40.2v528.2v-489.7h40.1v489.7v-424.5h40.2v424.5v-441.1h40.2v441.1v-444.3h40.1v444.3v-339.7h40.2v339.7v-337.1h40.2v337.1v-288.2h40.1v288.2v-229.1h40.2v229.1v-244.2h40.2v244.2v-287.4h40.2v287.4v-252.1h40.1v252.1v-197.9h40.2v197.9v-57h40.2v57z"/>
<path d="M601.3,1720v-7.3h40.3v7.3v-12.5h40.3v12.5v-25.6h40.3v25.6v-96.1h40.3v96.1v-111.5h40.3v111.5v-159.8h40.3v159.8v-223.6h40.3v223.6v-263h40.3v263v-344.7h40.3v344.7v-372.5h40.3v372.5v-439.2h40.3v439.2v-462.2h40.3v462.2v-579.8h40.4v579.8v-440.8h40.3v440.8v-440h40.3v440v-535.3h40.3v535.3v-507.5h40.3v507.5v-562.2h40.3v562.2v-438.2h40.3v438.2v-428.4h40.3v428.4v-400.2h40.3v400.2v-394.8h40.3v394.8v-312h40.3v312v-262.9h40.3v262.9v-259.8h40.3v259.8v-275.1h40.3v275.1v-260h40.4v260v-251.9h40.3v251.9v-187.2h40.3v187.2v-58h40.3v58z"/>
<path d="M614.2,1720v-6.7h39.7v6.7v-13.7h39.6v13.7v-40h39.7v40v-99.1h39.7v99.1v-121.3h39.7v121.3v-170.3h39.6v170.3v-236.5h39.7v236.5v-250h39.7v250v-344.3h39.7v344.3v-438.6h39.6v438.6v-408.3h39.7v408.3v-495.2h39.7v495.2v-482.2h39.7v482.2v-469.1h39.6v469.1v-475.1h39.7v475.1v-512.3h39.7v512.3v-554.4h39.7v554.4v-479h39.6v479v-481.5h39.7v481.5v-447.6h39.7v447.6v-367.4h39.7v367.4v-375h39.6v375v-290.4h39.7v290.4v-330.3h39.7v330.3v-239.1h39.7v239.1v-244.6h39.7v244.6v-251.1h39.6v251.1v-217.4h39.7v217.4v-204.4h39.7v204.4v-54.5h39.7v54.5z"/>
<path d="M632.4,1720v-5.8h39.2v5.8v-25.3h39.2v25.3v-65.6h39.1v65.6v-107.1h39.2v107.1v-146h39.2v146v-186h39.2v186v-240.2h39.2v240.2v-263.7h39.2v263.7v-350h39.2v350v-378.1h39.1v378.1v-468.1h39.2v468.1v-466.2h39.2v466.2v-475.1h39.2v475.1v-528h39.2v528v-526.4h39.2v526.4v-539.6h39.2v539.6v-543.6h39.1v543.6v-452.7h39.2v452.7v-452h39.2v452v-433.4h39.2v433.4v-398.3h39.2v398.3v-340.6h39.2v340.6v-306.5h39.2v306.5v-269.1h39.1v269.1v-261.9h39.2v261.9v-255.2h39.2v255.2v-273.5h39.2v273.5v-291.3h39.2v291.3v-173.8h39.2v173.8v-50.3h39.2v50.3z"/>
<path d="M604.5,1720v-10h40.2v10v-9.1h40.3v9.1v-31.5h40.2v31.5v-90.5h40.3v90.5v-115h40.3v115v-148.1h40.2v148.1v-218.1h40.3v218.1v-253.1h40.2v253.1v-302.3h40.3v302.3v-374.2h40.3v374.2v-420.6h40.2v420.6v-511h40.3v511v-425.7h40.2v425.7v-490.4h40.3v490.4v-486.5h40.3v486.5v-497.8h40.2v497.8v-600.8h40.3v600.8v-442.3h40.2v442.3v-513.2h40.3v513.2v-451.4h40.2v451.4v-377.7h40.3v377.7v-413.5h40.3v413.5v-310.2h40.2v310.2v-310.6h40.3v310.6v-270.6h40.2v270.6v-258.1h40.3v258.1v-265.8h40.3v265.8v-248.1h40.2v248.1v-188.9h40.3v188.9v-55.6h40.2v55.6z"/>
<path d="M596.1,1720v-7.7h39.9v7.7v-10.4h39.9v10.4v-21.4h40v21.4v-77.9h39.9v77.9v-109.8h39.9v109.8v-155h40v155v-204.8h39.9v204.8v-248.4h39.9v248.4v-319.9h39.9v319.9v-394.8h40v394.8v-453.8h39.9v453.8v-466.2h39.9v466.2v-473.4h39.9v473.4v-444.7h40v444.7v-558.4h39.9v558.4v-520.2h39.9v520.2v-563.9h39.9v563.9v-511.4h40v511.4v-424h39.9v424v-444.1h39.9v444.1v-434.8h39.9v434.8v-338.8h40v338.8v-314.8h39.9v314.8v-285.2h39.9v285.2v-256h39.9v256v-242.9h40v242.9v-264.7h39.9v264.7v-285.6h39.9v285.6v-204.3h40v204.3v-49.6h39.9v49.6z"/>
<path d="M608.1,1720v-7.1h40.2v7.1v-11.2h40.1v11.2v-37h40.2v37v-88.9h40.2v88.9v-130h40.1v130v-173.1h40.2v173.1v-245.2h40.2v245.2v-234.8h40.2v234.8v-355.1h40.1v355.1v-364.9h40.2v364.9v-490.1h40.2v490.1v-475.3h40.2v475.3v-489.4h40.1v489.4v-489.3h40.2v489.3v-505.8h40.2v505.8v-486.8h40.2v486.8v-565.7h40.1v565.7v-470.4h40.2v470.4v-434.7h40.2v434.7v-421h40.2v421v-417.9h40.1v417.9v-342.5h40.2v342.5v-303.6h40.2v303.6v-285.4h40.2v285.4v-268h40.1v268v-259.6h40.2v259.6v-272.6h40.2v272.6v-268.1h40.2v268.1v-175h40.1v175v-51.2h40.2v51.2z"/>
<path d="M622,1720v-6.1h40.4v6.1v-17.1h40.3v17.1v-49h40.4v49v-106h40.3v106v-138.6h40.4v138.6v-156.6h40.4v156.6v-253.3h40.3v253.3v-238.4h40.4v238.4v-332h40.3v332v-381.6h40.4v381.6v-448h40.3v448v-451h40.4v451v-489.3h40.3v489.3v-463.7h40.4v463.7v-555.9h40.3v555.9v-488.9h40.4v488.9v-494.2h40.3v494.2v-536.4h40.4v536.4v-461.7h40.4v461.7v-393.5h40.3v393.5v-419.5h40.4v419.5v-355.7h40.3v355.7v-292.4h40.4v292.4v-268.4h40.3v268.4v-268.9h40.4v268.9v-238.7h40.3v238.7v-250.9h40.4v250.9v-266.6h40.3v266.6v-187.5h40.4v187.5v-49.6h40.3v49.6z"/>
<path d="M607.2,1720v-7.3h40.7v7.3v-10.9h40.6v10.9v-34.8h40.7v34.8v-95.8h40.7v95.8v-118.1h40.6v118.1v-161.9h40.7v161.9v-206.8h40.7v206.8v-266.2h40.6v266.2v-349.7h40.7v349.7v-418.3h40.7v418.3v-429.4h40.7v429.4v-498.3h40.6v498.3v-498.4h40.7v498.4v-496.9h40.7v496.9v-486.4h40.6v486.4v-567.3h40.7v567.3v-493.4h40.7v493.4v-494.2h40.6v494.2v-448.8h40.7v448.8v-407h40.7v407v-420.1h40.7v420.1v-352.9h40.6v352.9v-347.1h40.7v347.1v-288.2h40.7v288.2v-227.9h40.6v227.9v-255h40.7v255v-264.3h40.7v264.3v-246.8h40.6v246.8v-180.7h40.7v180.7v-51.9h40.7v51.9z"/>
<path d="M595.3,1720v-6.8h41.5v6.8v-8.5h41.4v8.5v-25.6h41.5v25.6v-78.1h41.5v78.1v-118.7h41.4v118.7v-165.7h41.5v165.7v-212h41.5v212v-229.9h41.4v229.9v-339.1h41.5v339.1v-420.3h41.4v420.3v-436.5h41.5v436.5v-456.9h41.5v456.9v-439.5h41.4v439.5v-542.7h41.5v542.7v-505.8h41.5v505.8v-484.2h41.4v484.2v-599.5h41.5v599.5v-509h41.4v509v-481.9h41.5v481.9v-441.4h41.5v441.4v-411h41.4v411v-363.6h41.5v363.6v-316.1h41.5v316.1v-293.9h41.4v293.9v-282.9h41.5v282.9v-269.1h41.4v269.1v-285.6h41.5v285.6v-269.5h41.5v269.5v-169.5h41.4v169.5v-43.4h41.5v43.4z"/>
<path d="M613,1720v-7.9h40.2v7.9v-16.3h40.1v16.3v-41.4h40.2v41.4v-88.5h40.2v88.5v-130.1h40.2v130.1v-164.9h40.1v164.9v-201h40.2v201v-279.4h40.2v279.4v-331.7h40.1v331.7v-366h40.2v366v-478.3h40.2v478.3v-453.2h40.2v453.2v-454.6h40.1v454.6v-490.7h40.2v490.7v-528.7h40.2v528.7v-510.4h40.1v510.4v-518.3h40.2v518.3v-497h40.2v497v-416h40.2v416v-441.5h40.1v441.5v-450h40.2v450v-320.4h40.2v320.4v-303.5h40.1v303.5v-271.3h40.2v271.3v-262.1h40.2v262.1v-272.7h40.2v272.7v-246h40.1v246v-276.2h40.2v276.2v-179.5h40.2v179.5v-60.9h40.1v60.9z"/>
<path d="M596,1720v-4.1h40.5v4.1v-12.3h40.6v12.3v-25.8h40.5v25.8v-80.7h40.6v80.7v-109.8h40.5v109.8v-138.9h40.6v138.9v-227.6h40.5v227.6v-280.9h40.5v280.9v-301.1h40.6v301.1v-364.4h40.5v364.4v-513.9h40.6v513.9v-529.6h40.5v529.6v-419.4h40.6v419.4v-485.6h40.5v485.6v-508.9h40.5v508.9v-530.6h40.6v530.6v-509.6h40.5v509.6v-536.1h40.6v536.1v-428.3h40.5v428.3v-435.7h40.6v435.7v-430.2h40.5v430.2v-325.4h40.5v325.4v-330.1h40.6v330.1v-284.8h40.5v284.8v-279.6h40.6v279.6v-264.5h40.5v264.5v-263.4h40.6v263.4v-264.6h40.5v264.6v-189.8h40.6v189.8v-53.7h40.5v53.7z"/>
<path d="M597.4,1720v-7.2h40.7v7.2v-8.6h40.7v8.6v-23.9h40.7v23.9v-80.7h40.7v80.7v-116.6h40.7v116.6v-150h40.8v150v-212.1h40.7v212.1v-257.2h40.7v257.2v-294.7h40.7v294.7v-377.5h40.7v377.5v-456.8h40.7v456.8v-467.3h40.8v467.3v-474.9h40.7v474.9v-476.6h40.7v476.6v-558.2h40.7v558.2v-511.5h40.7v511.5v-486.7h40.7v486.7v-528.1h40.7v528.1v-458.1h40.8v458.1v-431.7h40.7v431.7v-432.4h40.7v432.4v-375.9h40.7v375.9v-328h40.7v328v-277.8h40.7v277.8v-249.3h40.8v249.3v-242.8h40.7v242.8v-260.1h40.7v260.1v-270.1h40.7v270.1v-168.9h40.7v168.9v-51.4h40.7v51.4z"/>
<path d="M598.7,1720v-7h40.3v7v-9.4h40.2v9.4v-27.3h40.2v27.3v-81.5h40.3v81.5v-118.8h40.2v118.8v-147.4h40.2v147.4v-207.8h40.3v207.8v-206h40.2v206v-331h40.2v331v-388.5h40.2v388.5v-445.9h40.3v445.9v-457.8h40.2v457.8v-519.9h40.2v519.9v-478h40.3v478v-531.6h40.2v531.6v-471.7h40.2v471.7v-486.7h40.2v486.7v-499.1h40.3v499.1v-466.6h40.2v466.6v-474.8h40.2v474.8v-455.7h40.3v455.7v-394.2h40.2v394.2v-341.2h40.2v341.2v-296.1h40.3v296.1v-271.6h40.2v271.6v-287.6h40.2v287.6v-248.6h40.2v248.6v-283.1h40.3v283.1v-205.9h40.2v205.9v-51.3h40.2v51.3z"/>
<path d="M595.2,1720v-5.1h40.8v5.1v-13.8h40.8v13.8v-23.5h40.9v23.5v-88.3h40.8v88.3v-110.4h40.8v110.4v-141.7h40.8v141.7v-207.1h40.8v207.1v-289.1h40.9v289.1v-312.8h40.8v312.8v-403.8h40.8v403.8v-455h40.8v455v-471.3h40.9v471.3v-463.5h40.8v463.5v-485.2h40.8v485.2v-489.8h40.8v489.8v-529.1h40.8v529.1v-525.1h40.9v525.1v-488.2h40.8v488.2v-451.8h40.8v451.8v-446.8h40.8v446.8v-406.4h40.8v406.4v-333.3h40.9v333.3v-306.5h40.8v306.5v-285.1h40.8v285.1v-276.1h40.8v276.1v-273.5h40.9v273.5v-238.4h40.8v238.4v-266.9h40.8v266.9v-187.6h40.8v187.6v-49.7h40.8v49.7z"/>
<path d="M617.6,1720v-8.3h39.6v8.3v-16h39.5v16v-40.4h39.6v40.4v-109.5h39.5v109.5v-129.3h39.6v129.3v-181.4h39.5v181.4v-224.2h39.6v224.2v-218.7h39.6v218.7v-369h39.5v369v-393.2h39.6v393.2v-473.4h39.5v473.4v-474h39.6v474v-418.3h39.5v418.3v-510.6h39.6v510.6v-491.7h39.6v491.7v-539.7h39.5v539.7v-469.7h39.6v469.7v-520.3h39.5v520.3v-431.6h39.6v431.6v-419.8h39.5v419.8v-415.9h39.6v415.9v-375.1h39.6v375.1v-314.7h39.5v314.7v-279.5h39.6v279.5v-293.5h39.5v293.5v-270.3h39.6v270.3v-232.3h39.5v232.3v-248.6h39.6v248.6v-189.4h39.6v189.4v-55.1h39.5v55.1z"/>
<path d="M598.3,1720v-6.5h40.2v6.5v-11.4h40.2v11.4v-28.6h40.1v28.6v-76.1h40.2v76.1v-109.8h40.2v109.8v-183.6h40.2v183.6v-224.3h40.1v224.3v-271.3h40.2v271.3v-287.5h40.2v287.5v-378.6h40.2v378.6v-464.7h40.1v464.7v-486.3h40.2v486.3v-468.7h40.2v468.7v-538.8h40.2v538.8v-490.7h40.1v490.7v-517.2h40.2v517.2v-595.7h40.2v595.7v-530.6h40.2v530.6v-433.9h40.2v433.9v-478.2h40.1v478.2v-410h40.2v410v-361.9h40.2v361.9v-322h40.2v322v-281.3h40.1v281.3v-283.8h40.2v283.8v-254.8h40.2v254.8v-258.4h40.2v258.4v-271.6h40.1v271.6v-170.1h40.2v170.1v-50.2h40.2v50.2z"/>
<path d="M600,1720v-4.8h39.9v4.8v-11.8h40v11.8v-26h39.9v26v-78.3h40v78.3v-119h39.9v119v-175.7h40v175.7v-215.1h39.9v215.1v-288.8h40v288.8v-312.9h39.9v312.9v-397.6h40v397.6v-447.8h39.9v447.8v-523.3h40v523.3v-471.9h39.9v471.9v-521.8h40v521.8v-455.9h39.9v455.9v-544.2h40v544.2v-540.6h39.9v540.6v-537.3h40v537.3v-444.4h39.9v444.4v-477.8h40v477.8v-422.2h39.9v422.2v-377.5h40v377.5v-317.2h39.9v317.2v-281.6h40v281.6v-300.7h39.9v300.7v-247.3h40v247.3v-273.1h39.9v273.1v-270.6h40v270.6v-195.4h39.9v195.4v-52.6h40v52.6z"/>
<path d="M622.8,1720v-10.8h39.5v10.8v-13.1h39.4v13.1v-50.1h39.4v50.1v-101.3h39.4v101.3v-135.9h39.4v135.9v-190.6h39.4v190.6v-234h39.4v234v-249h39.4v249v-350.9h39.4v350.9v-410.6h39.4v410.6v-440.1h39.4v440.1v-489.9h39.5v489.9v-498.4h39.4v498.4v-447.2h39.4v447.2v-504.6h39.4v504.6v-559.6h39.4v559.6v-497.7h39.4v497.7v-519.6h39.4v519.6v-428.5h39.4v428.5v-488.6h39.4v488.6v-402.1h39.4v402.1v-341.2h39.5v341.2v-305.5h39.4v305.5v-260.4h39.4v260.4v-275.3h39.4v275.3v-258.7h39.4v258.7v-275.8h39.4v275.8v-246.4h39.4v246.4v-197.6h39.4v197.6v-56h39.4v56z"/>
<path d="M607.4,1720v-10.2h39.9v10.2v-12.9h39.9v12.9v-33.3h39.8v33.3v-94.6h39.9v94.6v-113.7h39.9v113.7v-169.1h39.8v169.1v-234.4h39.9v234.4v-261.5h39.9v261.5v-324.1h39.8v324.1v-412.1h39.9v412.1v-417.4h39.9v417.4v-451.6h39.8v451.6v-424.6h39.9v424.6v-492.9h39.9v492.9v-493.8h39.8v493.8v-535.6h39.9v535.6v-565.2h39.9v565.2v-513.6h39.8v513.6v-439.8h39.9v439.8v-421.4h39.9v421.4v-407.4h39.8v407.4v-331.7h39.9v331.7v-302.3h39.9v302.3v-290h39.8v290v-265.9h39.9v265.9v-278.9h39.9v278.9v-239h39.8v239v-278.9h39.9v278.9v-194.4h39.9v194.4v-64.8h39.8v64.8z"/>
<path d="M627.5,1720v-9.5h39.5v9.5v-17.6h39.5v17.6v-59.8h39.5v59.8v-108.9h39.4v108.9v-121.5h39.5v121.5v-172.3h39.5v172.3v-241.3h39.5v241.3v-263.6h39.5v263.6v-352.7h39.4v352.7v-402.8h39.5v402.8v-481.1h39.5v481.1v-497.5h39.5v497.5v-397h39.4v397v-493.6h39.5v493.6v-473.8h39.5v473.8v-474.2h39.5v474.2v-565.3h39.5v565.3v-452.3h39.4v452.3v-473h39.5v473v-396.4h39.5v396.4v-405.2h39.5v405.2v-338.3h39.5v338.3v-298.4h39.4v298.4v-242.5h39.5v242.5v-263h39.5v263v-256.6h39.5v256.6v-236.4h39.4v236.4v-274.8h39.5v274.8v-160.6h39.5v160.6v-41.9h39.5v41.9z"/>
<path d="M617,1720v-9.7h39.9v9.7v-12.7h39.9v12.7v-46.5h39.9v46.5v-99.8h39.9v99.8v-115.6h39.9v115.6v-182.1h39.9v182.1v-221.7h39.8v221.7v-258.6h39.9v258.6v-329.9h39.9v329.9v-403.3h39.9v403.3v-429.7h39.9v429.7v-525.5h39.9v525.5v-458.7h39.9v458.7v-472.4h39.9v472.4v-528.7h39.8v528.7v-443h39.9v443v-565.3h39.9v565.3v-503.1h39.9v503.1v-431.5h39.9v431.5v-472.5h39.9v472.5v-394h39.9v394v-364.5h39.9v364.5v-320.9h39.9v320.9v-256.9h39.8v256.9v-267.8h39.9v267.8v-247.3h39.9v247.3v-253.8h39.9v253.8v-260.2h39.9v260.2v-172.6h39.9v172.6v-50.1h39.9v50.1z"/>
<path d="M608.4,1720v-7h40v7v-11.3h40.1v11.3v-38.5h40.1v38.5v-88h40v88v-128.1h40.1v128.1v-162.2h40v162.2v-221.3h40.1v221.3v-267.7h40.1v267.7v-343.6h40v343.6v-389.7h40.1v389.7v-486.6h40v486.6v-453.4h40.1v453.4v-474.8h40.1v474.8v-494.9h40v494.9v-514.2h40.1v514.2v-479.5h40v479.5v-531.8h40.1v531.8v-587.8h40.1v587.8v-442.1h40v442.1v-442.8h40.1v442.8v-384.5h40v384.5v-383.6h40.1v383.6v-309.3h40.1v309.3v-266.1h40v266.1v-276h40.1v276v-250.4h40.1v250.4v-265.6h40v265.6v-270.1h40.1v270.1v-167.1h40v167.1v-48.4h40.1v48.4z"/>
<path d="M597.1,1720v-7.3h40.3v7.3v-13.2h40.4v13.2v-26.2h40.3v26.2v-88.9h40.3v88.9v-119.7h40.3v119.7v-151.7h40.3v151.7v-241.2h40.3v241.2v-249h40.3v249v-322.6h40.3v322.6v-408.3h40.3v408.3v-406.8h40.3v406.8v-508.4h40.3v508.4v-489.6h40.3v489.6v-476h40.3v476v-459h40.3v459v-532.4h40.3v532.4v-505.8h40.3v505.8v-537.9h40.3v537.9v-453h40.3v453v-486.4h40.3v486.4v-438h40.3v438v-365h40.3v365v-277.1h40.3v277.1v-293.9h40.3v293.9v-271.4h40.3v271.4v-251.3h40.3v251.3v-272.9h40.3v272.9v-251.5h40.3v251.5v-154.1h40.3v154.1v-46h40.3v46z"/>
<path d="M595.3,1720v-6.8h40.2v6.8v-13.2h40.1v13.2v-20.1h40.1v20.1v-78.7h40.1v78.7v-119.6h40.1v119.6v-143.3h40.1v143.3v-222.2h40.2v222.2v-242.7h40.1v242.7v-282.2h40.1v282.2v-337.8h40.1v337.8v-478.3h40.1v478.3v-474h40.2v474v-428.8h40.1v428.8v-510.6h40.1v510.6v-558.2h40.1v558.2v-490.3h40.1v490.3v-541.9h40.2v541.9v-526h40.1v526v-480h40.1v480v-474.8h40.1v474.8v-412h40.1v412v-377h40.2v377v-351.7h40.1v351.7v-264.2h40.1v264.2v-263.5h40.1v263.5v-246.4h40.1v246.4v-290.2h40.2v290.2v-255.8h40.1v255.8v-196.8h40.1v196.8v-65.5h40.1v65.5z"/>
<path d="M599.7,1720v-8.8h40.5v8.8v-9.6h40.4v9.6v-27.5h40.4v27.5v-77h40.4v77v-128.5h40.4v128.5v-167.8h40.4v167.8v-207h40.4v207v-253.2h40.4v253.2v-333.7h40.4v333.7v-411.9h40.5v411.9v-412.5h40.4v412.5v-455.1h40.4v455.1v-498.4h40.4v498.4v-467.1h40.4v467.1v-550.7h40.4v550.7v-533.4h40.4v533.4v-538.9h40.4v538.9v-521.8h40.4v521.8v-439.5h40.4v439.5v-470.8h40.5v470.8v-461.6h40.4v461.6v-375.9h40.4v375.9v-310.8h40.4v310.8v-284.3h40.4v284.3v-262.2h40.4v262.2v-220.7h40.4v220.7v-277.5h40.4v277.5v-278.2h40.4v278.2v-179.6h40.5v179.6v-54.7h40.4v54.7z"/>
<path d="M611,1720v-9.7h40.1v9.7v-12.1h40.1v12.1v-43.2h40.1v43.2v-100.3h40.1v100.3v-120h40v120v-167.3h40.1v167.3v-248.8h40.1v248.8v-260.3h40.1v260.3v-354h40.1v354v-386.5h40v386.5v-467.4h40.1v467.4v-453.3h40.1v453.3v-451.4h40.1v451.4v-507.9h40.1v507.9v-496.5h40v496.5v-497.5h40.1v497.5v-498.8h40.1v498.8v-518.8h40.1v518.8v-457.2h40.1v457.2v-476.7h40v476.7v-409.6h40.1v409.6v-381.6h40.1v381.6v-338.2h40.1v338.2v-221.2h40.1v221.2v-274.7h40v274.7v-285.5h40.1v285.5v-247.1h40.1v247.1v-241.5h40.1v241.5v-168h40.1v168v-48h40v48z"/>
<path d="M611.6,1720v-10h40.3v10v-10.8h40.3v10.8v-38.4h40.4v38.4v-101.8h40.3v101.8v-122.7h40.3v122.7v-170.3h40.4v170.3v-199.3h40.3v199.3v-264h40.3v264v-339.8h40.4v339.8v-367.1h40.3v367.1v-444h40.3v444v-459h40.4v459v-463.4h40.3v463.4v-532.4h40.3v532.4v-484.2h40.4v484.2v-506.5h40.3v506.5v-594.8h40.3v594.8v-476.1h40.4v476.1v-447.1h40.3v447.1v-459.1h40.3v459.1v-352.5h40.4v352.5v-353.1h40.3v353.1v-313.4h40.3v313.4v-275.9h40.4v275.9v-220.7h40.3v220.7v-250.7h40.3v250.7v-238.2h40.3v238.2v-272.6h40.4v272.6v-152.2h40.3v152.2v-40.6h40.3v40.6z"/>
<path d="M595.5,1720v-7.2h40.7v7.2v-9h40.8v9v-25.5h40.7v25.5v-70.8h40.7v70.8v-114.1h40.8v114.1v-147.8h40.7v147.8v-207.6h40.8v207.6v-256.8h40.7v256.8v-299.2h40.7v299.2v-358.7h40.8v358.7v-488.4h40.7v488.4v-435h40.8v435v-487.4h40.7v487.4v-540.6h40.7v540.6v-495h40.8v495v-491.4h40.7v491.4v-479.4h40.7v479.4v-611h40.8v611v-442.1h40.7v442.1v-450.8h40.8v450.8v-395.3h40.7v395.3v-356.1h40.7v356.1v-336h40.8v336v-260.7h40.7v260.7v-238.9h40.8v238.9v-273.8h40.7v273.8v-273.4h40.7v273.4v-257.3h40.8v257.3v-186.9h40.7v186.9v-56.6h40.8v56.6z"/>
<path d="M601.1,1720v-6.8h40.5v6.8v-9h40.5v9v-30.9h40.4v30.9v-82.6h40.5v82.6v-120.6h40.5v120.6v-165.9h40.5v165.9v-210.1h40.5v210.1v-266.2h40.4v266.2v-298.5h40.5v298.5v-389h40.5v389v-468h40.5v468v-415.4h40.4v415.4v-485.4h40.5v485.4v-442.1h40.5v442.1v-474.1h40.5v474.1v-534.7h40.4v534.7v-590.7h40.5v590.7v-528.3h40.5v528.3v-448.9h40.5v448.9v-494.8h40.5v494.8v-417.8h40.4v417.8v-368.5h40.5v368.5v-287.6h40.5v287.6v-287.6h40.5v287.6v-256.5h40.4v256.5v-279.3h40.5v279.3v-285.1h40.5v285.1v-248.5h40.5v248.5v-175.5h40.4v175.5v-45.5h40.5v45.5z"/>
<path d="M615.5,1720v-8.9h39.8v8.9v-14.5h39.7v14.5v-51.5h39.8v51.5v-90h39.7v90v-124.8h39.8v124.8v-194.6h39.7v194.6v-212.3h39.8v212.3v-255.1h39.7v255.1v-325.2h39.8v325.2v-367.2h39.7v367.2v-515.7h39.8v515.7v-435.3h39.7v435.3v-508.3h39.8v508.3v-495.7h39.7v495.7v-463.6h39.8v463.6v-562.6h39.7v562.6v-565h39.8v565v-508.2h39.7v508.2v-436.5h39.8v436.5v-442.9h39.7v442.9v-406h39.8v406v-356.7h39.7v356.7v-325.4h39.8v325.4v-281.1h39.7v281.1v-261.5h39.8v261.5v-243.3h39.7v243.3v-252.4h39.8v252.4v-261.4h39.7v261.4v-181.5h39.8v181.5v-49.7h39.7v49.7z"/>
<path d="M596.2,1720v-6.2h40.8v6.2v-9.6h40.7v9.6v-23.8h40.8v23.8v-83.7h40.7v83.7v-123.6h40.8v123.6v-142.2h40.8v142.2v-207.4h40.7v207.4v-271.6h40.8v271.6v-342.7h40.7v342.7v-337.5h40.8v337.5v-438.9h40.7v438.9v-529.8h40.8v529.8v-455.5h40.7v455.5v-534.4h40.8v534.4v-552.5h40.8v552.5v-501.3h40.7v501.3v-562.2h40.8v562.2v-503.3h40.7v503.3v-452.8h40.8v452.8v-486.6h40.7v486.6v-395.9h40.8v395.9v-373.5h40.7v373.5v-324.1h40.8v324.1v-268.7h40.8v268.7v-242.8h40.7v242.8v-279.3h40.8v279.3v-249.6h40.7v249.6v-244.9h40.8v244.9v-176.4h40.7v176.4v-52.3h40.8v52.3z"/>
<path d="M597.7,1720v-7.2h41.2v7.2v-9h41.3v9v-29.1h41.2v29.1v-86.2h41.2v86.2v-109.1h41.2v109.1v-183h41.2v183v-175.6h41.2v175.6v-290.6h41.2v290.6v-289.3h41.2v289.3v-401.1h41.2v401.1v-415.1h41.2v415.1v-491.7h41.2v491.7v-452h41.2v452v-512.4h41.2v512.4v-520.3h41.2v520.3v-484.1h41.2v484.1v-503.4h41.2v503.4v-547.2h41.2v547.2v-481.3h41.2v481.3v-459.7h41.2v459.7v-441.1h41.2v441.1v-357.1h41.2v357.1v-356.4h41.2v356.4v-285.6h41.2v285.6v-269.7h41.2v269.7v-225.1h41.2v225.1v-275.7h41.2v275.7v-259.5h41.2v259.5v-187.9h41.2v187.9v-51.3h41.3v51.3z"/>
<path d="M600.4,1720v-5h40.3v5v-12.7h40.2v12.7v-25.4h40.2v25.4v-79.3h40.2v79.3v-121.2h40.3v121.2v-154.8h40.2v154.8v-206.6h40.2v206.6v-269h40.2v269v-316.9h40.3v316.9v-430.6h40.2v430.6v-389h40.2v389v-489.1h40.2v489.1v-431.3h40.3v431.3v-494.1h40.2v494.1v-472.7h40.2v472.7v-523h40.2v523v-542.7h40.3v542.7v-521.4h40.2v521.4v-472.7h40.2v472.7v-433.7h40.2v433.7v-387.2h40.3v387.2v-311.6h40.2v311.6v-321h40.2v321v-272.5h40.2v272.5v-282.6h40.3v282.6v-266.4h40.2v266.4v-262.6h40.2v262.6v-267h40.2v267v-176.5h40.3v176.5v-52.8h40.2v52.8z"/>
<path d="M594.7,1720v-4.5h40.9v4.5v-9.7h40.9v9.7v-24.5h41v24.5v-80.5h40.9v80.5v-112.9h41v112.9v-155.9h40.9v155.9v-229.4h40.9v229.4v-271h41v271v-296.3h40.9v296.3v-370.4h41v370.4v-451.8h40.9v451.8v-510.8h40.9v510.8v-463.7h41v463.7v-510.6h40.9v510.6v-524.1h41v524.1v-479.7h40.9v479.7v-543.1h40.9v543.1v-519.5h41v519.5v-469.5h40.9v469.5v-435.6h40.9v435.6v-426.6h41v426.6v-354.8h40.9v354.8v-318.4h41v318.4v-322.2h40.9v322.2v-268h40.9v268v-239.3h41v239.3v-263.1h40.9v263.1v-281.9h41v281.9v-172.6h40.9v172.6v-46.9h40.9v46.9z"/>
<path d="M595.9,1720v-4.4h40.9v4.4v-12.6h40.8v12.6v-24.2h40.9v24.2v-79.4h40.8v79.4v-111.1h40.8v111.1v-161.3h40.9v161.3v-201.9h40.8v201.9v-255.1h40.9v255.1v-269.7h40.8v269.7v-355.6h40.8v355.6v-434.7h40.9v434.7v-509.6h40.8v509.6v-456.8h40.9v456.8v-482.1h40.8v482.1v-471.1h40.8v471.1v-494.8h40.9v494.8v-572.7h40.8v572.7v-514.8h40.9v514.8v-521.4h40.8v521.4v-453.7h40.8v453.7v-426.8h40.9v426.8v-338.1h40.8v338.1v-308.7h40.9v308.7v-283.1h40.8v283.1v-253.1h40.8v253.1v-283.5h40.9v283.5v-277.1h40.8v277.1v-267.4h40.9v267.4v-189.5h40.8v189.5v-57.8h40.8v57.8z"/>
</g>
<g clip-path="url(#cb)" fill="#00f" fill-opacity=".3" stroke="#000" stroke-opacity=".3" stroke-width="2.6">
<path d="M1286,1720v-685.2h41v685.2z"/>
<path d="M1293.6,1720v-654.8h39.4v654.8z"/>
<path d="M1262.6,1720v-652.5h33.4v652.5z"/>
<path d="M1209.4,1720v-642.2h37.1v642.2z"/>
<path d="M1216.8,1720v-634.7h35.9v634.7z"/>
<path d="M1098,1720v-590.8h38.4v590.8z"/>
<path d="M1156.2,1720v-590.8h38.4v590.8z"/>
<path d="M1106.7,1720v-586.3h39.6v586.3z"/>
<path d="M1349.3,1720v-583.7h35.7v583.7z"/>
<path d="M1064.6,1720v-581.4h38.4v581.4z"/>
<path d="M1355.4,1720v-561.3h38.4v561.3z"/>
<path d="M1058.4,1720v-571.6h37.1v571.6z"/>
<path d="M1022.5,1720v-533.2h35.9v533.2z"/>
<path d="M1011.4,1720v-507h30.9v507z"/>
<path d="M990.3,1720v-473.8h21.1v473.8z"/>
<path d="M942,1720v-410.7h32v410.7z"/>
<path d="M1565.2,1720v-448.6h31.2v448.6z"/>
<path d="M1623,1720v-427h35.8v427z"/>
<path d="M1481,1720v-438.5h39v438.5z"/>
<path d="M1492,1720v-417.7h39v417.7z"/>
<path d="M1541.8,1720v-389.4h32.8v389.4z"/>
<path d="M1579.3,1720v-389.4h32.7v389.4z"/>
<path d="M1616.7,1720v-398h34.3v398z"/>
<path d="M1406,1720v-521.3h37.6v521.3z"/>
<path d="M1401.5,1720v-505.6h39v505.6z"/>
<path d="M1679,1720v-293.5h53v293.5z"/>
<path d="M1782,1720v-188.5h26.5v188.5z"/>
<path d="M1802.3,1720v-78.3h42.1v78.3z"/>
<path d="M1844.4,1720v-29.5h39.9v29.5z"/>
<path d="M1760,1720v-196.5h42.3v196.5z"/>
<path d="M1802.3,1720v-29.5h40.7v29.5z"/>
</g>
<rect x="415" y="1001.0" width="4" height="719.0" fill="#000"/>
<rect x="717" y="1001.0" width="4" height="719.0" fill="#000"/>
<rect x="1235" y="1001.0" width="4" height="719.0" fill="#000"/>
<text x="720.5" y="45.7" font-size="35.6" font-weight="bold" textLength="618.1" lengthAdjust="spacingAndGlyphs">Predicted Wage Distribution OLS</text>
<text x="884.0" y="84.5" font-size="35.6" font-weight="bold" textLength="315.9" lengthAdjust="spacingAndGlyphs">Observed Values</text>
<text x="720.4" y="947.5" font-size="35.6" font-weight="bold" textLength="618.4" lengthAdjust="spacingAndGlyphs">Predicted Wage Distribution OLS</text>
<text x="681.0" y="984.7" font-size="35.6" font-weight="bold" textLength="721.8" lengthAdjust="spacingAndGlyphs">Counterfactually Set Education Values</text>
<text x="70.3" y="834.8" font-size="43.0" textLength="23.7" lengthAdjust="spacingAndGlyphs">0</text>
<text x="46.6" y="748.7" font-size="43.0" textLength="47.4" lengthAdjust="spacingAndGlyphs">50</text>
<text x="20.1" y="662.7" font-size="43.0" textLength="73.1" lengthAdjust="spacingAndGlyphs">100</text>
<text x="20.1" y="576.1" font-size="43.0" textLength="73.1" lengthAdjust="spacingAndGlyphs">150</text>
<text x="20.3" y="490.0" font-size="43.0" textLength="73.2" lengthAdjust="spacingAndGlyphs">200</text>
<text x="20.3" y="404.4" font-size="43.0" textLength="73.2" lengthAdjust="spacingAndGlyphs">250</text>
<text x="21.1" y="318.4" font-size="43.0" textLength="72.4" lengthAdjust="spacingAndGlyphs">300</text>
<text x="21.1" y="232.3" font-size="43.0" textLength="72.4" lengthAdjust="spacingAndGlyphs">350</text>
<text x="21.9" y="146.2" font-size="43.0" textLength="71.6" lengthAdjust="spacingAndGlyphs">400</text>
<text x="70.3" y="1735.3" font-size="43.0" textLength="23.7" lengthAdjust="spacingAndGlyphs">0</text>
<text x="46.6" y="1618.4" font-size="43.0" textLength="47.4" lengthAdjust="spacingAndGlyphs">50</text>
<text x="20.1" y="1501.4" font-size="43.0" textLength="73.1" lengthAdjust="spacingAndGlyphs">100</text>
<text x="20.1" y="1383.9" font-size="43.0" textLength="73.1" lengthAdjust="spacingAndGlyphs">150</text>
<text x="20.3" y="1267.0" font-size="43.0" textLength="73.2" lengthAdjust="spacingAndGlyphs">200</text>
<text x="20.3" y="1150.6" font-size="43.0" textLength="73.2" lengthAdjust="spacingAndGlyphs">250</text>
<text x="21.1" y="1033.7" font-size="43.0" textLength="72.4" lengthAdjust="spacingAndGlyphs">300</text>
<text x="103.0" y="859.8" font-size="43.0" textLength="24.2" lengthAdjust="spacingAndGlyphs">0</text>
<text x="446.3" y="859.8" font-size="43.0" textLength="73.0" lengthAdjust="spacingAndGlyphs">500</text>
<text x="800.9" y="859.8" font-size="43.0" textLength="98.3" lengthAdjust="spacingAndGlyphs">1000</text>
<text x="1168.6" y="859.8" font-size="43.0" textLength="98.3" lengthAdjust="spacingAndGlyphs">1500</text>
<text x="1537.3" y="859.8" font-size="43.0" textLength="97.7" lengthAdjust="spacingAndGlyphs">2000</text>
<text x="1905.0" y="859.8" font-size="43.0" textLength="98.5" lengthAdjust="spacingAndGlyphs">2500</text>
<text x="292.9" y="1759.6" font-size="43.0" textLength="73.8" lengthAdjust="spacingAndGlyphs">200</text>
<text x="635.7" y="1759.6" font-size="43.0" textLength="72.2" lengthAdjust="spacingAndGlyphs">400</text>
<text x="975.2" y="1759.6" font-size="43.0" textLength="73.8" lengthAdjust="spacingAndGlyphs">600</text>
<text x="1317.1" y="1759.6" font-size="43.0" textLength="73.0" lengthAdjust="spacingAndGlyphs">800</text>
<text x="1644.4" y="1759.6" font-size="43.0" textLength="98.3" lengthAdjust="spacingAndGlyphs">1000</text>
<text x="936.7" y="897.7" font-size="25.4" textLength="196.5" lengthAdjust="spacingAndGlyphs">Predicted Wage</text>
<text x="762.6" y="1797.8" font-size="25.4" textLength="545.9" lengthAdjust="spacingAndGlyphs">Predicted Counterfactual Wage Distribution</text>
<rect x="1423.3" y="138.8" width="78.2" height="27.6" fill="#808080" fill-opacity=".3" stroke="#000" stroke-opacity=".3" stroke-width="2.2"/>
<rect x="1422.5" y="196" width="79" height="27" fill="#00f" fill-opacity=".2"/>
<text x="1530.0" y="167.1" font-size="42.4" textLength="400.0" lengthAdjust="spacingAndGlyphs">Predicted Histogram</text>
<text x="1530.8" y="224.2" font-size="42.4" textLength="403.5" lengthAdjust="spacingAndGlyphs">Observed Histogram</text>
<rect x="1408.6" y="1039" width="78.7" height="27.7" fill="#f00" fill-opacity=".3" stroke="#000" stroke-opacity=".3" stroke-width="2.2"/>
<text x="1515.9" y="1068.0" font-size="42.4" textLength="378.8" lengthAdjust="spacingAndGlyphs">Edu: 2, Mean 251.0</text>
<rect x="1408.6" y="1096.5" width="78.7" height="27.7" fill="#800080" fill-opacity=".3" stroke="#000" stroke-opacity=".3" stroke-width="2.2"/>
<text x="1515.9" y="1125.8" font-size="42.4" textLength="413.7" lengthAdjust="spacingAndGlyphs">Edu: 10, Mean 428.0</text>
<rect x="1408.6" y="1154" width="78.7" height="27.7" fill="#00f" fill-opacity=".3" stroke="#000" stroke-opacity=".3" stroke-width="2.2"/>
<text x="1515.9" y="1182.8" font-size="42.4" textLength="413.7" lengthAdjust="spacingAndGlyphs">Edu: 18, Mean 732.0</text>
</svg>
</body></html>
